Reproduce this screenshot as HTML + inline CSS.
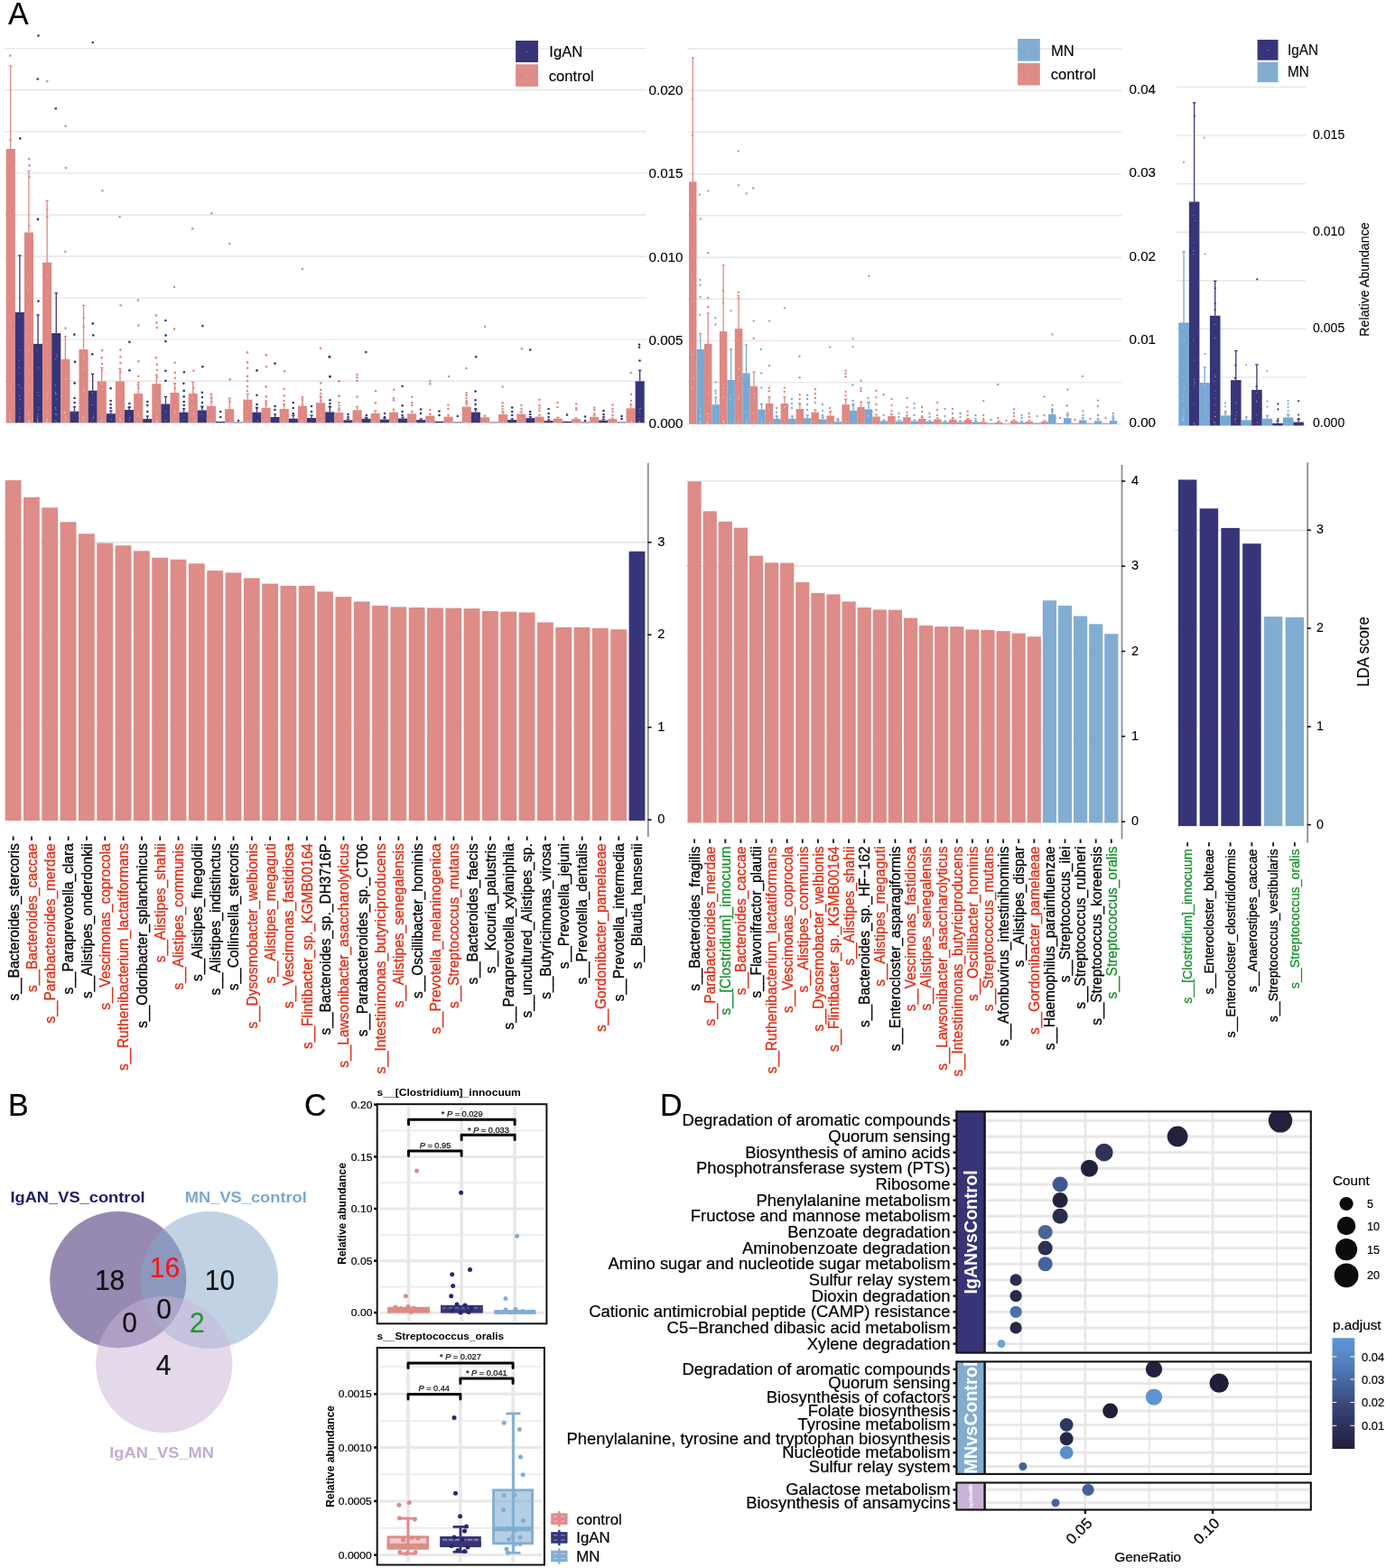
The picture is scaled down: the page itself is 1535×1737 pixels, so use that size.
<!DOCTYPE html>
<html lang="en">
<head>
<meta charset="utf-8">
<title>Figure</title>
<style>
html,body{margin:0;padding:0;background:#fff;}
body{width:1535px;height:1737px;overflow:hidden;}
svg{display:block;font-family:'Liberation Sans', Arial, Helvetica, sans-serif;}
</style>
</head>
<body>
<svg width="1535" height="1737" viewBox="0 0 1535 1737">
<rect x="0" y="0" width="1535" height="1737" fill="#ffffff"/>
<g id="top-charts">
<text transform="translate(9.00,27.00) scale(0.99,1)" font-size="34.34" fill="#000" text-anchor="start" font-weight="normal"  stroke="#000" stroke-width="0.12">A</text>
<line x1="5.00" y1="468.30" x2="716.00" y2="468.30" stroke="#E6E6E6" stroke-width="1.4" />
<line x1="5.00" y1="422.23" x2="716.00" y2="422.23" stroke="#E6E6E6" stroke-width="1.4" />
<line x1="5.00" y1="376.16" x2="716.00" y2="376.16" stroke="#E6E6E6" stroke-width="1.4" />
<line x1="5.00" y1="330.09" x2="716.00" y2="330.09" stroke="#E6E6E6" stroke-width="1.4" />
<line x1="5.00" y1="284.02" x2="716.00" y2="284.02" stroke="#E6E6E6" stroke-width="1.4" />
<line x1="5.00" y1="237.95" x2="716.00" y2="237.95" stroke="#E6E6E6" stroke-width="1.4" />
<line x1="5.00" y1="191.88" x2="716.00" y2="191.88" stroke="#E6E6E6" stroke-width="1.4" />
<line x1="5.00" y1="145.81" x2="716.00" y2="145.81" stroke="#E6E6E6" stroke-width="1.4" />
<line x1="5.00" y1="99.74" x2="716.00" y2="99.74" stroke="#E6E6E6" stroke-width="1.4" />
<line x1="5.00" y1="53.67" x2="716.00" y2="53.67" stroke="#E6E6E6" stroke-width="1.4" />
<rect x="6.70" y="165.00" width="10.10" height="303.30" fill="#DF8883" />
<line x1="11.75" y1="165.00" x2="11.75" y2="72.80" stroke="#DF8883" stroke-width="1.3" />
<line x1="10.05" y1="72.80" x2="13.45" y2="72.80" stroke="#DF8883" stroke-width="1.3" />
<circle cx="11.12" cy="427.71" r="0.55" fill="#ffffff" opacity="0.55"/>
<circle cx="10.98" cy="328.19" r="0.55" fill="#ffffff" opacity="0.55"/>
<circle cx="11.51" cy="369.28" r="0.55" fill="#ffffff" opacity="0.55"/>
<circle cx="11.76" cy="465.51" r="0.55" fill="#ffffff" opacity="0.55"/>
<circle cx="11.63" cy="466.48" r="0.55" fill="#ffffff" opacity="0.55"/>
<circle cx="11.01" cy="464.80" r="0.55" fill="#ffffff" opacity="0.55"/>
<circle cx="12.34" cy="402.85" r="0.55" fill="#ffffff" opacity="0.55"/>
<circle cx="11.25" cy="460.29" r="0.55" fill="#ffffff" opacity="0.55"/>
<circle cx="12.56" cy="337.10" r="0.55" fill="#ffffff" opacity="0.55"/>
<circle cx="11.56" cy="355.29" r="0.55" fill="#ffffff" opacity="0.55"/>
<circle cx="10.93" cy="178.76" r="0.55" fill="#ffffff" opacity="0.55"/>
<circle cx="11.37" cy="238.37" r="0.55" fill="#ffffff" opacity="0.55"/>
<circle cx="11.06" cy="458.07" r="0.55" fill="#ffffff" opacity="0.55"/>
<circle cx="12.32" cy="431.02" r="0.55" fill="#ffffff" opacity="0.55"/>
<rect x="16.80" y="345.90" width="10.10" height="122.40" fill="#373578" />
<line x1="21.85" y1="345.90" x2="21.85" y2="283.00" stroke="#373578" stroke-width="1.3" />
<line x1="20.15" y1="283.00" x2="23.55" y2="283.00" stroke="#373578" stroke-width="1.3" />
<circle cx="22.00" cy="461.76" r="0.55" fill="#ffffff" opacity="0.55"/>
<circle cx="21.62" cy="413.54" r="0.55" fill="#ffffff" opacity="0.55"/>
<circle cx="21.06" cy="426.56" r="0.55" fill="#ffffff" opacity="0.55"/>
<circle cx="21.32" cy="466.55" r="0.55" fill="#ffffff" opacity="0.55"/>
<circle cx="21.72" cy="407.10" r="0.55" fill="#ffffff" opacity="0.55"/>
<circle cx="22.00" cy="452.32" r="0.55" fill="#ffffff" opacity="0.55"/>
<circle cx="21.49" cy="438.33" r="0.55" fill="#ffffff" opacity="0.55"/>
<circle cx="22.21" cy="387.74" r="0.55" fill="#ffffff" opacity="0.55"/>
<circle cx="21.98" cy="457.79" r="0.55" fill="#ffffff" opacity="0.55"/>
<circle cx="22.53" cy="429.52" r="0.55" fill="#ffffff" opacity="0.55"/>
<circle cx="21.47" cy="399.06" r="0.55" fill="#ffffff" opacity="0.55"/>
<circle cx="21.16" cy="351.16" r="0.55" fill="#ffffff" opacity="0.55"/>
<circle cx="22.31" cy="442.24" r="0.55" fill="#ffffff" opacity="0.55"/>
<circle cx="21.83" cy="463.25" r="0.55" fill="#ffffff" opacity="0.55"/>
<rect x="26.90" y="257.50" width="10.10" height="210.80" fill="#DF8883" />
<line x1="31.95" y1="257.50" x2="31.95" y2="189.40" stroke="#DF8883" stroke-width="1.3" />
<line x1="30.25" y1="189.40" x2="33.65" y2="189.40" stroke="#DF8883" stroke-width="1.3" />
<circle cx="32.25" cy="466.69" r="0.55" fill="#ffffff" opacity="0.55"/>
<circle cx="32.08" cy="338.51" r="0.55" fill="#ffffff" opacity="0.55"/>
<circle cx="31.61" cy="302.95" r="0.55" fill="#ffffff" opacity="0.55"/>
<circle cx="32.12" cy="358.75" r="0.55" fill="#ffffff" opacity="0.55"/>
<circle cx="31.87" cy="389.00" r="0.55" fill="#ffffff" opacity="0.55"/>
<circle cx="32.75" cy="314.75" r="0.55" fill="#ffffff" opacity="0.55"/>
<circle cx="32.25" cy="412.81" r="0.55" fill="#ffffff" opacity="0.55"/>
<circle cx="32.31" cy="465.95" r="0.55" fill="#ffffff" opacity="0.55"/>
<circle cx="32.84" cy="371.91" r="0.55" fill="#ffffff" opacity="0.55"/>
<circle cx="31.56" cy="320.60" r="0.55" fill="#ffffff" opacity="0.55"/>
<circle cx="32.25" cy="429.70" r="0.55" fill="#ffffff" opacity="0.55"/>
<circle cx="31.88" cy="467.07" r="0.55" fill="#ffffff" opacity="0.55"/>
<circle cx="31.26" cy="458.88" r="0.55" fill="#ffffff" opacity="0.55"/>
<circle cx="32.43" cy="466.02" r="0.55" fill="#ffffff" opacity="0.55"/>
<rect x="37.00" y="380.90" width="10.10" height="87.40" fill="#373578" />
<line x1="42.05" y1="380.90" x2="42.05" y2="348.90" stroke="#373578" stroke-width="1.3" />
<line x1="40.35" y1="348.90" x2="43.75" y2="348.90" stroke="#373578" stroke-width="1.3" />
<circle cx="41.60" cy="465.15" r="0.55" fill="#ffffff" opacity="0.55"/>
<circle cx="42.72" cy="451.55" r="0.55" fill="#ffffff" opacity="0.55"/>
<circle cx="41.96" cy="466.38" r="0.55" fill="#ffffff" opacity="0.55"/>
<circle cx="42.74" cy="438.24" r="0.55" fill="#ffffff" opacity="0.55"/>
<circle cx="42.71" cy="407.65" r="0.55" fill="#ffffff" opacity="0.55"/>
<circle cx="41.90" cy="458.75" r="0.55" fill="#ffffff" opacity="0.55"/>
<circle cx="42.74" cy="453.81" r="0.55" fill="#ffffff" opacity="0.55"/>
<circle cx="41.42" cy="388.29" r="0.55" fill="#ffffff" opacity="0.55"/>
<circle cx="41.57" cy="463.55" r="0.55" fill="#ffffff" opacity="0.55"/>
<circle cx="42.02" cy="461.08" r="0.55" fill="#ffffff" opacity="0.55"/>
<circle cx="41.62" cy="434.35" r="0.55" fill="#ffffff" opacity="0.55"/>
<circle cx="41.90" cy="467.30" r="0.55" fill="#ffffff" opacity="0.55"/>
<rect x="47.10" y="290.80" width="10.10" height="177.50" fill="#DF8883" />
<line x1="52.15" y1="290.80" x2="52.15" y2="222.40" stroke="#DF8883" stroke-width="1.3" />
<line x1="50.45" y1="222.40" x2="53.85" y2="222.40" stroke="#DF8883" stroke-width="1.3" />
<circle cx="52.27" cy="438.09" r="0.55" fill="#ffffff" opacity="0.55"/>
<circle cx="52.49" cy="306.34" r="0.55" fill="#ffffff" opacity="0.55"/>
<circle cx="52.36" cy="414.06" r="0.55" fill="#ffffff" opacity="0.55"/>
<circle cx="51.35" cy="380.52" r="0.55" fill="#ffffff" opacity="0.55"/>
<circle cx="52.65" cy="322.25" r="0.55" fill="#ffffff" opacity="0.55"/>
<circle cx="52.69" cy="329.43" r="0.55" fill="#ffffff" opacity="0.55"/>
<circle cx="51.97" cy="434.72" r="0.55" fill="#ffffff" opacity="0.55"/>
<circle cx="52.39" cy="464.34" r="0.55" fill="#ffffff" opacity="0.55"/>
<circle cx="51.37" cy="466.12" r="0.55" fill="#ffffff" opacity="0.55"/>
<circle cx="51.54" cy="456.84" r="0.55" fill="#ffffff" opacity="0.55"/>
<circle cx="51.34" cy="442.12" r="0.55" fill="#ffffff" opacity="0.55"/>
<circle cx="51.52" cy="467.30" r="0.55" fill="#ffffff" opacity="0.55"/>
<circle cx="51.90" cy="464.44" r="0.55" fill="#ffffff" opacity="0.55"/>
<circle cx="52.82" cy="467.06" r="0.55" fill="#ffffff" opacity="0.55"/>
<rect x="57.20" y="369.10" width="10.10" height="99.20" fill="#373578" />
<line x1="62.25" y1="369.10" x2="62.25" y2="324.60" stroke="#373578" stroke-width="1.3" />
<line x1="60.55" y1="324.60" x2="63.95" y2="324.60" stroke="#373578" stroke-width="1.3" />
<circle cx="61.62" cy="426.89" r="0.55" fill="#ffffff" opacity="0.55"/>
<circle cx="61.98" cy="459.15" r="0.55" fill="#ffffff" opacity="0.55"/>
<circle cx="61.57" cy="451.52" r="0.55" fill="#ffffff" opacity="0.55"/>
<circle cx="63.14" cy="394.92" r="0.55" fill="#ffffff" opacity="0.55"/>
<circle cx="62.22" cy="442.71" r="0.55" fill="#ffffff" opacity="0.55"/>
<circle cx="61.53" cy="466.13" r="0.55" fill="#ffffff" opacity="0.55"/>
<circle cx="61.83" cy="453.16" r="0.55" fill="#ffffff" opacity="0.55"/>
<circle cx="61.64" cy="397.97" r="0.55" fill="#ffffff" opacity="0.55"/>
<circle cx="63.06" cy="467.19" r="0.55" fill="#ffffff" opacity="0.55"/>
<circle cx="61.61" cy="436.48" r="0.55" fill="#ffffff" opacity="0.55"/>
<circle cx="61.40" cy="434.90" r="0.55" fill="#ffffff" opacity="0.55"/>
<circle cx="63.11" cy="436.50" r="0.55" fill="#ffffff" opacity="0.55"/>
<circle cx="62.60" cy="392.69" r="0.55" fill="#ffffff" opacity="0.55"/>
<circle cx="62.01" cy="458.63" r="0.55" fill="#ffffff" opacity="0.55"/>
<rect x="67.30" y="397.90" width="10.10" height="70.40" fill="#DF8883" />
<line x1="72.35" y1="397.90" x2="72.35" y2="372.60" stroke="#DF8883" stroke-width="1.3" />
<line x1="70.65" y1="372.60" x2="74.05" y2="372.60" stroke="#DF8883" stroke-width="1.3" />
<circle cx="72.84" cy="464.57" r="0.55" fill="#ffffff" opacity="0.55"/>
<circle cx="72.85" cy="445.29" r="0.55" fill="#ffffff" opacity="0.55"/>
<circle cx="71.85" cy="458.02" r="0.55" fill="#ffffff" opacity="0.55"/>
<circle cx="73.22" cy="420.33" r="0.55" fill="#ffffff" opacity="0.55"/>
<circle cx="72.90" cy="415.96" r="0.55" fill="#ffffff" opacity="0.55"/>
<circle cx="72.78" cy="419.62" r="0.55" fill="#ffffff" opacity="0.55"/>
<circle cx="72.38" cy="462.57" r="0.55" fill="#ffffff" opacity="0.55"/>
<circle cx="71.50" cy="456.67" r="0.55" fill="#ffffff" opacity="0.55"/>
<circle cx="71.95" cy="467.19" r="0.55" fill="#ffffff" opacity="0.55"/>
<circle cx="72.70" cy="461.28" r="0.55" fill="#ffffff" opacity="0.55"/>
<rect x="77.40" y="455.70" width="10.10" height="12.60" fill="#373578" />
<line x1="82.45" y1="455.70" x2="82.45" y2="450.70" stroke="#373578" stroke-width="1.3" />
<line x1="80.75" y1="450.70" x2="84.15" y2="450.70" stroke="#373578" stroke-width="1.3" />
<circle cx="82.36" cy="457.52" r="0.55" fill="#ffffff" opacity="0.55"/>
<rect x="87.50" y="387.10" width="10.10" height="81.20" fill="#DF8883" />
<line x1="92.55" y1="387.10" x2="92.55" y2="338.30" stroke="#DF8883" stroke-width="1.3" />
<line x1="90.85" y1="338.30" x2="94.25" y2="338.30" stroke="#DF8883" stroke-width="1.3" />
<circle cx="93.43" cy="396.85" r="0.55" fill="#ffffff" opacity="0.55"/>
<circle cx="92.31" cy="394.40" r="0.55" fill="#ffffff" opacity="0.55"/>
<circle cx="92.06" cy="462.09" r="0.55" fill="#ffffff" opacity="0.55"/>
<circle cx="92.02" cy="463.06" r="0.55" fill="#ffffff" opacity="0.55"/>
<circle cx="93.27" cy="433.40" r="0.55" fill="#ffffff" opacity="0.55"/>
<circle cx="92.51" cy="409.38" r="0.55" fill="#ffffff" opacity="0.55"/>
<circle cx="93.09" cy="430.53" r="0.55" fill="#ffffff" opacity="0.55"/>
<circle cx="92.84" cy="466.37" r="0.55" fill="#ffffff" opacity="0.55"/>
<circle cx="93.06" cy="400.50" r="0.55" fill="#ffffff" opacity="0.55"/>
<circle cx="92.51" cy="420.10" r="0.55" fill="#ffffff" opacity="0.55"/>
<circle cx="93.07" cy="463.74" r="0.55" fill="#ffffff" opacity="0.55"/>
<rect x="97.60" y="432.70" width="10.10" height="35.60" fill="#373578" />
<line x1="102.65" y1="432.70" x2="102.65" y2="414.40" stroke="#373578" stroke-width="1.3" />
<line x1="100.95" y1="414.40" x2="104.35" y2="414.40" stroke="#373578" stroke-width="1.3" />
<circle cx="103.19" cy="462.67" r="0.55" fill="#ffffff" opacity="0.55"/>
<circle cx="102.46" cy="435.39" r="0.55" fill="#ffffff" opacity="0.55"/>
<circle cx="103.45" cy="460.80" r="0.55" fill="#ffffff" opacity="0.55"/>
<circle cx="102.06" cy="448.48" r="0.55" fill="#ffffff" opacity="0.55"/>
<circle cx="102.02" cy="466.48" r="0.55" fill="#ffffff" opacity="0.55"/>
<rect x="107.70" y="422.40" width="10.10" height="45.90" fill="#DF8883" />
<line x1="112.75" y1="422.40" x2="112.75" y2="407.40" stroke="#DF8883" stroke-width="1.3" />
<line x1="111.05" y1="407.40" x2="114.45" y2="407.40" stroke="#DF8883" stroke-width="1.3" />
<circle cx="113.30" cy="430.63" r="0.55" fill="#ffffff" opacity="0.55"/>
<circle cx="113.34" cy="465.92" r="0.55" fill="#ffffff" opacity="0.55"/>
<circle cx="113.03" cy="424.94" r="0.55" fill="#ffffff" opacity="0.55"/>
<circle cx="112.84" cy="460.65" r="0.55" fill="#ffffff" opacity="0.55"/>
<circle cx="111.88" cy="466.17" r="0.55" fill="#ffffff" opacity="0.55"/>
<circle cx="113.02" cy="425.67" r="0.55" fill="#ffffff" opacity="0.55"/>
<rect x="117.80" y="458.20" width="10.10" height="10.10" fill="#373578" />
<line x1="122.85" y1="458.20" x2="122.85" y2="455.00" stroke="#373578" stroke-width="1.3" />
<line x1="121.15" y1="455.00" x2="124.55" y2="455.00" stroke="#373578" stroke-width="1.3" />
<circle cx="123.63" cy="464.75" r="0.55" fill="#ffffff" opacity="0.55"/>
<rect x="127.90" y="422.40" width="10.10" height="45.90" fill="#DF8883" />
<line x1="132.95" y1="422.40" x2="132.95" y2="408.40" stroke="#DF8883" stroke-width="1.3" />
<line x1="131.25" y1="408.40" x2="134.65" y2="408.40" stroke="#DF8883" stroke-width="1.3" />
<circle cx="133.62" cy="457.54" r="0.55" fill="#ffffff" opacity="0.55"/>
<circle cx="132.43" cy="436.17" r="0.55" fill="#ffffff" opacity="0.55"/>
<circle cx="132.58" cy="463.63" r="0.55" fill="#ffffff" opacity="0.55"/>
<circle cx="133.11" cy="463.92" r="0.55" fill="#ffffff" opacity="0.55"/>
<circle cx="132.80" cy="463.43" r="0.55" fill="#ffffff" opacity="0.55"/>
<circle cx="133.69" cy="466.17" r="0.55" fill="#ffffff" opacity="0.55"/>
<rect x="138.00" y="454.00" width="10.10" height="14.30" fill="#373578" />
<line x1="143.05" y1="454.00" x2="143.05" y2="451.50" stroke="#373578" stroke-width="1.3" />
<line x1="141.35" y1="451.50" x2="144.75" y2="451.50" stroke="#373578" stroke-width="1.3" />
<circle cx="142.97" cy="465.40" r="0.55" fill="#ffffff" opacity="0.55"/>
<circle cx="143.78" cy="462.64" r="0.55" fill="#ffffff" opacity="0.55"/>
<rect x="148.10" y="436.00" width="10.10" height="32.30" fill="#DF8883" />
<line x1="153.15" y1="436.00" x2="153.15" y2="426.40" stroke="#DF8883" stroke-width="1.3" />
<line x1="151.45" y1="426.40" x2="154.85" y2="426.40" stroke="#DF8883" stroke-width="1.3" />
<circle cx="153.90" cy="460.93" r="0.55" fill="#ffffff" opacity="0.55"/>
<circle cx="153.21" cy="458.55" r="0.55" fill="#ffffff" opacity="0.55"/>
<circle cx="152.28" cy="457.85" r="0.55" fill="#ffffff" opacity="0.55"/>
<circle cx="152.58" cy="460.38" r="0.55" fill="#ffffff" opacity="0.55"/>
<rect x="158.20" y="464.00" width="10.10" height="4.30" fill="#373578" />
<line x1="163.25" y1="464.00" x2="163.25" y2="461.00" stroke="#373578" stroke-width="1.3" />
<line x1="161.55" y1="461.00" x2="164.95" y2="461.00" stroke="#373578" stroke-width="1.3" />
<rect x="168.30" y="425.20" width="10.10" height="43.10" fill="#DF8883" />
<line x1="173.35" y1="425.20" x2="173.35" y2="415.20" stroke="#DF8883" stroke-width="1.3" />
<line x1="171.65" y1="415.20" x2="175.05" y2="415.20" stroke="#DF8883" stroke-width="1.3" />
<circle cx="173.89" cy="467.30" r="0.55" fill="#ffffff" opacity="0.55"/>
<circle cx="173.30" cy="465.56" r="0.55" fill="#ffffff" opacity="0.55"/>
<circle cx="173.45" cy="444.25" r="0.55" fill="#ffffff" opacity="0.55"/>
<circle cx="173.38" cy="461.83" r="0.55" fill="#ffffff" opacity="0.55"/>
<circle cx="173.86" cy="453.04" r="0.55" fill="#ffffff" opacity="0.55"/>
<circle cx="173.46" cy="466.58" r="0.55" fill="#ffffff" opacity="0.55"/>
<rect x="178.40" y="447.50" width="10.10" height="20.80" fill="#373578" />
<line x1="183.45" y1="447.50" x2="183.45" y2="439.50" stroke="#373578" stroke-width="1.3" />
<line x1="181.75" y1="439.50" x2="185.15" y2="439.50" stroke="#373578" stroke-width="1.3" />
<circle cx="183.05" cy="465.77" r="0.55" fill="#ffffff" opacity="0.55"/>
<circle cx="183.46" cy="455.49" r="0.55" fill="#ffffff" opacity="0.55"/>
<rect x="188.50" y="435.00" width="10.10" height="33.30" fill="#DF8883" />
<line x1="193.55" y1="435.00" x2="193.55" y2="424.70" stroke="#DF8883" stroke-width="1.3" />
<line x1="191.85" y1="424.70" x2="195.25" y2="424.70" stroke="#DF8883" stroke-width="1.3" />
<circle cx="194.02" cy="456.22" r="0.55" fill="#ffffff" opacity="0.55"/>
<circle cx="193.45" cy="440.76" r="0.55" fill="#ffffff" opacity="0.55"/>
<circle cx="193.56" cy="454.35" r="0.55" fill="#ffffff" opacity="0.55"/>
<circle cx="193.90" cy="457.91" r="0.55" fill="#ffffff" opacity="0.55"/>
<rect x="198.60" y="456.70" width="10.10" height="11.60" fill="#373578" />
<line x1="203.65" y1="456.70" x2="203.65" y2="452.70" stroke="#373578" stroke-width="1.3" />
<line x1="201.95" y1="452.70" x2="205.35" y2="452.70" stroke="#373578" stroke-width="1.3" />
<circle cx="203.71" cy="465.00" r="0.55" fill="#ffffff" opacity="0.55"/>
<rect x="208.70" y="436.00" width="10.10" height="32.30" fill="#DF8883" />
<line x1="213.75" y1="436.00" x2="213.75" y2="423.40" stroke="#DF8883" stroke-width="1.3" />
<line x1="212.05" y1="423.40" x2="215.45" y2="423.40" stroke="#DF8883" stroke-width="1.3" />
<circle cx="214.54" cy="459.27" r="0.55" fill="#ffffff" opacity="0.55"/>
<circle cx="214.43" cy="451.39" r="0.55" fill="#ffffff" opacity="0.55"/>
<circle cx="213.32" cy="440.08" r="0.55" fill="#ffffff" opacity="0.55"/>
<circle cx="214.55" cy="456.65" r="0.55" fill="#ffffff" opacity="0.55"/>
<rect x="218.80" y="454.50" width="10.10" height="13.80" fill="#373578" />
<line x1="223.85" y1="454.50" x2="223.85" y2="450.20" stroke="#373578" stroke-width="1.3" />
<line x1="222.15" y1="450.20" x2="225.55" y2="450.20" stroke="#373578" stroke-width="1.3" />
<circle cx="223.20" cy="458.68" r="0.55" fill="#ffffff" opacity="0.55"/>
<rect x="228.90" y="449.70" width="10.10" height="18.60" fill="#DF8883" />
<line x1="233.95" y1="449.70" x2="233.95" y2="436.20" stroke="#DF8883" stroke-width="1.3" />
<line x1="232.25" y1="436.20" x2="235.65" y2="436.20" stroke="#DF8883" stroke-width="1.3" />
<circle cx="233.85" cy="466.93" r="0.55" fill="#ffffff" opacity="0.55"/>
<circle cx="233.48" cy="467.15" r="0.55" fill="#ffffff" opacity="0.55"/>
<rect x="239.00" y="467.00" width="10.10" height="1.30" fill="#373578" />
<rect x="249.10" y="453.20" width="10.10" height="15.10" fill="#DF8883" />
<line x1="254.15" y1="453.20" x2="254.15" y2="441.20" stroke="#DF8883" stroke-width="1.3" />
<line x1="252.45" y1="441.20" x2="255.85" y2="441.20" stroke="#DF8883" stroke-width="1.3" />
<circle cx="254.46" cy="467.18" r="0.55" fill="#ffffff" opacity="0.55"/>
<circle cx="254.86" cy="458.85" r="0.55" fill="#ffffff" opacity="0.55"/>
<rect x="259.20" y="467.70" width="10.10" height="0.60" fill="#373578" />
<rect x="269.30" y="442.70" width="10.10" height="25.60" fill="#DF8883" />
<line x1="274.35" y1="442.70" x2="274.35" y2="436.40" stroke="#DF8883" stroke-width="1.3" />
<line x1="272.65" y1="436.40" x2="276.05" y2="436.40" stroke="#DF8883" stroke-width="1.3" />
<circle cx="274.74" cy="466.48" r="0.55" fill="#ffffff" opacity="0.55"/>
<circle cx="273.71" cy="456.12" r="0.55" fill="#ffffff" opacity="0.55"/>
<circle cx="275.19" cy="448.44" r="0.55" fill="#ffffff" opacity="0.55"/>
<rect x="279.40" y="456.70" width="10.10" height="11.60" fill="#373578" />
<line x1="284.45" y1="456.70" x2="284.45" y2="451.50" stroke="#373578" stroke-width="1.3" />
<line x1="282.75" y1="451.50" x2="286.15" y2="451.50" stroke="#373578" stroke-width="1.3" />
<circle cx="285.26" cy="466.67" r="0.55" fill="#ffffff" opacity="0.55"/>
<rect x="289.50" y="451.70" width="10.10" height="16.60" fill="#DF8883" />
<line x1="294.55" y1="451.70" x2="294.55" y2="446.00" stroke="#DF8883" stroke-width="1.3" />
<line x1="292.85" y1="446.00" x2="296.25" y2="446.00" stroke="#DF8883" stroke-width="1.3" />
<circle cx="294.53" cy="464.52" r="0.55" fill="#ffffff" opacity="0.55"/>
<circle cx="295.15" cy="452.97" r="0.55" fill="#ffffff" opacity="0.55"/>
<rect x="299.60" y="462.00" width="10.10" height="6.30" fill="#373578" />
<line x1="304.65" y1="462.00" x2="304.65" y2="459.00" stroke="#373578" stroke-width="1.3" />
<line x1="302.95" y1="459.00" x2="306.35" y2="459.00" stroke="#373578" stroke-width="1.3" />
<rect x="309.70" y="453.00" width="10.10" height="15.30" fill="#DF8883" />
<line x1="314.75" y1="453.00" x2="314.75" y2="447.70" stroke="#DF8883" stroke-width="1.3" />
<line x1="313.05" y1="447.70" x2="316.45" y2="447.70" stroke="#DF8883" stroke-width="1.3" />
<circle cx="314.63" cy="466.80" r="0.55" fill="#ffffff" opacity="0.55"/>
<circle cx="314.46" cy="463.26" r="0.55" fill="#ffffff" opacity="0.55"/>
<rect x="319.80" y="463.70" width="10.10" height="4.60" fill="#373578" />
<line x1="324.85" y1="463.70" x2="324.85" y2="460.00" stroke="#373578" stroke-width="1.3" />
<line x1="323.15" y1="460.00" x2="326.55" y2="460.00" stroke="#373578" stroke-width="1.3" />
<rect x="329.90" y="449.70" width="10.10" height="18.60" fill="#DF8883" />
<line x1="334.95" y1="449.70" x2="334.95" y2="439.70" stroke="#DF8883" stroke-width="1.3" />
<line x1="333.25" y1="439.70" x2="336.65" y2="439.70" stroke="#DF8883" stroke-width="1.3" />
<circle cx="334.62" cy="466.42" r="0.55" fill="#ffffff" opacity="0.55"/>
<circle cx="334.09" cy="458.06" r="0.55" fill="#ffffff" opacity="0.55"/>
<rect x="340.00" y="463.00" width="10.10" height="5.30" fill="#373578" />
<line x1="345.05" y1="463.00" x2="345.05" y2="460.00" stroke="#373578" stroke-width="1.3" />
<line x1="343.35" y1="460.00" x2="346.75" y2="460.00" stroke="#373578" stroke-width="1.3" />
<rect x="350.10" y="446.20" width="10.10" height="22.10" fill="#DF8883" />
<line x1="355.15" y1="446.20" x2="355.15" y2="439.00" stroke="#DF8883" stroke-width="1.3" />
<line x1="353.45" y1="439.00" x2="356.85" y2="439.00" stroke="#DF8883" stroke-width="1.3" />
<circle cx="355.04" cy="460.36" r="0.55" fill="#ffffff" opacity="0.55"/>
<circle cx="354.85" cy="467.29" r="0.55" fill="#ffffff" opacity="0.55"/>
<circle cx="355.17" cy="458.70" r="0.55" fill="#ffffff" opacity="0.55"/>
<rect x="360.20" y="456.40" width="10.10" height="11.90" fill="#373578" />
<line x1="365.25" y1="456.40" x2="365.25" y2="450.20" stroke="#373578" stroke-width="1.3" />
<line x1="363.55" y1="450.20" x2="366.95" y2="450.20" stroke="#373578" stroke-width="1.3" />
<circle cx="366.12" cy="467.23" r="0.55" fill="#ffffff" opacity="0.55"/>
<rect x="370.30" y="457.10" width="10.10" height="11.20" fill="#DF8883" />
<line x1="375.35" y1="457.10" x2="375.35" y2="453.96" stroke="#DF8883" stroke-width="1.3" />
<line x1="373.65" y1="453.96" x2="377.05" y2="453.96" stroke="#DF8883" stroke-width="1.3" />
<circle cx="376.20" cy="461.30" r="0.55" fill="#ffffff" opacity="0.55"/>
<rect x="380.40" y="465.40" width="10.10" height="2.90" fill="#373578" />
<line x1="385.45" y1="465.40" x2="385.45" y2="464.20" stroke="#373578" stroke-width="1.3" />
<line x1="383.75" y1="464.20" x2="387.15" y2="464.20" stroke="#373578" stroke-width="1.3" />
<rect x="390.50" y="454.30" width="10.10" height="14.00" fill="#DF8883" />
<line x1="395.55" y1="454.30" x2="395.55" y2="450.38" stroke="#DF8883" stroke-width="1.3" />
<line x1="393.85" y1="450.38" x2="397.25" y2="450.38" stroke="#DF8883" stroke-width="1.3" />
<circle cx="395.13" cy="467.09" r="0.55" fill="#ffffff" opacity="0.55"/>
<circle cx="396.05" cy="467.26" r="0.55" fill="#ffffff" opacity="0.55"/>
<rect x="400.60" y="463.80" width="10.10" height="4.50" fill="#373578" />
<line x1="405.65" y1="463.80" x2="405.65" y2="462.54" stroke="#373578" stroke-width="1.3" />
<line x1="403.95" y1="462.54" x2="407.35" y2="462.54" stroke="#373578" stroke-width="1.3" />
<rect x="410.70" y="457.80" width="10.10" height="10.50" fill="#DF8883" />
<line x1="415.75" y1="457.80" x2="415.75" y2="454.86" stroke="#DF8883" stroke-width="1.3" />
<line x1="414.05" y1="454.86" x2="417.45" y2="454.86" stroke="#DF8883" stroke-width="1.3" />
<circle cx="415.08" cy="466.49" r="0.55" fill="#ffffff" opacity="0.55"/>
<rect x="420.80" y="464.60" width="10.10" height="3.70" fill="#373578" />
<line x1="425.85" y1="464.60" x2="425.85" y2="463.40" stroke="#373578" stroke-width="1.3" />
<line x1="424.15" y1="463.40" x2="427.55" y2="463.40" stroke="#373578" stroke-width="1.3" />
<rect x="430.90" y="456.60" width="10.10" height="11.70" fill="#DF8883" />
<line x1="435.95" y1="456.60" x2="435.95" y2="453.32" stroke="#DF8883" stroke-width="1.3" />
<line x1="434.25" y1="453.32" x2="437.65" y2="453.32" stroke="#DF8883" stroke-width="1.3" />
<circle cx="436.69" cy="465.25" r="0.55" fill="#ffffff" opacity="0.55"/>
<rect x="441.00" y="463.60" width="10.10" height="4.70" fill="#373578" />
<line x1="446.05" y1="463.60" x2="446.05" y2="462.28" stroke="#373578" stroke-width="1.3" />
<line x1="444.35" y1="462.28" x2="447.75" y2="462.28" stroke="#373578" stroke-width="1.3" />
<rect x="451.10" y="458.30" width="10.10" height="10.00" fill="#DF8883" />
<line x1="456.15" y1="458.30" x2="456.15" y2="455.50" stroke="#DF8883" stroke-width="1.3" />
<line x1="454.45" y1="455.50" x2="457.85" y2="455.50" stroke="#DF8883" stroke-width="1.3" />
<circle cx="455.72" cy="461.72" r="0.55" fill="#ffffff" opacity="0.55"/>
<rect x="461.20" y="465.10" width="10.10" height="3.20" fill="#373578" />
<line x1="466.25" y1="465.10" x2="466.25" y2="463.90" stroke="#373578" stroke-width="1.3" />
<line x1="464.55" y1="463.90" x2="467.95" y2="463.90" stroke="#373578" stroke-width="1.3" />
<rect x="471.30" y="460.60" width="10.10" height="7.70" fill="#DF8883" />
<line x1="476.35" y1="460.60" x2="476.35" y2="458.44" stroke="#DF8883" stroke-width="1.3" />
<line x1="474.65" y1="458.44" x2="478.05" y2="458.44" stroke="#DF8883" stroke-width="1.3" />
<circle cx="477.10" cy="467.11" r="0.55" fill="#ffffff" opacity="0.55"/>
<rect x="481.40" y="466.80" width="10.10" height="1.50" fill="#373578" />
<rect x="491.50" y="461.60" width="10.10" height="6.70" fill="#DF8883" />
<line x1="496.55" y1="461.60" x2="496.55" y2="459.72" stroke="#DF8883" stroke-width="1.3" />
<line x1="494.85" y1="459.72" x2="498.25" y2="459.72" stroke="#DF8883" stroke-width="1.3" />
<rect x="501.60" y="467.60" width="10.10" height="0.70" fill="#373578" />
<rect x="511.70" y="450.60" width="10.10" height="17.70" fill="#DF8883" />
<line x1="516.75" y1="450.60" x2="516.75" y2="445.64" stroke="#DF8883" stroke-width="1.3" />
<line x1="515.05" y1="445.64" x2="518.45" y2="445.64" stroke="#DF8883" stroke-width="1.3" />
<circle cx="517.11" cy="461.58" r="0.55" fill="#ffffff" opacity="0.55"/>
<circle cx="515.95" cy="467.10" r="0.55" fill="#ffffff" opacity="0.55"/>
<rect x="521.80" y="456.60" width="10.10" height="11.70" fill="#373578" />
<line x1="526.85" y1="456.60" x2="526.85" y2="453.32" stroke="#373578" stroke-width="1.3" />
<line x1="525.15" y1="453.32" x2="528.55" y2="453.32" stroke="#373578" stroke-width="1.3" />
<circle cx="526.72" cy="462.35" r="0.55" fill="#ffffff" opacity="0.55"/>
<rect x="531.90" y="462.30" width="10.10" height="6.00" fill="#DF8883" />
<line x1="536.95" y1="462.30" x2="536.95" y2="460.62" stroke="#DF8883" stroke-width="1.3" />
<line x1="535.25" y1="460.62" x2="538.65" y2="460.62" stroke="#DF8883" stroke-width="1.3" />
<rect x="542.00" y="467.70" width="10.10" height="0.60" fill="#373578" />
<rect x="552.10" y="459.10" width="10.10" height="9.20" fill="#DF8883" />
<line x1="557.15" y1="459.10" x2="557.15" y2="456.52" stroke="#DF8883" stroke-width="1.3" />
<line x1="555.45" y1="456.52" x2="558.85" y2="456.52" stroke="#DF8883" stroke-width="1.3" />
<circle cx="557.94" cy="467.24" r="0.55" fill="#ffffff" opacity="0.55"/>
<rect x="562.20" y="465.10" width="10.10" height="3.20" fill="#373578" />
<line x1="567.25" y1="465.10" x2="567.25" y2="463.90" stroke="#373578" stroke-width="1.3" />
<line x1="565.55" y1="463.90" x2="568.95" y2="463.90" stroke="#373578" stroke-width="1.3" />
<rect x="572.30" y="458.60" width="10.10" height="9.70" fill="#DF8883" />
<line x1="577.35" y1="458.60" x2="577.35" y2="455.88" stroke="#DF8883" stroke-width="1.3" />
<line x1="575.65" y1="455.88" x2="579.05" y2="455.88" stroke="#DF8883" stroke-width="1.3" />
<circle cx="577.89" cy="463.91" r="0.55" fill="#ffffff" opacity="0.55"/>
<rect x="582.40" y="463.10" width="10.10" height="5.20" fill="#373578" />
<line x1="587.45" y1="463.10" x2="587.45" y2="461.64" stroke="#373578" stroke-width="1.3" />
<line x1="585.75" y1="461.64" x2="589.15" y2="461.64" stroke="#373578" stroke-width="1.3" />
<rect x="592.50" y="461.60" width="10.10" height="6.70" fill="#DF8883" />
<line x1="597.55" y1="461.60" x2="597.55" y2="459.72" stroke="#DF8883" stroke-width="1.3" />
<line x1="595.85" y1="459.72" x2="599.25" y2="459.72" stroke="#DF8883" stroke-width="1.3" />
<rect x="602.60" y="466.10" width="10.10" height="2.20" fill="#373578" />
<line x1="607.65" y1="466.10" x2="607.65" y2="464.90" stroke="#373578" stroke-width="1.3" />
<line x1="605.95" y1="464.90" x2="609.35" y2="464.90" stroke="#373578" stroke-width="1.3" />
<rect x="612.70" y="463.60" width="10.10" height="4.70" fill="#DF8883" />
<line x1="617.75" y1="463.60" x2="617.75" y2="462.28" stroke="#DF8883" stroke-width="1.3" />
<line x1="616.05" y1="462.28" x2="619.45" y2="462.28" stroke="#DF8883" stroke-width="1.3" />
<rect x="622.80" y="466.80" width="10.10" height="1.50" fill="#373578" />
<rect x="632.90" y="464.10" width="10.10" height="4.20" fill="#DF8883" />
<line x1="637.95" y1="464.10" x2="637.95" y2="462.90" stroke="#DF8883" stroke-width="1.3" />
<line x1="636.25" y1="462.90" x2="639.65" y2="462.90" stroke="#DF8883" stroke-width="1.3" />
<rect x="643.00" y="467.60" width="10.10" height="0.70" fill="#373578" />
<rect x="653.10" y="461.80" width="10.10" height="6.50" fill="#DF8883" />
<line x1="658.15" y1="461.80" x2="658.15" y2="459.98" stroke="#DF8883" stroke-width="1.3" />
<line x1="656.45" y1="459.98" x2="659.85" y2="459.98" stroke="#DF8883" stroke-width="1.3" />
<rect x="663.20" y="465.60" width="10.10" height="2.70" fill="#373578" />
<line x1="668.25" y1="465.60" x2="668.25" y2="464.40" stroke="#373578" stroke-width="1.3" />
<line x1="666.55" y1="464.40" x2="669.95" y2="464.40" stroke="#373578" stroke-width="1.3" />
<rect x="673.30" y="464.10" width="10.10" height="4.20" fill="#DF8883" />
<line x1="678.35" y1="464.10" x2="678.35" y2="462.90" stroke="#DF8883" stroke-width="1.3" />
<line x1="676.65" y1="462.90" x2="680.05" y2="462.90" stroke="#DF8883" stroke-width="1.3" />
<rect x="683.40" y="467.60" width="10.10" height="0.70" fill="#373578" />
<rect x="693.50" y="452.30" width="10.10" height="16.00" fill="#DF8883" />
<line x1="698.55" y1="452.30" x2="698.55" y2="447.82" stroke="#DF8883" stroke-width="1.3" />
<line x1="696.85" y1="447.82" x2="700.25" y2="447.82" stroke="#DF8883" stroke-width="1.3" />
<circle cx="699.19" cy="467.14" r="0.55" fill="#ffffff" opacity="0.55"/>
<circle cx="699.20" cy="467.19" r="0.55" fill="#ffffff" opacity="0.55"/>
<rect x="703.60" y="422.30" width="10.10" height="46.00" fill="#373578" />
<line x1="708.65" y1="422.30" x2="708.65" y2="410.30" stroke="#373578" stroke-width="1.3" />
<line x1="706.95" y1="410.30" x2="710.35" y2="410.30" stroke="#373578" stroke-width="1.3" />
<circle cx="708.36" cy="456.69" r="0.55" fill="#ffffff" opacity="0.55"/>
<circle cx="709.42" cy="452.15" r="0.55" fill="#ffffff" opacity="0.55"/>
<circle cx="707.98" cy="463.19" r="0.55" fill="#ffffff" opacity="0.55"/>
<circle cx="708.18" cy="453.41" r="0.55" fill="#ffffff" opacity="0.55"/>
<circle cx="708.04" cy="466.48" r="0.55" fill="#ffffff" opacity="0.55"/>
<circle cx="708.11" cy="467.10" r="0.55" fill="#ffffff" opacity="0.55"/>
<circle cx="42.50" cy="39.50" r="1.3" fill="#373578" />
<circle cx="102.80" cy="47.00" r="1.3" fill="#373578" />
<circle cx="41.80" cy="87.60" r="1.3" fill="#373578" />
<circle cx="61.80" cy="120.30" r="1.3" fill="#373578" />
<circle cx="22.30" cy="153.40" r="1.3" fill="#373578" />
<circle cx="42.00" cy="242.90" r="1.3" fill="#373578" />
<circle cx="42.50" cy="333.60" r="1.3" fill="#373578" />
<circle cx="183.40" cy="355.10" r="1.3" fill="#373578" />
<circle cx="102.80" cy="358.40" r="1.3" fill="#373578" />
<circle cx="224.40" cy="361.10" r="1.3" fill="#373578" />
<circle cx="82.30" cy="370.60" r="1.3" fill="#373578" />
<circle cx="103.30" cy="371.40" r="1.3" fill="#373578" />
<circle cx="183.60" cy="371.40" r="1.3" fill="#373578" />
<circle cx="183.40" cy="378.10" r="1.3" fill="#373578" />
<circle cx="143.40" cy="378.90" r="1.3" fill="#373578" />
<circle cx="102.30" cy="392.40" r="1.3" fill="#373578" />
<circle cx="365.00" cy="395.40" r="1.3" fill="#373578" />
<circle cx="83.10" cy="400.90" r="1.3" fill="#373578" />
<circle cx="304.50" cy="402.70" r="1.3" fill="#373578" />
<circle cx="224.40" cy="406.20" r="1.3" fill="#373578" />
<circle cx="143.40" cy="410.20" r="1.3" fill="#373578" />
<circle cx="183.40" cy="410.70" r="1.3" fill="#373578" />
<circle cx="284.50" cy="410.40" r="1.3" fill="#373578" />
<circle cx="203.90" cy="412.20" r="1.3" fill="#373578" />
<circle cx="365.50" cy="417.20" r="1.3" fill="#373578" />
<circle cx="183.40" cy="421.90" r="1.3" fill="#373578" />
<circle cx="82.60" cy="424.40" r="1.3" fill="#373578" />
<circle cx="203.40" cy="424.70" r="1.3" fill="#373578" />
<circle cx="122.60" cy="430.20" r="1.3" fill="#373578" />
<circle cx="203.70" cy="432.90" r="1.3" fill="#373578" />
<circle cx="223.90" cy="434.70" r="1.3" fill="#373578" />
<circle cx="284.50" cy="437.70" r="1.3" fill="#373578" />
<circle cx="203.70" cy="439.40" r="1.3" fill="#373578" />
<circle cx="708.00" cy="381.80" r="1.3" fill="#373578" />
<circle cx="708.00" cy="384.80" r="1.3" fill="#373578" />
<circle cx="587.20" cy="387.50" r="1.3" fill="#373578" />
<circle cx="405.30" cy="390.00" r="1.3" fill="#373578" />
<circle cx="364.80" cy="395.30" r="1.3" fill="#373578" />
<circle cx="527.10" cy="395.30" r="1.3" fill="#373578" />
<circle cx="708.50" cy="399.50" r="1.3" fill="#373578" />
<circle cx="365.50" cy="417.00" r="1.3" fill="#373578" />
<circle cx="445.60" cy="427.80" r="1.3" fill="#373578" />
<circle cx="526.60" cy="433.50" r="1.3" fill="#373578" />
<circle cx="365.50" cy="443.30" r="1.3" fill="#373578" />
<circle cx="526.60" cy="443.30" r="1.3" fill="#373578" />
<circle cx="445.60" cy="449.30" r="1.3" fill="#373578" />
<circle cx="466.00" cy="453.50" r="1.3" fill="#373578" />
<circle cx="486.50" cy="455.50" r="1.3" fill="#373578" />
<circle cx="567.20" cy="451.50" r="1.3" fill="#373578" />
<circle cx="607.60" cy="453.00" r="1.3" fill="#373578" />
<circle cx="628.00" cy="459.50" r="1.3" fill="#373578" />
<circle cx="648.00" cy="461.50" r="1.3" fill="#373578" />
<circle cx="668.50" cy="455.00" r="1.3" fill="#373578" />
<circle cx="688.50" cy="461.00" r="1.3" fill="#373578" />
<circle cx="122.60" cy="444.00" r="1.3" fill="#373578" />
<circle cx="122.60" cy="448.00" r="1.3" fill="#373578" />
<circle cx="122.60" cy="452.00" r="1.3" fill="#373578" />
<circle cx="163.30" cy="445.00" r="1.3" fill="#373578" />
<circle cx="163.30" cy="449.00" r="1.3" fill="#373578" />
<circle cx="163.30" cy="456.00" r="1.3" fill="#373578" />
<circle cx="244.20" cy="456.00" r="1.3" fill="#373578" />
<circle cx="244.20" cy="462.00" r="1.3" fill="#373578" />
<circle cx="264.00" cy="466.00" r="1.3" fill="#373578" />
<circle cx="284.50" cy="448.00" r="1.3" fill="#373578" />
<circle cx="284.50" cy="452.00" r="1.3" fill="#373578" />
<circle cx="304.50" cy="450.00" r="1.3" fill="#373578" />
<circle cx="304.50" cy="454.00" r="1.3" fill="#373578" />
<circle cx="324.70" cy="446.00" r="1.3" fill="#373578" />
<circle cx="324.70" cy="452.00" r="1.3" fill="#373578" />
<circle cx="324.70" cy="458.00" r="1.3" fill="#373578" />
<circle cx="345.00" cy="450.00" r="1.3" fill="#373578" />
<circle cx="345.00" cy="456.00" r="1.3" fill="#373578" />
<circle cx="365.50" cy="447.00" r="1.3" fill="#373578" />
<circle cx="365.50" cy="451.00" r="1.3" fill="#373578" />
<circle cx="385.60" cy="459.00" r="1.3" fill="#373578" />
<circle cx="385.60" cy="462.00" r="1.3" fill="#373578" />
<circle cx="405.80" cy="460.00" r="1.3" fill="#373578" />
<circle cx="405.80" cy="463.00" r="1.3" fill="#373578" />
<circle cx="426.00" cy="458.00" r="1.3" fill="#373578" />
<circle cx="426.00" cy="462.00" r="1.3" fill="#373578" />
<circle cx="445.60" cy="456.00" r="1.3" fill="#373578" />
<circle cx="445.60" cy="460.00" r="1.3" fill="#373578" />
<circle cx="466.00" cy="458.00" r="1.3" fill="#373578" />
<circle cx="486.50" cy="460.00" r="1.3" fill="#373578" />
<circle cx="506.80" cy="461.00" r="1.3" fill="#373578" />
<circle cx="526.60" cy="448.00" r="1.3" fill="#373578" />
<circle cx="526.60" cy="453.00" r="1.3" fill="#373578" />
<circle cx="567.20" cy="456.00" r="1.3" fill="#373578" />
<circle cx="567.20" cy="460.00" r="1.3" fill="#373578" />
<circle cx="587.20" cy="456.00" r="1.3" fill="#373578" />
<circle cx="587.20" cy="459.00" r="1.3" fill="#373578" />
<circle cx="607.60" cy="458.00" r="1.3" fill="#373578" />
<circle cx="607.60" cy="462.00" r="1.3" fill="#373578" />
<circle cx="648.00" cy="466.00" r="1.3" fill="#373578" />
<circle cx="668.50" cy="459.00" r="1.3" fill="#373578" />
<circle cx="668.50" cy="462.00" r="1.3" fill="#373578" />
<circle cx="688.50" cy="464.00" r="1.3" fill="#373578" />
<circle cx="82.60" cy="446.00" r="1.3" fill="#373578" />
<circle cx="82.60" cy="441.00" r="1.3" fill="#373578" />
<circle cx="143.40" cy="447.00" r="1.3" fill="#373578" />
<circle cx="143.40" cy="451.00" r="1.3" fill="#373578" />
<circle cx="203.70" cy="445.00" r="1.3" fill="#373578" />
<circle cx="203.70" cy="449.00" r="1.3" fill="#373578" />
<circle cx="223.90" cy="440.00" r="1.3" fill="#373578" />
<circle cx="223.90" cy="446.00" r="1.3" fill="#373578" />
<circle cx="223.90" cy="451.00" r="1.3" fill="#373578" />
<circle cx="11.30" cy="61.80" r="1.3" fill="#DD8C88" />
<circle cx="52.30" cy="90.00" r="1.3" fill="#DD8C88" />
<circle cx="72.60" cy="139.60" r="1.3" fill="#DD8C88" />
<circle cx="32.30" cy="176.10" r="1.3" fill="#DD8C88" />
<circle cx="32.50" cy="183.40" r="1.3" fill="#DD8C88" />
<circle cx="72.80" cy="186.10" r="1.3" fill="#DD8C88" />
<circle cx="113.30" cy="211.20" r="1.3" fill="#DD8C88" />
<circle cx="234.40" cy="236.20" r="1.3" fill="#DD8C88" />
<circle cx="132.60" cy="240.30" r="1.3" fill="#DD8C88" />
<circle cx="213.20" cy="253.30" r="1.3" fill="#DD8C88" />
<circle cx="254.20" cy="270.00" r="1.3" fill="#DD8C88" />
<circle cx="72.30" cy="278.80" r="1.3" fill="#DD8C88" />
<circle cx="335.00" cy="298.00" r="1.3" fill="#DD8C88" />
<circle cx="193.10" cy="318.00" r="1.3" fill="#DD8C88" />
<circle cx="152.90" cy="332.60" r="1.3" fill="#DD8C88" />
<circle cx="133.60" cy="338.30" r="1.3" fill="#DD8C88" />
<circle cx="173.10" cy="349.40" r="1.3" fill="#DD8C88" />
<circle cx="173.40" cy="357.60" r="1.3" fill="#DD8C88" />
<circle cx="153.40" cy="360.60" r="1.3" fill="#DD8C88" />
<circle cx="173.90" cy="363.10" r="1.3" fill="#DD8C88" />
<circle cx="72.60" cy="363.60" r="1.3" fill="#DD8C88" />
<circle cx="193.10" cy="364.40" r="1.3" fill="#DD8C88" />
<circle cx="355.00" cy="385.90" r="1.3" fill="#DD8C88" />
<circle cx="113.10" cy="388.10" r="1.3" fill="#DD8C88" />
<circle cx="133.40" cy="387.60" r="1.3" fill="#DD8C88" />
<circle cx="274.00" cy="390.40" r="1.3" fill="#DD8C88" />
<circle cx="294.70" cy="393.40" r="1.3" fill="#DD8C88" />
<circle cx="133.40" cy="395.20" r="1.3" fill="#DD8C88" />
<circle cx="112.80" cy="396.40" r="1.3" fill="#DD8C88" />
<circle cx="172.90" cy="396.40" r="1.3" fill="#DD8C88" />
<circle cx="153.40" cy="400.20" r="1.3" fill="#DD8C88" />
<circle cx="274.00" cy="401.40" r="1.3" fill="#DD8C88" />
<circle cx="193.60" cy="401.90" r="1.3" fill="#DD8C88" />
<circle cx="173.90" cy="403.90" r="1.3" fill="#DD8C88" />
<circle cx="295.00" cy="406.20" r="1.3" fill="#DD8C88" />
<circle cx="274.00" cy="407.70" r="1.3" fill="#DD8C88" />
<circle cx="214.40" cy="410.70" r="1.3" fill="#DD8C88" />
<circle cx="315.20" cy="411.20" r="1.3" fill="#DD8C88" />
<circle cx="193.90" cy="412.90" r="1.3" fill="#DD8C88" />
<circle cx="153.40" cy="416.70" r="1.3" fill="#DD8C88" />
<circle cx="274.00" cy="416.90" r="1.3" fill="#DD8C88" />
<circle cx="193.90" cy="418.70" r="1.3" fill="#DD8C88" />
<circle cx="254.70" cy="420.40" r="1.3" fill="#DD8C88" />
<circle cx="375.30" cy="422.20" r="1.3" fill="#DD8C88" />
<circle cx="355.30" cy="424.40" r="1.3" fill="#DD8C88" />
<circle cx="294.70" cy="428.40" r="1.3" fill="#DD8C88" />
<circle cx="314.50" cy="430.70" r="1.3" fill="#DD8C88" />
<circle cx="315.00" cy="438.20" r="1.3" fill="#DD8C88" />
<circle cx="294.70" cy="439.20" r="1.3" fill="#DD8C88" />
<circle cx="375.80" cy="438.70" r="1.3" fill="#DD8C88" />
<circle cx="537.10" cy="361.80" r="1.3" fill="#DD8C88" />
<circle cx="577.90" cy="386.30" r="1.3" fill="#DD8C88" />
<circle cx="516.40" cy="408.00" r="1.3" fill="#DD8C88" />
<circle cx="698.80" cy="413.00" r="1.3" fill="#DD8C88" />
<circle cx="395.50" cy="415.00" r="1.3" fill="#DD8C88" />
<circle cx="395.50" cy="418.30" r="1.3" fill="#DD8C88" />
<circle cx="395.50" cy="421.80" r="1.3" fill="#DD8C88" />
<circle cx="497.10" cy="417.00" r="1.3" fill="#DD8C88" />
<circle cx="375.50" cy="422.30" r="1.3" fill="#DD8C88" />
<circle cx="476.30" cy="422.00" r="1.3" fill="#DD8C88" />
<circle cx="476.30" cy="425.30" r="1.3" fill="#DD8C88" />
<circle cx="556.60" cy="428.50" r="1.3" fill="#DD8C88" />
<circle cx="436.30" cy="431.80" r="1.3" fill="#DD8C88" />
<circle cx="416.00" cy="433.30" r="1.3" fill="#DD8C88" />
<circle cx="516.60" cy="435.30" r="1.3" fill="#DD8C88" />
<circle cx="516.60" cy="437.80" r="1.3" fill="#DD8C88" />
<circle cx="699.00" cy="436.80" r="1.3" fill="#DD8C88" />
<circle cx="375.50" cy="438.80" r="1.3" fill="#DD8C88" />
<circle cx="395.50" cy="439.50" r="1.3" fill="#DD8C88" />
<circle cx="456.30" cy="439.80" r="1.3" fill="#DD8C88" />
<circle cx="436.00" cy="441.30" r="1.3" fill="#DD8C88" />
<circle cx="436.00" cy="443.50" r="1.3" fill="#DD8C88" />
<circle cx="597.40" cy="442.80" r="1.3" fill="#DD8C88" />
<circle cx="617.40" cy="446.00" r="1.3" fill="#DD8C88" />
<circle cx="416.00" cy="446.30" r="1.3" fill="#DD8C88" />
<circle cx="556.60" cy="446.30" r="1.3" fill="#DD8C88" />
<circle cx="638.20" cy="447.50" r="1.3" fill="#DD8C88" />
<circle cx="496.40" cy="448.80" r="1.3" fill="#DD8C88" />
<circle cx="678.50" cy="448.50" r="1.3" fill="#DD8C88" />
<circle cx="577.50" cy="449.00" r="1.3" fill="#DD8C88" />
<circle cx="456.30" cy="446.00" r="1.3" fill="#DD8C88" />
<circle cx="456.30" cy="449.00" r="1.3" fill="#DD8C88" />
<circle cx="597.40" cy="449.00" r="1.3" fill="#DD8C88" />
<circle cx="597.40" cy="452.00" r="1.3" fill="#DD8C88" />
<circle cx="597.40" cy="455.00" r="1.3" fill="#DD8C88" />
<circle cx="617.40" cy="451.00" r="1.3" fill="#DD8C88" />
<circle cx="638.20" cy="452.00" r="1.3" fill="#DD8C88" />
<circle cx="638.20" cy="454.00" r="1.3" fill="#DD8C88" />
<circle cx="658.30" cy="451.50" r="1.3" fill="#DD8C88" />
<circle cx="658.30" cy="454.00" r="1.3" fill="#DD8C88" />
<circle cx="658.30" cy="458.00" r="1.3" fill="#DD8C88" />
<circle cx="678.50" cy="453.00" r="1.3" fill="#DD8C88" />
<circle cx="678.50" cy="456.00" r="1.3" fill="#DD8C88" />
<circle cx="678.50" cy="460.00" r="1.3" fill="#DD8C88" />
<circle cx="556.60" cy="450.00" r="1.3" fill="#DD8C88" />
<circle cx="556.60" cy="453.00" r="1.3" fill="#DD8C88" />
<circle cx="556.60" cy="456.00" r="1.3" fill="#DD8C88" />
<circle cx="577.50" cy="453.00" r="1.3" fill="#DD8C88" />
<circle cx="496.40" cy="453.00" r="1.3" fill="#DD8C88" />
<circle cx="476.30" cy="454.00" r="1.3" fill="#DD8C88" />
<circle cx="516.60" cy="441.00" r="1.3" fill="#DD8C88" />
<circle cx="516.60" cy="444.00" r="1.3" fill="#DD8C88" />
<circle cx="516.60" cy="447.00" r="1.3" fill="#DD8C88" />
<circle cx="375.50" cy="446.00" r="1.3" fill="#DD8C88" />
<circle cx="375.50" cy="449.00" r="1.3" fill="#DD8C88" />
<circle cx="375.50" cy="452.00" r="1.3" fill="#DD8C88" />
<circle cx="355.30" cy="432.00" r="1.3" fill="#DD8C88" />
<circle cx="355.30" cy="436.00" r="1.3" fill="#DD8C88" />
<circle cx="355.30" cy="440.00" r="1.3" fill="#DD8C88" />
<circle cx="355.30" cy="444.00" r="1.3" fill="#DD8C88" />
<circle cx="335.00" cy="443.00" r="1.3" fill="#DD8C88" />
<circle cx="335.00" cy="448.00" r="1.3" fill="#DD8C88" />
<circle cx="314.50" cy="444.00" r="1.3" fill="#DD8C88" />
<circle cx="314.50" cy="448.00" r="1.3" fill="#DD8C88" />
<circle cx="294.70" cy="444.00" r="1.3" fill="#DD8C88" />
<circle cx="294.70" cy="448.00" r="1.3" fill="#DD8C88" />
<circle cx="274.00" cy="422.00" r="1.3" fill="#DD8C88" />
<circle cx="274.00" cy="428.00" r="1.3" fill="#DD8C88" />
<circle cx="274.00" cy="433.00" r="1.3" fill="#DD8C88" />
<circle cx="254.70" cy="445.00" r="1.3" fill="#DD8C88" />
<circle cx="234.40" cy="441.00" r="1.3" fill="#DD8C88" />
<circle cx="234.40" cy="445.00" r="1.3" fill="#DD8C88" />
<circle cx="214.40" cy="430.00" r="1.3" fill="#DD8C88" />
<circle cx="214.40" cy="436.00" r="1.3" fill="#DD8C88" />
<circle cx="193.90" cy="425.00" r="1.3" fill="#DD8C88" />
<circle cx="193.90" cy="430.00" r="1.3" fill="#DD8C88" />
<circle cx="173.90" cy="410.00" r="1.3" fill="#DD8C88" />
<circle cx="173.90" cy="418.00" r="1.3" fill="#DD8C88" />
<circle cx="153.40" cy="424.00" r="1.3" fill="#DD8C88" />
<circle cx="153.40" cy="430.00" r="1.3" fill="#DD8C88" />
<circle cx="133.40" cy="402.00" r="1.3" fill="#DD8C88" />
<circle cx="133.40" cy="412.00" r="1.3" fill="#DD8C88" />
<circle cx="113.10" cy="403.00" r="1.3" fill="#DD8C88" />
<circle cx="113.10" cy="410.00" r="1.3" fill="#DD8C88" />
<circle cx="92.80" cy="352.00" r="1.3" fill="#DD8C88" />
<circle cx="92.80" cy="362.00" r="1.3" fill="#DD8C88" />
<circle cx="52.30" cy="232.00" r="1.3" fill="#DD8C88" />
<circle cx="52.30" cy="240.00" r="1.3" fill="#DD8C88" />
<circle cx="32.30" cy="196.00" r="1.3" fill="#DD8C88" />
<circle cx="32.30" cy="250.00" r="1.3" fill="#DD8C88" />
<circle cx="11.30" cy="155.00" r="1.3" fill="#DD8C88" />
<circle cx="11.30" cy="310.00" r="1.3" fill="#DD8C88" />
<circle cx="699.00" cy="448.00" r="1.3" fill="#DD8C88" />
<circle cx="699.00" cy="444.00" r="1.3" fill="#DD8C88" />
<text transform="translate(718.50,473.85) scale(1.02,1)" font-size="14.90" fill="#000" text-anchor="start" font-weight="normal"  stroke="#000" stroke-width="0.12">0.000</text>
<text transform="translate(718.50,381.71) scale(1.02,1)" font-size="14.90" fill="#000" text-anchor="start" font-weight="normal"  stroke="#000" stroke-width="0.12">0.005</text>
<text transform="translate(718.50,289.57) scale(1.02,1)" font-size="14.90" fill="#000" text-anchor="start" font-weight="normal"  stroke="#000" stroke-width="0.12">0.010</text>
<text transform="translate(718.50,197.43) scale(1.02,1)" font-size="14.90" fill="#000" text-anchor="start" font-weight="normal"  stroke="#000" stroke-width="0.12">0.015</text>
<text transform="translate(718.50,105.29) scale(1.02,1)" font-size="14.90" fill="#000" text-anchor="start" font-weight="normal"  stroke="#000" stroke-width="0.12">0.020</text>
<rect x="571.10" y="45.00" width="24.90" height="24.00" fill="#373578" />
<circle cx="583.50" cy="57.00" r="0.6" fill="#fff" opacity="0.6"/>
<rect x="571.10" y="71.30" width="24.90" height="24.50" fill="#DD8C88" />
<circle cx="583.50" cy="83.50" r="0.6" fill="#fff" opacity="0.6"/>
<text transform="translate(608.30,63.00) scale(0.96,1)" font-size="17.29" fill="#000" text-anchor="start" font-weight="normal"  stroke="#000" stroke-width="0.12">IgAN</text>
<text transform="translate(607.80,89.60) scale(0.96,1)" font-size="17.29" fill="#000" text-anchor="start" font-weight="normal"  stroke="#000" stroke-width="0.12">control</text>
<line x1="761.00" y1="469.80" x2="1242.00" y2="469.80" stroke="#E6E6E6" stroke-width="1.4" />
<line x1="761.00" y1="423.60" x2="1242.00" y2="423.60" stroke="#E6E6E6" stroke-width="1.4" />
<line x1="761.00" y1="377.40" x2="1242.00" y2="377.40" stroke="#E6E6E6" stroke-width="1.4" />
<line x1="761.00" y1="331.20" x2="1242.00" y2="331.20" stroke="#E6E6E6" stroke-width="1.4" />
<line x1="761.00" y1="285.00" x2="1242.00" y2="285.00" stroke="#E6E6E6" stroke-width="1.4" />
<line x1="761.00" y1="238.80" x2="1242.00" y2="238.80" stroke="#E6E6E6" stroke-width="1.4" />
<line x1="761.00" y1="192.60" x2="1242.00" y2="192.60" stroke="#E6E6E6" stroke-width="1.4" />
<line x1="761.00" y1="146.40" x2="1242.00" y2="146.40" stroke="#E6E6E6" stroke-width="1.4" />
<line x1="761.00" y1="100.20" x2="1242.00" y2="100.20" stroke="#E6E6E6" stroke-width="1.4" />
<line x1="761.00" y1="54.00" x2="1242.00" y2="54.00" stroke="#E6E6E6" stroke-width="1.4" />
<rect x="763.00" y="201.20" width="8.47" height="268.60" fill="#DF8883" />
<line x1="767.24" y1="201.20" x2="767.24" y2="64.00" stroke="#DF8883" stroke-width="1.3" />
<line x1="765.53" y1="64.00" x2="768.94" y2="64.00" stroke="#DF8883" stroke-width="1.3" />
<circle cx="766.88" cy="436.04" r="0.55" fill="#ffffff" opacity="0.55"/>
<circle cx="766.86" cy="306.32" r="0.55" fill="#ffffff" opacity="0.55"/>
<circle cx="766.66" cy="392.21" r="0.55" fill="#ffffff" opacity="0.55"/>
<circle cx="766.37" cy="429.13" r="0.55" fill="#ffffff" opacity="0.55"/>
<circle cx="766.36" cy="446.74" r="0.55" fill="#ffffff" opacity="0.55"/>
<circle cx="767.33" cy="316.35" r="0.55" fill="#ffffff" opacity="0.55"/>
<circle cx="767.19" cy="455.45" r="0.55" fill="#ffffff" opacity="0.55"/>
<circle cx="766.53" cy="232.74" r="0.55" fill="#ffffff" opacity="0.55"/>
<circle cx="767.11" cy="282.72" r="0.55" fill="#ffffff" opacity="0.55"/>
<circle cx="767.84" cy="393.61" r="0.55" fill="#ffffff" opacity="0.55"/>
<circle cx="767.25" cy="419.15" r="0.55" fill="#ffffff" opacity="0.55"/>
<circle cx="768.10" cy="332.90" r="0.55" fill="#ffffff" opacity="0.55"/>
<circle cx="767.83" cy="430.01" r="0.55" fill="#ffffff" opacity="0.55"/>
<circle cx="767.48" cy="326.07" r="0.55" fill="#ffffff" opacity="0.55"/>
<rect x="771.47" y="386.90" width="8.47" height="82.90" fill="#77A8D3" />
<line x1="775.71" y1="386.90" x2="775.71" y2="369.60" stroke="#77A8D3" stroke-width="1.3" />
<line x1="774.00" y1="369.60" x2="777.41" y2="369.60" stroke="#77A8D3" stroke-width="1.3" />
<circle cx="775.43" cy="452.92" r="0.55" fill="#ffffff" opacity="0.55"/>
<circle cx="775.04" cy="468.37" r="0.55" fill="#ffffff" opacity="0.55"/>
<circle cx="776.14" cy="468.11" r="0.55" fill="#ffffff" opacity="0.55"/>
<circle cx="775.10" cy="461.86" r="0.55" fill="#ffffff" opacity="0.55"/>
<circle cx="776.32" cy="467.85" r="0.55" fill="#ffffff" opacity="0.55"/>
<circle cx="776.01" cy="405.77" r="0.55" fill="#ffffff" opacity="0.55"/>
<circle cx="775.24" cy="460.52" r="0.55" fill="#ffffff" opacity="0.55"/>
<circle cx="775.63" cy="459.92" r="0.55" fill="#ffffff" opacity="0.55"/>
<circle cx="775.61" cy="465.89" r="0.55" fill="#ffffff" opacity="0.55"/>
<circle cx="776.54" cy="461.48" r="0.55" fill="#ffffff" opacity="0.55"/>
<circle cx="775.79" cy="391.84" r="0.55" fill="#ffffff" opacity="0.55"/>
<rect x="779.94" y="380.90" width="8.47" height="88.90" fill="#DF8883" />
<line x1="784.18" y1="380.90" x2="784.18" y2="346.90" stroke="#DF8883" stroke-width="1.3" />
<line x1="782.48" y1="346.90" x2="785.88" y2="346.90" stroke="#DF8883" stroke-width="1.3" />
<circle cx="785.01" cy="461.92" r="0.55" fill="#ffffff" opacity="0.55"/>
<circle cx="783.92" cy="458.27" r="0.55" fill="#ffffff" opacity="0.55"/>
<circle cx="783.96" cy="468.80" r="0.55" fill="#ffffff" opacity="0.55"/>
<circle cx="784.18" cy="446.08" r="0.55" fill="#ffffff" opacity="0.55"/>
<circle cx="784.18" cy="463.96" r="0.55" fill="#ffffff" opacity="0.55"/>
<circle cx="783.75" cy="468.79" r="0.55" fill="#ffffff" opacity="0.55"/>
<circle cx="783.99" cy="467.67" r="0.55" fill="#ffffff" opacity="0.55"/>
<circle cx="783.32" cy="468.52" r="0.55" fill="#ffffff" opacity="0.55"/>
<circle cx="783.69" cy="458.59" r="0.55" fill="#ffffff" opacity="0.55"/>
<circle cx="784.23" cy="435.64" r="0.55" fill="#ffffff" opacity="0.55"/>
<circle cx="784.46" cy="416.96" r="0.55" fill="#ffffff" opacity="0.55"/>
<circle cx="784.86" cy="421.17" r="0.55" fill="#ffffff" opacity="0.55"/>
<rect x="788.41" y="448.20" width="8.47" height="21.60" fill="#77A8D3" />
<line x1="792.64" y1="448.20" x2="792.64" y2="440.20" stroke="#77A8D3" stroke-width="1.3" />
<line x1="790.94" y1="440.20" x2="794.35" y2="440.20" stroke="#77A8D3" stroke-width="1.3" />
<circle cx="792.33" cy="465.21" r="0.55" fill="#ffffff" opacity="0.55"/>
<circle cx="792.01" cy="449.74" r="0.55" fill="#ffffff" opacity="0.55"/>
<circle cx="792.90" cy="457.84" r="0.55" fill="#ffffff" opacity="0.55"/>
<rect x="796.88" y="367.10" width="8.47" height="102.70" fill="#DF8883" />
<line x1="801.12" y1="367.10" x2="801.12" y2="293.80" stroke="#DF8883" stroke-width="1.3" />
<line x1="799.41" y1="293.80" x2="802.82" y2="293.80" stroke="#DF8883" stroke-width="1.3" />
<circle cx="801.72" cy="468.44" r="0.55" fill="#ffffff" opacity="0.55"/>
<circle cx="801.34" cy="386.83" r="0.55" fill="#ffffff" opacity="0.55"/>
<circle cx="801.68" cy="411.11" r="0.55" fill="#ffffff" opacity="0.55"/>
<circle cx="801.16" cy="465.90" r="0.55" fill="#ffffff" opacity="0.55"/>
<circle cx="801.72" cy="439.42" r="0.55" fill="#ffffff" opacity="0.55"/>
<circle cx="801.70" cy="400.70" r="0.55" fill="#ffffff" opacity="0.55"/>
<circle cx="801.82" cy="430.55" r="0.55" fill="#ffffff" opacity="0.55"/>
<circle cx="801.46" cy="418.12" r="0.55" fill="#ffffff" opacity="0.55"/>
<circle cx="800.27" cy="461.66" r="0.55" fill="#ffffff" opacity="0.55"/>
<circle cx="800.86" cy="466.13" r="0.55" fill="#ffffff" opacity="0.55"/>
<circle cx="801.72" cy="467.06" r="0.55" fill="#ffffff" opacity="0.55"/>
<circle cx="801.34" cy="433.51" r="0.55" fill="#ffffff" opacity="0.55"/>
<circle cx="801.44" cy="425.43" r="0.55" fill="#ffffff" opacity="0.55"/>
<circle cx="800.22" cy="440.99" r="0.55" fill="#ffffff" opacity="0.55"/>
<rect x="805.35" y="420.90" width="8.47" height="48.90" fill="#77A8D3" />
<line x1="809.59" y1="420.90" x2="809.59" y2="386.90" stroke="#77A8D3" stroke-width="1.3" />
<line x1="807.88" y1="386.90" x2="811.29" y2="386.90" stroke="#77A8D3" stroke-width="1.3" />
<circle cx="810.03" cy="437.58" r="0.55" fill="#ffffff" opacity="0.55"/>
<circle cx="809.65" cy="455.19" r="0.55" fill="#ffffff" opacity="0.55"/>
<circle cx="808.80" cy="446.64" r="0.55" fill="#ffffff" opacity="0.55"/>
<circle cx="809.14" cy="441.74" r="0.55" fill="#ffffff" opacity="0.55"/>
<circle cx="809.16" cy="468.36" r="0.55" fill="#ffffff" opacity="0.55"/>
<circle cx="809.05" cy="442.23" r="0.55" fill="#ffffff" opacity="0.55"/>
<rect x="813.82" y="364.10" width="8.47" height="105.70" fill="#DF8883" />
<line x1="818.06" y1="364.10" x2="818.06" y2="330.10" stroke="#DF8883" stroke-width="1.3" />
<line x1="816.36" y1="330.10" x2="819.76" y2="330.10" stroke="#DF8883" stroke-width="1.3" />
<circle cx="818.91" cy="408.51" r="0.55" fill="#ffffff" opacity="0.55"/>
<circle cx="817.84" cy="439.67" r="0.55" fill="#ffffff" opacity="0.55"/>
<circle cx="818.39" cy="441.23" r="0.55" fill="#ffffff" opacity="0.55"/>
<circle cx="818.27" cy="404.47" r="0.55" fill="#ffffff" opacity="0.55"/>
<circle cx="817.29" cy="422.00" r="0.55" fill="#ffffff" opacity="0.55"/>
<circle cx="817.61" cy="465.49" r="0.55" fill="#ffffff" opacity="0.55"/>
<circle cx="817.70" cy="408.02" r="0.55" fill="#ffffff" opacity="0.55"/>
<circle cx="817.18" cy="431.37" r="0.55" fill="#ffffff" opacity="0.55"/>
<circle cx="817.64" cy="468.13" r="0.55" fill="#ffffff" opacity="0.55"/>
<circle cx="818.40" cy="418.10" r="0.55" fill="#ffffff" opacity="0.55"/>
<circle cx="817.68" cy="417.59" r="0.55" fill="#ffffff" opacity="0.55"/>
<circle cx="817.99" cy="437.22" r="0.55" fill="#ffffff" opacity="0.55"/>
<circle cx="817.37" cy="442.53" r="0.55" fill="#ffffff" opacity="0.55"/>
<circle cx="817.51" cy="384.10" r="0.55" fill="#ffffff" opacity="0.55"/>
<rect x="822.29" y="413.40" width="8.47" height="56.40" fill="#77A8D3" />
<line x1="826.52" y1="413.40" x2="826.52" y2="382.10" stroke="#77A8D3" stroke-width="1.3" />
<line x1="824.82" y1="382.10" x2="828.23" y2="382.10" stroke="#77A8D3" stroke-width="1.3" />
<circle cx="827.31" cy="416.52" r="0.55" fill="#ffffff" opacity="0.55"/>
<circle cx="826.45" cy="468.76" r="0.55" fill="#ffffff" opacity="0.55"/>
<circle cx="827.37" cy="430.75" r="0.55" fill="#ffffff" opacity="0.55"/>
<circle cx="826.11" cy="455.90" r="0.55" fill="#ffffff" opacity="0.55"/>
<circle cx="827.33" cy="465.53" r="0.55" fill="#ffffff" opacity="0.55"/>
<circle cx="826.67" cy="465.50" r="0.55" fill="#ffffff" opacity="0.55"/>
<circle cx="826.57" cy="467.18" r="0.55" fill="#ffffff" opacity="0.55"/>
<circle cx="825.86" cy="418.94" r="0.55" fill="#ffffff" opacity="0.55"/>
<rect x="830.76" y="427.90" width="8.47" height="41.90" fill="#DF8883" />
<line x1="835.00" y1="427.90" x2="835.00" y2="412.20" stroke="#DF8883" stroke-width="1.3" />
<line x1="833.29" y1="412.20" x2="836.70" y2="412.20" stroke="#DF8883" stroke-width="1.3" />
<circle cx="835.01" cy="440.87" r="0.55" fill="#ffffff" opacity="0.55"/>
<circle cx="835.36" cy="436.65" r="0.55" fill="#ffffff" opacity="0.55"/>
<circle cx="835.71" cy="465.94" r="0.55" fill="#ffffff" opacity="0.55"/>
<circle cx="834.14" cy="457.91" r="0.55" fill="#ffffff" opacity="0.55"/>
<circle cx="834.98" cy="468.80" r="0.55" fill="#ffffff" opacity="0.55"/>
<rect x="839.23" y="453.50" width="8.47" height="16.30" fill="#77A8D3" />
<line x1="843.47" y1="453.50" x2="843.47" y2="447.70" stroke="#77A8D3" stroke-width="1.3" />
<line x1="841.76" y1="447.70" x2="845.17" y2="447.70" stroke="#77A8D3" stroke-width="1.3" />
<circle cx="843.11" cy="465.39" r="0.55" fill="#ffffff" opacity="0.55"/>
<circle cx="843.18" cy="468.38" r="0.55" fill="#ffffff" opacity="0.55"/>
<rect x="847.70" y="447.00" width="8.47" height="22.80" fill="#DF8883" />
<line x1="851.94" y1="447.00" x2="851.94" y2="439.70" stroke="#DF8883" stroke-width="1.3" />
<line x1="850.24" y1="439.70" x2="853.64" y2="439.70" stroke="#DF8883" stroke-width="1.3" />
<circle cx="852.55" cy="466.18" r="0.55" fill="#ffffff" opacity="0.55"/>
<circle cx="852.39" cy="468.80" r="0.55" fill="#ffffff" opacity="0.55"/>
<circle cx="851.25" cy="453.63" r="0.55" fill="#ffffff" opacity="0.55"/>
<rect x="856.17" y="464.00" width="8.47" height="5.80" fill="#77A8D3" />
<line x1="860.40" y1="464.00" x2="860.40" y2="461.00" stroke="#77A8D3" stroke-width="1.3" />
<line x1="858.70" y1="461.00" x2="862.11" y2="461.00" stroke="#77A8D3" stroke-width="1.3" />
<rect x="864.64" y="447.00" width="8.47" height="22.80" fill="#DF8883" />
<line x1="868.88" y1="447.00" x2="868.88" y2="439.70" stroke="#DF8883" stroke-width="1.3" />
<line x1="867.17" y1="439.70" x2="870.58" y2="439.70" stroke="#DF8883" stroke-width="1.3" />
<circle cx="869.26" cy="450.67" r="0.55" fill="#ffffff" opacity="0.55"/>
<circle cx="868.50" cy="451.54" r="0.55" fill="#ffffff" opacity="0.55"/>
<circle cx="868.68" cy="465.29" r="0.55" fill="#ffffff" opacity="0.55"/>
<rect x="873.11" y="464.00" width="8.47" height="5.80" fill="#77A8D3" />
<line x1="877.35" y1="464.00" x2="877.35" y2="461.00" stroke="#77A8D3" stroke-width="1.3" />
<line x1="875.64" y1="461.00" x2="879.05" y2="461.00" stroke="#77A8D3" stroke-width="1.3" />
<rect x="881.58" y="453.00" width="8.47" height="16.80" fill="#DF8883" />
<line x1="885.82" y1="453.00" x2="885.82" y2="447.70" stroke="#DF8883" stroke-width="1.3" />
<line x1="884.12" y1="447.70" x2="887.52" y2="447.70" stroke="#DF8883" stroke-width="1.3" />
<circle cx="885.98" cy="454.03" r="0.55" fill="#ffffff" opacity="0.55"/>
<circle cx="885.69" cy="466.44" r="0.55" fill="#ffffff" opacity="0.55"/>
<rect x="890.05" y="463.20" width="8.47" height="6.60" fill="#77A8D3" />
<line x1="894.28" y1="463.20" x2="894.28" y2="460.00" stroke="#77A8D3" stroke-width="1.3" />
<line x1="892.58" y1="460.00" x2="895.99" y2="460.00" stroke="#77A8D3" stroke-width="1.3" />
<rect x="898.52" y="456.70" width="8.47" height="13.10" fill="#DF8883" />
<line x1="902.75" y1="456.70" x2="902.75" y2="454.00" stroke="#DF8883" stroke-width="1.3" />
<line x1="901.05" y1="454.00" x2="904.46" y2="454.00" stroke="#DF8883" stroke-width="1.3" />
<circle cx="901.94" cy="467.71" r="0.55" fill="#ffffff" opacity="0.55"/>
<rect x="906.99" y="464.50" width="8.47" height="5.30" fill="#77A8D3" />
<line x1="911.23" y1="464.50" x2="911.23" y2="462.00" stroke="#77A8D3" stroke-width="1.3" />
<line x1="909.52" y1="462.00" x2="912.93" y2="462.00" stroke="#77A8D3" stroke-width="1.3" />
<rect x="915.46" y="460.50" width="8.47" height="9.30" fill="#DF8883" />
<line x1="919.70" y1="460.50" x2="919.70" y2="455.70" stroke="#DF8883" stroke-width="1.3" />
<line x1="918.00" y1="455.70" x2="921.40" y2="455.70" stroke="#DF8883" stroke-width="1.3" />
<circle cx="920.30" cy="468.68" r="0.55" fill="#ffffff" opacity="0.55"/>
<rect x="923.93" y="467.20" width="8.47" height="2.60" fill="#77A8D3" />
<line x1="928.17" y1="467.20" x2="928.17" y2="465.50" stroke="#77A8D3" stroke-width="1.3" />
<line x1="926.47" y1="465.50" x2="929.87" y2="465.50" stroke="#77A8D3" stroke-width="1.3" />
<rect x="932.40" y="448.20" width="8.47" height="21.60" fill="#DF8883" />
<line x1="936.63" y1="448.20" x2="936.63" y2="442.20" stroke="#DF8883" stroke-width="1.3" />
<line x1="934.93" y1="442.20" x2="938.34" y2="442.20" stroke="#DF8883" stroke-width="1.3" />
<circle cx="937.42" cy="466.75" r="0.55" fill="#ffffff" opacity="0.55"/>
<circle cx="936.21" cy="467.19" r="0.55" fill="#ffffff" opacity="0.55"/>
<circle cx="936.08" cy="462.95" r="0.55" fill="#ffffff" opacity="0.55"/>
<rect x="940.87" y="454.70" width="8.47" height="15.10" fill="#77A8D3" />
<line x1="945.11" y1="454.70" x2="945.11" y2="447.70" stroke="#77A8D3" stroke-width="1.3" />
<line x1="943.40" y1="447.70" x2="946.81" y2="447.70" stroke="#77A8D3" stroke-width="1.3" />
<circle cx="945.93" cy="466.58" r="0.55" fill="#ffffff" opacity="0.55"/>
<circle cx="945.67" cy="458.30" r="0.55" fill="#ffffff" opacity="0.55"/>
<rect x="949.34" y="451.00" width="8.47" height="18.80" fill="#DF8883" />
<line x1="953.58" y1="451.00" x2="953.58" y2="445.20" stroke="#DF8883" stroke-width="1.3" />
<line x1="951.88" y1="445.20" x2="955.28" y2="445.20" stroke="#DF8883" stroke-width="1.3" />
<circle cx="954.32" cy="461.47" r="0.55" fill="#ffffff" opacity="0.55"/>
<circle cx="953.66" cy="453.75" r="0.55" fill="#ffffff" opacity="0.55"/>
<rect x="957.81" y="453.50" width="8.47" height="16.30" fill="#77A8D3" />
<line x1="962.04" y1="453.50" x2="962.04" y2="445.70" stroke="#77A8D3" stroke-width="1.3" />
<line x1="960.34" y1="445.70" x2="963.75" y2="445.70" stroke="#77A8D3" stroke-width="1.3" />
<circle cx="961.23" cy="460.89" r="0.55" fill="#ffffff" opacity="0.55"/>
<circle cx="961.96" cy="460.64" r="0.55" fill="#ffffff" opacity="0.55"/>
<rect x="966.28" y="461.50" width="8.47" height="8.30" fill="#DF8883" />
<line x1="970.51" y1="461.50" x2="970.51" y2="459.18" stroke="#DF8883" stroke-width="1.3" />
<line x1="968.81" y1="459.18" x2="972.22" y2="459.18" stroke="#DF8883" stroke-width="1.3" />
<circle cx="970.78" cy="465.02" r="0.55" fill="#ffffff" opacity="0.55"/>
<rect x="974.75" y="466.50" width="8.47" height="3.30" fill="#77A8D3" />
<line x1="978.99" y1="466.50" x2="978.99" y2="465.30" stroke="#77A8D3" stroke-width="1.3" />
<line x1="977.28" y1="465.30" x2="980.69" y2="465.30" stroke="#77A8D3" stroke-width="1.3" />
<rect x="983.22" y="461.00" width="8.47" height="8.80" fill="#DF8883" />
<line x1="987.46" y1="461.00" x2="987.46" y2="458.54" stroke="#DF8883" stroke-width="1.3" />
<line x1="985.75" y1="458.54" x2="989.16" y2="458.54" stroke="#DF8883" stroke-width="1.3" />
<circle cx="986.64" cy="468.08" r="0.55" fill="#ffffff" opacity="0.55"/>
<rect x="991.69" y="466.50" width="8.47" height="3.30" fill="#77A8D3" />
<line x1="995.93" y1="466.50" x2="995.93" y2="465.30" stroke="#77A8D3" stroke-width="1.3" />
<line x1="994.23" y1="465.30" x2="997.63" y2="465.30" stroke="#77A8D3" stroke-width="1.3" />
<rect x="1000.16" y="462.20" width="8.47" height="7.60" fill="#DF8883" />
<line x1="1004.40" y1="462.20" x2="1004.40" y2="460.07" stroke="#DF8883" stroke-width="1.3" />
<line x1="1002.70" y1="460.07" x2="1006.10" y2="460.07" stroke="#DF8883" stroke-width="1.3" />
<circle cx="1003.72" cy="463.92" r="0.55" fill="#ffffff" opacity="0.55"/>
<rect x="1008.63" y="466.50" width="8.47" height="3.30" fill="#77A8D3" />
<line x1="1012.87" y1="466.50" x2="1012.87" y2="465.30" stroke="#77A8D3" stroke-width="1.3" />
<line x1="1011.16" y1="465.30" x2="1014.57" y2="465.30" stroke="#77A8D3" stroke-width="1.3" />
<rect x="1017.10" y="464.00" width="8.47" height="5.80" fill="#DF8883" />
<line x1="1021.34" y1="464.00" x2="1021.34" y2="462.38" stroke="#DF8883" stroke-width="1.3" />
<line x1="1019.63" y1="462.38" x2="1023.04" y2="462.38" stroke="#DF8883" stroke-width="1.3" />
<rect x="1025.57" y="467.00" width="8.47" height="2.80" fill="#77A8D3" />
<line x1="1029.80" y1="467.00" x2="1029.80" y2="465.80" stroke="#77A8D3" stroke-width="1.3" />
<line x1="1028.10" y1="465.80" x2="1031.50" y2="465.80" stroke="#77A8D3" stroke-width="1.3" />
<rect x="1034.04" y="464.50" width="8.47" height="5.30" fill="#DF8883" />
<line x1="1038.27" y1="464.50" x2="1038.27" y2="463.02" stroke="#DF8883" stroke-width="1.3" />
<line x1="1036.57" y1="463.02" x2="1039.97" y2="463.02" stroke="#DF8883" stroke-width="1.3" />
<rect x="1042.51" y="467.50" width="8.47" height="2.30" fill="#77A8D3" />
<line x1="1046.74" y1="467.50" x2="1046.74" y2="466.30" stroke="#77A8D3" stroke-width="1.3" />
<line x1="1045.04" y1="466.30" x2="1048.44" y2="466.30" stroke="#77A8D3" stroke-width="1.3" />
<rect x="1050.98" y="464.70" width="8.47" height="5.10" fill="#DF8883" />
<line x1="1055.21" y1="464.70" x2="1055.21" y2="463.27" stroke="#DF8883" stroke-width="1.3" />
<line x1="1053.51" y1="463.27" x2="1056.91" y2="463.27" stroke="#DF8883" stroke-width="1.3" />
<rect x="1059.45" y="467.50" width="8.47" height="2.30" fill="#77A8D3" />
<line x1="1063.68" y1="467.50" x2="1063.68" y2="466.30" stroke="#77A8D3" stroke-width="1.3" />
<line x1="1061.98" y1="466.30" x2="1065.38" y2="466.30" stroke="#77A8D3" stroke-width="1.3" />
<rect x="1067.92" y="465.00" width="8.47" height="4.80" fill="#DF8883" />
<line x1="1072.15" y1="465.00" x2="1072.15" y2="463.66" stroke="#DF8883" stroke-width="1.3" />
<line x1="1070.45" y1="463.66" x2="1073.86" y2="463.66" stroke="#DF8883" stroke-width="1.3" />
<rect x="1076.39" y="467.50" width="8.47" height="2.30" fill="#77A8D3" />
<line x1="1080.62" y1="467.50" x2="1080.62" y2="466.30" stroke="#77A8D3" stroke-width="1.3" />
<line x1="1078.92" y1="466.30" x2="1082.33" y2="466.30" stroke="#77A8D3" stroke-width="1.3" />
<rect x="1084.86" y="467.40" width="8.47" height="2.40" fill="#DF8883" />
<line x1="1089.10" y1="467.40" x2="1089.10" y2="466.20" stroke="#DF8883" stroke-width="1.3" />
<line x1="1087.39" y1="466.20" x2="1090.80" y2="466.20" stroke="#DF8883" stroke-width="1.3" />
<rect x="1093.33" y="468.50" width="8.47" height="1.30" fill="#77A8D3" />
<rect x="1101.80" y="467.70" width="8.47" height="2.10" fill="#DF8883" />
<line x1="1106.03" y1="467.70" x2="1106.03" y2="466.50" stroke="#DF8883" stroke-width="1.3" />
<line x1="1104.33" y1="466.50" x2="1107.73" y2="466.50" stroke="#DF8883" stroke-width="1.3" />
<rect x="1110.27" y="469.00" width="8.47" height="0.80" fill="#77A8D3" />
<rect x="1118.74" y="466.30" width="8.47" height="3.50" fill="#DF8883" />
<line x1="1122.97" y1="466.30" x2="1122.97" y2="465.10" stroke="#DF8883" stroke-width="1.3" />
<line x1="1121.27" y1="465.10" x2="1124.67" y2="465.10" stroke="#DF8883" stroke-width="1.3" />
<rect x="1127.21" y="468.00" width="8.47" height="1.80" fill="#77A8D3" />
<line x1="1131.44" y1="468.00" x2="1131.44" y2="466.80" stroke="#77A8D3" stroke-width="1.3" />
<line x1="1129.74" y1="466.80" x2="1133.14" y2="466.80" stroke="#77A8D3" stroke-width="1.3" />
<rect x="1135.68" y="467.00" width="8.47" height="2.80" fill="#DF8883" />
<line x1="1139.91" y1="467.00" x2="1139.91" y2="465.80" stroke="#DF8883" stroke-width="1.3" />
<line x1="1138.21" y1="465.80" x2="1141.62" y2="465.80" stroke="#DF8883" stroke-width="1.3" />
<rect x="1144.15" y="468.50" width="8.47" height="1.30" fill="#77A8D3" />
<rect x="1152.62" y="467.10" width="8.47" height="2.70" fill="#DF8883" />
<line x1="1156.85" y1="467.10" x2="1156.85" y2="465.90" stroke="#DF8883" stroke-width="1.3" />
<line x1="1155.15" y1="465.90" x2="1158.55" y2="465.90" stroke="#DF8883" stroke-width="1.3" />
<rect x="1161.09" y="459.10" width="8.47" height="10.70" fill="#77A8D3" />
<line x1="1165.33" y1="459.10" x2="1165.33" y2="454.00" stroke="#77A8D3" stroke-width="1.3" />
<line x1="1163.62" y1="454.00" x2="1167.03" y2="454.00" stroke="#77A8D3" stroke-width="1.3" />
<circle cx="1165.04" cy="466.55" r="0.55" fill="#ffffff" opacity="0.55"/>
<rect x="1169.56" y="468.70" width="8.47" height="1.10" fill="#DF8883" />
<rect x="1178.03" y="463.20" width="8.47" height="6.60" fill="#77A8D3" />
<line x1="1182.26" y1="463.20" x2="1182.26" y2="460.00" stroke="#77A8D3" stroke-width="1.3" />
<line x1="1180.56" y1="460.00" x2="1183.96" y2="460.00" stroke="#77A8D3" stroke-width="1.3" />
<rect x="1186.50" y="468.70" width="8.47" height="1.10" fill="#DF8883" />
<rect x="1194.97" y="465.50" width="8.47" height="4.30" fill="#77A8D3" />
<line x1="1199.20" y1="465.50" x2="1199.20" y2="463.00" stroke="#77A8D3" stroke-width="1.3" />
<line x1="1197.50" y1="463.00" x2="1200.90" y2="463.00" stroke="#77A8D3" stroke-width="1.3" />
<rect x="1203.44" y="468.70" width="8.47" height="1.10" fill="#DF8883" />
<rect x="1211.91" y="466.30" width="8.47" height="3.50" fill="#77A8D3" />
<line x1="1216.14" y1="466.30" x2="1216.14" y2="464.00" stroke="#77A8D3" stroke-width="1.3" />
<line x1="1214.44" y1="464.00" x2="1217.85" y2="464.00" stroke="#77A8D3" stroke-width="1.3" />
<rect x="1220.38" y="468.70" width="8.47" height="1.10" fill="#DF8883" />
<rect x="1228.85" y="465.90" width="8.47" height="3.90" fill="#77A8D3" />
<line x1="1233.08" y1="465.90" x2="1233.08" y2="463.00" stroke="#77A8D3" stroke-width="1.3" />
<line x1="1231.38" y1="463.00" x2="1234.78" y2="463.00" stroke="#77A8D3" stroke-width="1.3" />
<circle cx="817.80" cy="167.40" r="1.2" fill="#DD8C88" />
<circle cx="818.00" cy="205.10" r="1.2" fill="#DD8C88" />
<circle cx="834.30" cy="208.40" r="1.2" fill="#DD8C88" />
<circle cx="784.30" cy="211.40" r="1.2" fill="#DD8C88" />
<circle cx="784.30" cy="280.00" r="1.2" fill="#DD8C88" />
<circle cx="817.80" cy="323.80" r="1.2" fill="#DD8C88" />
<circle cx="817.80" cy="327.60" r="1.2" fill="#DD8C88" />
<circle cx="869.00" cy="341.10" r="1.2" fill="#DD8C88" />
<circle cx="834.80" cy="355.60" r="1.2" fill="#DD8C88" />
<circle cx="852.00" cy="355.60" r="1.2" fill="#DD8C88" />
<circle cx="834.80" cy="374.90" r="1.2" fill="#DD8C88" />
<circle cx="919.10" cy="384.60" r="1.2" fill="#DD8C88" />
<circle cx="885.40" cy="394.70" r="1.2" fill="#DD8C88" />
<circle cx="852.00" cy="404.90" r="1.2" fill="#DD8C88" />
<circle cx="936.60" cy="410.70" r="1.2" fill="#DD8C88" />
<circle cx="936.60" cy="413.90" r="1.2" fill="#DD8C88" />
<circle cx="936.60" cy="417.20" r="1.2" fill="#DD8C88" />
<circle cx="885.60" cy="418.20" r="1.2" fill="#DD8C88" />
<circle cx="953.40" cy="421.70" r="1.2" fill="#DD8C88" />
<circle cx="1105.30" cy="425.90" r="1.2" fill="#DD8C88" />
<circle cx="851.80" cy="429.70" r="1.2" fill="#DD8C88" />
<circle cx="851.80" cy="433.20" r="1.2" fill="#DD8C88" />
<circle cx="868.80" cy="429.70" r="1.2" fill="#DD8C88" />
<circle cx="868.80" cy="433.90" r="1.2" fill="#DD8C88" />
<circle cx="902.90" cy="431.20" r="1.2" fill="#DD8C88" />
<circle cx="953.40" cy="430.20" r="1.2" fill="#DD8C88" />
<circle cx="953.40" cy="433.20" r="1.2" fill="#DD8C88" />
<circle cx="970.40" cy="432.70" r="1.2" fill="#DD8C88" />
<circle cx="1156.50" cy="439.40" r="1.2" fill="#DD8C88" />
<circle cx="1089.20" cy="444.10" r="1.2" fill="#DD8C88" />
<circle cx="1123.00" cy="453.20" r="1.2" fill="#DD8C88" />
<circle cx="1071.70" cy="455.70" r="1.2" fill="#DD8C88" />
<circle cx="1123.00" cy="457.50" r="1.2" fill="#DD8C88" />
<circle cx="885.60" cy="437.00" r="1.2" fill="#DD8C88" />
<circle cx="885.60" cy="442.00" r="1.2" fill="#DD8C88" />
<circle cx="885.60" cy="447.00" r="1.2" fill="#DD8C88" />
<circle cx="902.90" cy="436.00" r="1.2" fill="#DD8C88" />
<circle cx="902.90" cy="441.00" r="1.2" fill="#DD8C88" />
<circle cx="902.90" cy="446.00" r="1.2" fill="#DD8C88" />
<circle cx="919.10" cy="452.00" r="1.2" fill="#DD8C88" />
<circle cx="919.10" cy="456.00" r="1.2" fill="#DD8C88" />
<circle cx="936.60" cy="434.00" r="1.2" fill="#DD8C88" />
<circle cx="936.60" cy="438.00" r="1.2" fill="#DD8C88" />
<circle cx="936.60" cy="443.00" r="1.2" fill="#DD8C88" />
<circle cx="970.40" cy="440.00" r="1.2" fill="#DD8C88" />
<circle cx="970.40" cy="448.00" r="1.2" fill="#DD8C88" />
<circle cx="970.40" cy="454.00" r="1.2" fill="#DD8C88" />
<circle cx="987.50" cy="442.00" r="1.2" fill="#DD8C88" />
<circle cx="987.50" cy="449.00" r="1.2" fill="#DD8C88" />
<circle cx="987.50" cy="455.00" r="1.2" fill="#DD8C88" />
<circle cx="1004.50" cy="441.00" r="1.2" fill="#DD8C88" />
<circle cx="1004.50" cy="451.00" r="1.2" fill="#DD8C88" />
<circle cx="1004.50" cy="457.00" r="1.2" fill="#DD8C88" />
<circle cx="1021.00" cy="451.00" r="1.2" fill="#DD8C88" />
<circle cx="1021.00" cy="456.00" r="1.2" fill="#DD8C88" />
<circle cx="1021.00" cy="461.00" r="1.2" fill="#DD8C88" />
<circle cx="1038.00" cy="446.00" r="1.2" fill="#DD8C88" />
<circle cx="1038.00" cy="454.00" r="1.2" fill="#DD8C88" />
<circle cx="1038.00" cy="460.00" r="1.2" fill="#DD8C88" />
<circle cx="1055.00" cy="453.00" r="1.2" fill="#DD8C88" />
<circle cx="1055.00" cy="458.00" r="1.2" fill="#DD8C88" />
<circle cx="1055.00" cy="463.00" r="1.2" fill="#DD8C88" />
<circle cx="1071.70" cy="460.00" r="1.2" fill="#DD8C88" />
<circle cx="1071.70" cy="464.00" r="1.2" fill="#DD8C88" />
<circle cx="1089.20" cy="460.00" r="1.2" fill="#DD8C88" />
<circle cx="1089.20" cy="464.00" r="1.2" fill="#DD8C88" />
<circle cx="1105.30" cy="463.00" r="1.2" fill="#DD8C88" />
<circle cx="1123.00" cy="461.00" r="1.2" fill="#DD8C88" />
<circle cx="1139.80" cy="458.00" r="1.2" fill="#DD8C88" />
<circle cx="1139.80" cy="462.00" r="1.2" fill="#DD8C88" />
<circle cx="1156.50" cy="460.00" r="1.2" fill="#DD8C88" />
<circle cx="1174.00" cy="463.00" r="1.2" fill="#DD8C88" />
<circle cx="1190.50" cy="465.00" r="1.2" fill="#DD8C88" />
<circle cx="1207.50" cy="464.00" r="1.2" fill="#DD8C88" />
<circle cx="1224.50" cy="463.00" r="1.2" fill="#DD8C88" />
<circle cx="784.00" cy="330.00" r="1.2" fill="#DD8C88" />
<circle cx="784.00" cy="340.00" r="1.2" fill="#DD8C88" />
<circle cx="801.00" cy="322.00" r="1.2" fill="#DD8C88" />
<circle cx="801.00" cy="335.00" r="1.2" fill="#DD8C88" />
<circle cx="767.00" cy="110.00" r="1.2" fill="#DD8C88" />
<circle cx="767.00" cy="150.00" r="1.2" fill="#DD8C88" />
<circle cx="774.80" cy="215.60" r="1.2" fill="#82ADD1" />
<circle cx="826.80" cy="214.40" r="1.2" fill="#82ADD1" />
<circle cx="775.80" cy="242.50" r="1.2" fill="#82ADD1" />
<circle cx="962.40" cy="305.60" r="1.2" fill="#82ADD1" />
<circle cx="775.50" cy="310.00" r="1.2" fill="#82ADD1" />
<circle cx="775.50" cy="315.60" r="1.2" fill="#82ADD1" />
<circle cx="775.50" cy="329.00" r="1.2" fill="#82ADD1" />
<circle cx="809.50" cy="344.10" r="1.2" fill="#82ADD1" />
<circle cx="775.00" cy="348.60" r="1.2" fill="#82ADD1" />
<circle cx="792.30" cy="352.10" r="1.2" fill="#82ADD1" />
<circle cx="792.30" cy="359.40" r="1.2" fill="#82ADD1" />
<circle cx="944.70" cy="375.10" r="1.2" fill="#82ADD1" />
<circle cx="944.70" cy="384.10" r="1.2" fill="#82ADD1" />
<circle cx="842.80" cy="386.90" r="1.2" fill="#82ADD1" />
<circle cx="843.30" cy="413.40" r="1.2" fill="#82ADD1" />
<circle cx="792.50" cy="423.20" r="1.2" fill="#82ADD1" />
<circle cx="944.40" cy="426.40" r="1.2" fill="#82ADD1" />
<circle cx="843.30" cy="429.40" r="1.2" fill="#82ADD1" />
<circle cx="792.50" cy="432.70" r="1.2" fill="#82ADD1" />
<circle cx="792.50" cy="435.70" r="1.2" fill="#82ADD1" />
<circle cx="978.70" cy="437.20" r="1.2" fill="#82ADD1" />
<circle cx="894.10" cy="437.70" r="1.2" fill="#82ADD1" />
<circle cx="1165.50" cy="370.50" r="1.2" fill="#82ADD1" />
<circle cx="1199.00" cy="416.80" r="1.2" fill="#82ADD1" />
<circle cx="1182.40" cy="431.50" r="1.2" fill="#82ADD1" />
<circle cx="1216.00" cy="443.70" r="1.2" fill="#82ADD1" />
<circle cx="1165.50" cy="448.80" r="1.2" fill="#82ADD1" />
<circle cx="1181.60" cy="449.30" r="1.2" fill="#82ADD1" />
<circle cx="1216.00" cy="449.90" r="1.2" fill="#82ADD1" />
<circle cx="1199.50" cy="455.40" r="1.2" fill="#82ADD1" />
<circle cx="1232.80" cy="458.00" r="1.2" fill="#82ADD1" />
<circle cx="877.00" cy="442.00" r="1.2" fill="#82ADD1" />
<circle cx="877.00" cy="447.00" r="1.2" fill="#82ADD1" />
<circle cx="877.00" cy="452.00" r="1.2" fill="#82ADD1" />
<circle cx="860.00" cy="452.00" r="1.2" fill="#82ADD1" />
<circle cx="860.00" cy="457.00" r="1.2" fill="#82ADD1" />
<circle cx="860.00" cy="461.00" r="1.2" fill="#82ADD1" />
<circle cx="894.10" cy="442.00" r="1.2" fill="#82ADD1" />
<circle cx="894.10" cy="448.00" r="1.2" fill="#82ADD1" />
<circle cx="894.10" cy="454.00" r="1.2" fill="#82ADD1" />
<circle cx="911.00" cy="448.00" r="1.2" fill="#82ADD1" />
<circle cx="911.00" cy="455.00" r="1.2" fill="#82ADD1" />
<circle cx="911.00" cy="460.00" r="1.2" fill="#82ADD1" />
<circle cx="928.00" cy="464.00" r="1.2" fill="#82ADD1" />
<circle cx="944.40" cy="444.00" r="1.2" fill="#82ADD1" />
<circle cx="944.40" cy="449.00" r="1.2" fill="#82ADD1" />
<circle cx="961.50" cy="441.00" r="1.2" fill="#82ADD1" />
<circle cx="961.50" cy="446.00" r="1.2" fill="#82ADD1" />
<circle cx="978.70" cy="460.00" r="1.2" fill="#82ADD1" />
<circle cx="995.50" cy="458.00" r="1.2" fill="#82ADD1" />
<circle cx="995.50" cy="462.00" r="1.2" fill="#82ADD1" />
<circle cx="1012.50" cy="447.00" r="1.2" fill="#82ADD1" />
<circle cx="1012.50" cy="452.00" r="1.2" fill="#82ADD1" />
<circle cx="1012.50" cy="460.00" r="1.2" fill="#82ADD1" />
<circle cx="1029.50" cy="458.00" r="1.2" fill="#82ADD1" />
<circle cx="1029.50" cy="462.00" r="1.2" fill="#82ADD1" />
<circle cx="1046.50" cy="453.00" r="1.2" fill="#82ADD1" />
<circle cx="1046.50" cy="461.00" r="1.2" fill="#82ADD1" />
<circle cx="1063.50" cy="458.00" r="1.2" fill="#82ADD1" />
<circle cx="1063.50" cy="462.00" r="1.2" fill="#82ADD1" />
<circle cx="1080.50" cy="460.00" r="1.2" fill="#82ADD1" />
<circle cx="1080.50" cy="464.00" r="1.2" fill="#82ADD1" />
<circle cx="1097.50" cy="465.00" r="1.2" fill="#82ADD1" />
<circle cx="1114.50" cy="466.00" r="1.2" fill="#82ADD1" />
<circle cx="1131.50" cy="460.00" r="1.2" fill="#82ADD1" />
<circle cx="1131.50" cy="463.00" r="1.2" fill="#82ADD1" />
<circle cx="1148.50" cy="461.00" r="1.2" fill="#82ADD1" />
<circle cx="1165.50" cy="453.00" r="1.2" fill="#82ADD1" />
<circle cx="1165.50" cy="456.00" r="1.2" fill="#82ADD1" />
<circle cx="1182.40" cy="458.00" r="1.2" fill="#82ADD1" />
<circle cx="1199.50" cy="460.00" r="1.2" fill="#82ADD1" />
<circle cx="1216.00" cy="460.00" r="1.2" fill="#82ADD1" />
<circle cx="1232.80" cy="461.00" r="1.2" fill="#82ADD1" />
<circle cx="1232.80" cy="464.00" r="1.2" fill="#82ADD1" />
<text transform="translate(1250.50,473.30) scale(1.0,1)" font-size="15.20" fill="#000" text-anchor="start" font-weight="normal"  stroke="#000" stroke-width="0.12">0.00</text>
<text transform="translate(1250.50,380.90) scale(1.0,1)" font-size="15.20" fill="#000" text-anchor="start" font-weight="normal"  stroke="#000" stroke-width="0.12">0.01</text>
<text transform="translate(1250.50,288.50) scale(1.0,1)" font-size="15.20" fill="#000" text-anchor="start" font-weight="normal"  stroke="#000" stroke-width="0.12">0.02</text>
<text transform="translate(1250.50,196.10) scale(1.0,1)" font-size="15.20" fill="#000" text-anchor="start" font-weight="normal"  stroke="#000" stroke-width="0.12">0.03</text>
<text transform="translate(1250.50,103.70) scale(1.0,1)" font-size="15.20" fill="#000" text-anchor="start" font-weight="normal"  stroke="#000" stroke-width="0.12">0.04</text>
<rect x="1127.10" y="43.00" width="24.70" height="24.70" fill="#82ADD1" />
<circle cx="1139.40" cy="55.30" r="0.6" fill="#fff" opacity="0.6"/>
<rect x="1127.10" y="70.00" width="24.70" height="24.50" fill="#DD8C88" />
<circle cx="1139.40" cy="82.20" r="0.6" fill="#fff" opacity="0.6"/>
<text transform="translate(1164.00,61.50) scale(0.96,1)" font-size="17.29" fill="#000" text-anchor="start" font-weight="normal"  stroke="#000" stroke-width="0.12">MN</text>
<text transform="translate(1163.80,88.30) scale(0.96,1)" font-size="17.29" fill="#000" text-anchor="start" font-weight="normal"  stroke="#000" stroke-width="0.12">control</text>
<line x1="1303.00" y1="471.40" x2="1446.00" y2="471.40" stroke="#E6E6E6" stroke-width="1.4" />
<line x1="1303.00" y1="417.85" x2="1446.00" y2="417.85" stroke="#E6E6E6" stroke-width="1.4" />
<line x1="1303.00" y1="364.30" x2="1446.00" y2="364.30" stroke="#E6E6E6" stroke-width="1.4" />
<line x1="1303.00" y1="310.75" x2="1446.00" y2="310.75" stroke="#E6E6E6" stroke-width="1.4" />
<line x1="1303.00" y1="257.20" x2="1446.00" y2="257.20" stroke="#E6E6E6" stroke-width="1.4" />
<line x1="1303.00" y1="203.65" x2="1446.00" y2="203.65" stroke="#E6E6E6" stroke-width="1.4" />
<line x1="1303.00" y1="150.10" x2="1446.00" y2="150.10" stroke="#E6E6E6" stroke-width="1.4" />
<line x1="1303.00" y1="96.55" x2="1446.00" y2="96.55" stroke="#E6E6E6" stroke-width="1.4" />
<rect x="1305.30" y="357.40" width="11.55" height="114.00" fill="#77A8D3" />
<line x1="1311.08" y1="357.40" x2="1311.08" y2="278.70" stroke="#77A8D3" stroke-width="1.3" />
<line x1="1309.38" y1="278.70" x2="1312.78" y2="278.70" stroke="#77A8D3" stroke-width="1.3" />
<circle cx="1311.51" cy="457.75" r="0.55" fill="#ffffff" opacity="0.55"/>
<circle cx="1310.64" cy="363.13" r="0.55" fill="#ffffff" opacity="0.55"/>
<circle cx="1310.72" cy="417.96" r="0.55" fill="#ffffff" opacity="0.55"/>
<circle cx="1310.88" cy="431.30" r="0.55" fill="#ffffff" opacity="0.55"/>
<circle cx="1310.47" cy="465.92" r="0.55" fill="#ffffff" opacity="0.55"/>
<circle cx="1311.81" cy="463.77" r="0.55" fill="#ffffff" opacity="0.55"/>
<circle cx="1310.57" cy="438.57" r="0.55" fill="#ffffff" opacity="0.55"/>
<circle cx="1311.97" cy="376.58" r="0.55" fill="#ffffff" opacity="0.55"/>
<circle cx="1310.43" cy="443.80" r="0.55" fill="#ffffff" opacity="0.55"/>
<circle cx="1310.34" cy="464.63" r="0.55" fill="#ffffff" opacity="0.55"/>
<circle cx="1310.34" cy="454.17" r="0.55" fill="#ffffff" opacity="0.55"/>
<circle cx="1310.64" cy="461.87" r="0.55" fill="#ffffff" opacity="0.55"/>
<circle cx="1311.77" cy="429.73" r="0.55" fill="#ffffff" opacity="0.55"/>
<circle cx="1310.92" cy="403.72" r="0.55" fill="#ffffff" opacity="0.55"/>
<rect x="1316.85" y="223.50" width="11.55" height="247.90" fill="#373578" />
<line x1="1322.62" y1="223.50" x2="1322.62" y2="113.80" stroke="#373578" stroke-width="1.3" />
<line x1="1320.92" y1="113.80" x2="1324.33" y2="113.80" stroke="#373578" stroke-width="1.3" />
<circle cx="1322.67" cy="420.15" r="0.55" fill="#ffffff" opacity="0.55"/>
<circle cx="1322.33" cy="427.95" r="0.55" fill="#ffffff" opacity="0.55"/>
<circle cx="1322.22" cy="468.75" r="0.55" fill="#ffffff" opacity="0.55"/>
<circle cx="1321.95" cy="238.62" r="0.55" fill="#ffffff" opacity="0.55"/>
<circle cx="1322.86" cy="398.92" r="0.55" fill="#ffffff" opacity="0.55"/>
<circle cx="1322.11" cy="281.84" r="0.55" fill="#ffffff" opacity="0.55"/>
<circle cx="1322.17" cy="446.95" r="0.55" fill="#ffffff" opacity="0.55"/>
<circle cx="1322.53" cy="423.19" r="0.55" fill="#ffffff" opacity="0.55"/>
<circle cx="1323.25" cy="244.51" r="0.55" fill="#ffffff" opacity="0.55"/>
<circle cx="1321.76" cy="277.88" r="0.55" fill="#ffffff" opacity="0.55"/>
<circle cx="1323.00" cy="469.89" r="0.55" fill="#ffffff" opacity="0.55"/>
<circle cx="1322.58" cy="268.73" r="0.55" fill="#ffffff" opacity="0.55"/>
<circle cx="1321.73" cy="376.09" r="0.55" fill="#ffffff" opacity="0.55"/>
<circle cx="1323.39" cy="424.93" r="0.55" fill="#ffffff" opacity="0.55"/>
<rect x="1328.40" y="423.90" width="11.55" height="47.50" fill="#77A8D3" />
<line x1="1334.17" y1="423.90" x2="1334.17" y2="406.90" stroke="#77A8D3" stroke-width="1.3" />
<line x1="1332.47" y1="406.90" x2="1335.88" y2="406.90" stroke="#77A8D3" stroke-width="1.3" />
<circle cx="1334.81" cy="438.18" r="0.55" fill="#ffffff" opacity="0.55"/>
<circle cx="1333.72" cy="427.15" r="0.55" fill="#ffffff" opacity="0.55"/>
<circle cx="1333.55" cy="469.56" r="0.55" fill="#ffffff" opacity="0.55"/>
<circle cx="1334.50" cy="456.26" r="0.55" fill="#ffffff" opacity="0.55"/>
<circle cx="1334.57" cy="429.58" r="0.55" fill="#ffffff" opacity="0.55"/>
<circle cx="1334.65" cy="449.60" r="0.55" fill="#ffffff" opacity="0.55"/>
<rect x="1339.95" y="349.70" width="11.55" height="121.70" fill="#373578" />
<line x1="1345.73" y1="349.70" x2="1345.73" y2="311.40" stroke="#373578" stroke-width="1.3" />
<line x1="1344.03" y1="311.40" x2="1347.43" y2="311.40" stroke="#373578" stroke-width="1.3" />
<circle cx="1345.82" cy="441.12" r="0.55" fill="#ffffff" opacity="0.55"/>
<circle cx="1346.23" cy="470.04" r="0.55" fill="#ffffff" opacity="0.55"/>
<circle cx="1346.48" cy="461.73" r="0.55" fill="#ffffff" opacity="0.55"/>
<circle cx="1345.37" cy="415.96" r="0.55" fill="#ffffff" opacity="0.55"/>
<circle cx="1345.28" cy="467.44" r="0.55" fill="#ffffff" opacity="0.55"/>
<circle cx="1346.08" cy="417.35" r="0.55" fill="#ffffff" opacity="0.55"/>
<circle cx="1344.95" cy="468.07" r="0.55" fill="#ffffff" opacity="0.55"/>
<circle cx="1345.87" cy="432.94" r="0.55" fill="#ffffff" opacity="0.55"/>
<circle cx="1345.23" cy="448.62" r="0.55" fill="#ffffff" opacity="0.55"/>
<circle cx="1344.84" cy="422.52" r="0.55" fill="#ffffff" opacity="0.55"/>
<circle cx="1345.65" cy="456.57" r="0.55" fill="#ffffff" opacity="0.55"/>
<circle cx="1345.99" cy="359.40" r="0.55" fill="#ffffff" opacity="0.55"/>
<circle cx="1345.68" cy="374.57" r="0.55" fill="#ffffff" opacity="0.55"/>
<circle cx="1345.27" cy="461.58" r="0.55" fill="#ffffff" opacity="0.55"/>
<rect x="1351.50" y="460.30" width="11.55" height="11.10" fill="#77A8D3" />
<line x1="1357.28" y1="460.30" x2="1357.28" y2="456.00" stroke="#77A8D3" stroke-width="1.3" />
<line x1="1355.58" y1="456.00" x2="1358.98" y2="456.00" stroke="#77A8D3" stroke-width="1.3" />
<circle cx="1357.64" cy="461.93" r="0.55" fill="#ffffff" opacity="0.55"/>
<rect x="1363.05" y="421.10" width="11.55" height="50.30" fill="#373578" />
<line x1="1368.83" y1="421.10" x2="1368.83" y2="388.50" stroke="#373578" stroke-width="1.3" />
<line x1="1367.12" y1="388.50" x2="1370.53" y2="388.50" stroke="#373578" stroke-width="1.3" />
<circle cx="1367.96" cy="464.62" r="0.55" fill="#ffffff" opacity="0.55"/>
<circle cx="1369.14" cy="456.61" r="0.55" fill="#ffffff" opacity="0.55"/>
<circle cx="1368.39" cy="460.26" r="0.55" fill="#ffffff" opacity="0.55"/>
<circle cx="1369.59" cy="447.08" r="0.55" fill="#ffffff" opacity="0.55"/>
<circle cx="1367.99" cy="467.06" r="0.55" fill="#ffffff" opacity="0.55"/>
<circle cx="1368.68" cy="463.54" r="0.55" fill="#ffffff" opacity="0.55"/>
<circle cx="1368.28" cy="446.11" r="0.55" fill="#ffffff" opacity="0.55"/>
<rect x="1374.60" y="465.40" width="11.55" height="6.00" fill="#77A8D3" />
<line x1="1380.38" y1="465.40" x2="1380.38" y2="461.90" stroke="#77A8D3" stroke-width="1.3" />
<line x1="1378.67" y1="461.90" x2="1382.08" y2="461.90" stroke="#77A8D3" stroke-width="1.3" />
<rect x="1386.15" y="431.90" width="11.55" height="39.50" fill="#373578" />
<line x1="1391.92" y1="431.90" x2="1391.92" y2="404.00" stroke="#373578" stroke-width="1.3" />
<line x1="1390.22" y1="404.00" x2="1393.62" y2="404.00" stroke="#373578" stroke-width="1.3" />
<circle cx="1392.36" cy="445.47" r="0.55" fill="#ffffff" opacity="0.55"/>
<circle cx="1391.39" cy="459.44" r="0.55" fill="#ffffff" opacity="0.55"/>
<circle cx="1391.59" cy="434.91" r="0.55" fill="#ffffff" opacity="0.55"/>
<circle cx="1391.44" cy="444.16" r="0.55" fill="#ffffff" opacity="0.55"/>
<circle cx="1392.39" cy="467.91" r="0.55" fill="#ffffff" opacity="0.55"/>
<rect x="1397.70" y="463.80" width="11.55" height="7.60" fill="#77A8D3" />
<line x1="1403.48" y1="463.80" x2="1403.48" y2="460.60" stroke="#77A8D3" stroke-width="1.3" />
<line x1="1401.78" y1="460.60" x2="1405.18" y2="460.60" stroke="#77A8D3" stroke-width="1.3" />
<circle cx="1404.29" cy="469.78" r="0.55" fill="#ffffff" opacity="0.55"/>
<rect x="1409.25" y="468.90" width="11.55" height="2.50" fill="#373578" />
<line x1="1415.03" y1="468.90" x2="1415.03" y2="466.00" stroke="#373578" stroke-width="1.3" />
<line x1="1413.33" y1="466.00" x2="1416.73" y2="466.00" stroke="#373578" stroke-width="1.3" />
<rect x="1420.80" y="462.50" width="11.55" height="8.90" fill="#77A8D3" />
<line x1="1426.58" y1="462.50" x2="1426.58" y2="459.00" stroke="#77A8D3" stroke-width="1.3" />
<line x1="1424.88" y1="459.00" x2="1428.28" y2="459.00" stroke="#77A8D3" stroke-width="1.3" />
<circle cx="1426.01" cy="468.45" r="0.55" fill="#ffffff" opacity="0.55"/>
<rect x="1432.35" y="467.60" width="11.55" height="3.80" fill="#373578" />
<line x1="1438.12" y1="467.60" x2="1438.12" y2="464.50" stroke="#373578" stroke-width="1.3" />
<line x1="1436.42" y1="464.50" x2="1439.83" y2="464.50" stroke="#373578" stroke-width="1.3" />
<circle cx="1334.80" cy="281.60" r="1.1" fill="#82ADD1" />
<circle cx="1334.70" cy="391.90" r="1.1" fill="#82ADD1" />
<circle cx="1380.20" cy="404.30" r="1.1" fill="#82ADD1" />
<circle cx="1403.50" cy="410.80" r="1.1" fill="#82ADD1" />
<circle cx="1357.00" cy="446.40" r="1.1" fill="#82ADD1" />
<circle cx="1357.00" cy="450.30" r="1.1" fill="#82ADD1" />
<circle cx="1357.00" cy="455.80" r="1.1" fill="#82ADD1" />
<circle cx="1403.50" cy="444.50" r="1.1" fill="#82ADD1" />
<circle cx="1403.50" cy="450.70" r="1.1" fill="#82ADD1" />
<circle cx="1426.60" cy="443.90" r="1.1" fill="#82ADD1" />
<circle cx="1426.60" cy="447.00" r="1.1" fill="#82ADD1" />
<circle cx="1426.60" cy="451.00" r="1.1" fill="#82ADD1" />
<circle cx="1426.60" cy="455.00" r="1.1" fill="#82ADD1" />
<circle cx="1426.60" cy="460.60" r="1.1" fill="#82ADD1" />
<circle cx="1333.90" cy="152.60" r="1.1" fill="#82ADD1" />
<circle cx="1310.90" cy="179.70" r="1.1" fill="#82ADD1" />
<circle cx="1357.00" cy="458.50" r="1.1" fill="#82ADD1" />
<circle cx="1392.30" cy="309.40" r="1.1" fill="#373578" />
<circle cx="1345.70" cy="319.40" r="1.1" fill="#373578" />
<circle cx="1345.70" cy="336.20" r="1.1" fill="#373578" />
<circle cx="1345.70" cy="343.30" r="1.1" fill="#373578" />
<circle cx="1368.30" cy="404.80" r="1.1" fill="#373578" />
<circle cx="1367.90" cy="418.80" r="1.1" fill="#373578" />
<circle cx="1391.50" cy="428.20" r="1.1" fill="#373578" />
<circle cx="1415.40" cy="447.40" r="1.1" fill="#373578" />
<circle cx="1415.40" cy="453.40" r="1.1" fill="#373578" />
<circle cx="1438.10" cy="444.30" r="1.1" fill="#373578" />
<circle cx="1438.10" cy="459.50" r="1.1" fill="#373578" />
<circle cx="1438.10" cy="463.80" r="1.1" fill="#373578" />
<circle cx="1322.90" cy="128.50" r="1.1" fill="#373578" />
<circle cx="1415.40" cy="464.00" r="1.1" fill="#373578" />
<text transform="translate(1454.00,472.80) scale(0.94,1)" font-size="15.00" fill="#000" text-anchor="start" font-weight="normal"  stroke="#000" stroke-width="0.12">0.000</text>
<text transform="translate(1454.00,368.30) scale(0.94,1)" font-size="15.00" fill="#000" text-anchor="start" font-weight="normal"  stroke="#000" stroke-width="0.12">0.005</text>
<text transform="translate(1454.00,260.70) scale(0.94,1)" font-size="15.00" fill="#000" text-anchor="start" font-weight="normal"  stroke="#000" stroke-width="0.12">0.010</text>
<text transform="translate(1454.00,153.90) scale(0.94,1)" font-size="15.00" fill="#000" text-anchor="start" font-weight="normal"  stroke="#000" stroke-width="0.12">0.015</text>
<rect x="1392.60" y="44.00" width="22.90" height="22.70" fill="#373578" />
<circle cx="1404.00" cy="55.30" r="0.6" fill="#fff" opacity="0.6"/>
<rect x="1392.60" y="68.80" width="22.90" height="22.30" fill="#82ADD1" />
<circle cx="1404.00" cy="80.00" r="0.6" fill="#fff" opacity="0.6"/>
<text transform="translate(1426.10,60.80) scale(0.98,1)" font-size="15.61" fill="#000" text-anchor="start" font-weight="normal"  stroke="#000" stroke-width="0.12">IgAN</text>
<text transform="translate(1426.10,85.40) scale(0.98,1)" font-size="15.61" fill="#000" text-anchor="start" font-weight="normal"  stroke="#000" stroke-width="0.12">MN</text>
<text transform="translate(1516.00,309.50) rotate(-90) scale(0.94,1)" font-size="15.11" fill="#000" text-anchor="middle" font-weight="normal"  stroke="#000" stroke-width="0.12">Relative Abundance</text>
</g>
<g id="lda">
<line x1="4.00" y1="600.80" x2="717.80" y2="600.80" stroke="#DCDCDC" stroke-width="1.2" />
<line x1="4.00" y1="703.10" x2="717.80" y2="703.10" stroke="#F1F1F1" stroke-width="1.2" />
<line x1="4.00" y1="805.50" x2="717.80" y2="805.50" stroke="#F1F1F1" stroke-width="1.2" />
<line x1="4.00" y1="907.80" x2="717.80" y2="907.80" stroke="#F1F1F1" stroke-width="1.2" />
<rect x="5.70" y="532.00" width="17.80" height="377.10" fill="#DD8C88" />
<rect x="26.02" y="550.80" width="17.80" height="358.30" fill="#DD8C88" />
<rect x="46.34" y="562.30" width="17.80" height="346.80" fill="#DD8C88" />
<rect x="66.66" y="578.30" width="17.80" height="330.80" fill="#DD8C88" />
<rect x="86.98" y="591.30" width="17.80" height="317.80" fill="#DD8C88" />
<rect x="107.30" y="601.60" width="17.80" height="307.50" fill="#DD8C88" />
<rect x="127.62" y="604.30" width="17.80" height="304.80" fill="#DD8C88" />
<rect x="147.94" y="610.30" width="17.80" height="298.80" fill="#DD8C88" />
<rect x="168.26" y="617.80" width="17.80" height="291.30" fill="#DD8C88" />
<rect x="188.58" y="619.80" width="17.80" height="289.30" fill="#DD8C88" />
<rect x="208.90" y="624.30" width="17.80" height="284.80" fill="#DD8C88" />
<rect x="229.22" y="632.10" width="17.80" height="277.00" fill="#DD8C88" />
<rect x="249.54" y="634.40" width="17.80" height="274.70" fill="#DD8C88" />
<rect x="269.86" y="640.40" width="17.80" height="268.70" fill="#DD8C88" />
<rect x="290.18" y="646.60" width="17.80" height="262.50" fill="#DD8C88" />
<rect x="310.50" y="648.90" width="17.80" height="260.20" fill="#DD8C88" />
<rect x="330.82" y="648.90" width="17.80" height="260.20" fill="#DD8C88" />
<rect x="351.14" y="655.40" width="17.80" height="253.70" fill="#DD8C88" />
<rect x="371.46" y="661.10" width="17.80" height="248.00" fill="#DD8C88" />
<rect x="391.78" y="666.40" width="17.80" height="242.70" fill="#DD8C88" />
<rect x="412.10" y="670.90" width="17.80" height="238.20" fill="#DD8C88" />
<rect x="432.42" y="672.40" width="17.80" height="236.70" fill="#DD8C88" />
<rect x="452.74" y="672.90" width="17.80" height="236.20" fill="#DD8C88" />
<rect x="473.06" y="673.40" width="17.80" height="235.70" fill="#DD8C88" />
<rect x="493.38" y="673.60" width="17.80" height="235.50" fill="#DD8C88" />
<rect x="513.70" y="674.10" width="17.80" height="235.00" fill="#DD8C88" />
<rect x="534.02" y="676.90" width="17.80" height="232.20" fill="#DD8C88" />
<rect x="554.34" y="677.60" width="17.80" height="231.50" fill="#DD8C88" />
<rect x="574.66" y="678.40" width="17.80" height="230.70" fill="#DD8C88" />
<rect x="594.98" y="689.40" width="17.80" height="219.70" fill="#DD8C88" />
<rect x="615.30" y="694.90" width="17.80" height="214.20" fill="#DD8C88" />
<rect x="635.62" y="694.90" width="17.80" height="214.20" fill="#DD8C88" />
<rect x="655.94" y="695.90" width="17.80" height="213.20" fill="#DD8C88" />
<rect x="676.26" y="697.20" width="17.80" height="211.90" fill="#DD8C88" />
<rect x="696.58" y="610.80" width="17.80" height="298.30" fill="#373578" />
<line x1="717.80" y1="513.00" x2="717.80" y2="927.00" stroke="#8C8C92" stroke-width="1.8" />
<line x1="717.40" y1="908.20" x2="721.50" y2="908.20" stroke="#111" stroke-width="1.6" />
<text transform="translate(728.30,912.38) scale(0.94,1)" font-size="15.53" fill="#000" text-anchor="start" font-weight="normal"  stroke="#000" stroke-width="0.12">0</text>
<line x1="717.40" y1="805.70" x2="721.50" y2="805.70" stroke="#111" stroke-width="1.6" />
<text transform="translate(728.30,809.88) scale(0.94,1)" font-size="15.53" fill="#000" text-anchor="start" font-weight="normal"  stroke="#000" stroke-width="0.12">1</text>
<line x1="717.40" y1="703.20" x2="721.50" y2="703.20" stroke="#111" stroke-width="1.6" />
<text transform="translate(728.30,707.38) scale(0.94,1)" font-size="15.53" fill="#000" text-anchor="start" font-weight="normal"  stroke="#000" stroke-width="0.12">2</text>
<line x1="717.40" y1="600.80" x2="721.50" y2="600.80" stroke="#111" stroke-width="1.6" />
<text transform="translate(728.30,604.98) scale(0.94,1)" font-size="15.53" fill="#000" text-anchor="start" font-weight="normal"  stroke="#000" stroke-width="0.12">3</text>
<line x1="759.00" y1="533.00" x2="1242.50" y2="533.00" stroke="#DCDCDC" stroke-width="1.2" />
<line x1="759.00" y1="627.10" x2="1242.50" y2="627.10" stroke="#DCDCDC" stroke-width="1.2" />
<line x1="759.00" y1="721.40" x2="1242.50" y2="721.40" stroke="#F1F1F1" stroke-width="1.2" />
<line x1="759.00" y1="815.50" x2="1242.50" y2="815.50" stroke="#F1F1F1" stroke-width="1.2" />
<line x1="759.00" y1="909.80" x2="1242.50" y2="909.80" stroke="#F1F1F1" stroke-width="1.2" />
<rect x="761.50" y="533.30" width="15.20" height="378.20" fill="#DD8C88" />
<rect x="778.60" y="566.30" width="15.20" height="345.20" fill="#DD8C88" />
<rect x="795.70" y="577.80" width="15.20" height="333.70" fill="#DD8C88" />
<rect x="812.80" y="584.60" width="15.20" height="326.90" fill="#DD8C88" />
<rect x="829.90" y="615.60" width="15.20" height="295.90" fill="#DD8C88" />
<rect x="847.00" y="623.30" width="15.20" height="288.20" fill="#DD8C88" />
<rect x="864.10" y="623.60" width="15.20" height="287.90" fill="#DD8C88" />
<rect x="881.20" y="644.90" width="15.20" height="266.60" fill="#DD8C88" />
<rect x="898.30" y="656.90" width="15.20" height="254.60" fill="#DD8C88" />
<rect x="915.40" y="658.40" width="15.20" height="253.10" fill="#DD8C88" />
<rect x="932.50" y="666.40" width="15.20" height="245.10" fill="#DD8C88" />
<rect x="949.60" y="672.90" width="15.20" height="238.60" fill="#DD8C88" />
<rect x="966.70" y="675.40" width="15.20" height="236.10" fill="#DD8C88" />
<rect x="983.80" y="675.60" width="15.20" height="235.90" fill="#DD8C88" />
<rect x="1000.90" y="684.60" width="15.20" height="226.90" fill="#DD8C88" />
<rect x="1018.00" y="692.90" width="15.20" height="218.60" fill="#DD8C88" />
<rect x="1035.10" y="694.10" width="15.20" height="217.40" fill="#DD8C88" />
<rect x="1052.20" y="694.10" width="15.20" height="217.40" fill="#DD8C88" />
<rect x="1069.30" y="697.40" width="15.20" height="214.10" fill="#DD8C88" />
<rect x="1086.40" y="697.90" width="15.20" height="213.60" fill="#DD8C88" />
<rect x="1103.50" y="699.10" width="15.20" height="212.40" fill="#DD8C88" />
<rect x="1120.60" y="701.60" width="15.20" height="209.90" fill="#DD8C88" />
<rect x="1137.70" y="705.20" width="15.20" height="206.30" fill="#DD8C88" />
<rect x="1154.80" y="665.20" width="15.20" height="246.30" fill="#82ADD1" />
<rect x="1171.90" y="670.90" width="15.20" height="240.60" fill="#82ADD1" />
<rect x="1189.00" y="682.50" width="15.20" height="229.00" fill="#82ADD1" />
<rect x="1206.10" y="691.40" width="15.20" height="220.10" fill="#82ADD1" />
<rect x="1223.20" y="702.20" width="15.20" height="209.30" fill="#82ADD1" />
<line x1="1242.50" y1="515.00" x2="1242.50" y2="929.50" stroke="#8C8C92" stroke-width="1.8" />
<line x1="1242.10" y1="910.30" x2="1246.20" y2="910.30" stroke="#111" stroke-width="1.6" />
<text transform="translate(1253.00,914.48) scale(0.94,1)" font-size="15.53" fill="#000" text-anchor="start" font-weight="normal"  stroke="#000" stroke-width="0.12">0</text>
<line x1="1242.10" y1="815.70" x2="1246.20" y2="815.70" stroke="#111" stroke-width="1.6" />
<text transform="translate(1253.00,819.88) scale(0.94,1)" font-size="15.53" fill="#000" text-anchor="start" font-weight="normal"  stroke="#000" stroke-width="0.12">1</text>
<line x1="1242.10" y1="721.50" x2="1246.20" y2="721.50" stroke="#111" stroke-width="1.6" />
<text transform="translate(1253.00,725.68) scale(0.94,1)" font-size="15.53" fill="#000" text-anchor="start" font-weight="normal"  stroke="#000" stroke-width="0.12">2</text>
<line x1="1242.10" y1="627.20" x2="1246.20" y2="627.20" stroke="#111" stroke-width="1.6" />
<text transform="translate(1253.00,631.38) scale(0.94,1)" font-size="15.53" fill="#000" text-anchor="start" font-weight="normal"  stroke="#000" stroke-width="0.12">3</text>
<line x1="1242.10" y1="533.00" x2="1246.20" y2="533.00" stroke="#111" stroke-width="1.6" />
<text transform="translate(1253.00,537.18) scale(0.94,1)" font-size="15.53" fill="#000" text-anchor="start" font-weight="normal"  stroke="#000" stroke-width="0.12">4</text>
<line x1="1301.00" y1="587.30" x2="1448.20" y2="587.30" stroke="#DCDCDC" stroke-width="1.2" />
<line x1="1301.00" y1="696.00" x2="1448.20" y2="696.00" stroke="#F1F1F1" stroke-width="1.2" />
<line x1="1301.00" y1="805.00" x2="1448.20" y2="805.00" stroke="#F1F1F1" stroke-width="1.2" />
<line x1="1301.00" y1="913.60" x2="1448.20" y2="913.60" stroke="#F1F1F1" stroke-width="1.2" />
<rect x="1304.90" y="531.40" width="20.50" height="383.70" fill="#373578" />
<rect x="1328.64" y="563.30" width="20.50" height="351.80" fill="#373578" />
<rect x="1352.38" y="584.90" width="20.50" height="330.20" fill="#373578" />
<rect x="1376.12" y="602.20" width="20.50" height="312.90" fill="#373578" />
<rect x="1399.86" y="683.00" width="20.50" height="232.10" fill="#82ADD1" />
<rect x="1423.60" y="683.80" width="20.50" height="231.30" fill="#82ADD1" />
<line x1="1448.20" y1="512.20" x2="1448.20" y2="933.70" stroke="#8C8C92" stroke-width="1.8" />
<line x1="1447.80" y1="913.60" x2="1451.90" y2="913.60" stroke="#111" stroke-width="1.6" />
<text transform="translate(1458.00,917.64) scale(0.94,1)" font-size="15.11" fill="#000" text-anchor="start" font-weight="normal"  stroke="#000" stroke-width="0.12">0</text>
<line x1="1447.80" y1="805.00" x2="1451.90" y2="805.00" stroke="#111" stroke-width="1.6" />
<text transform="translate(1458.00,809.04) scale(0.94,1)" font-size="15.11" fill="#000" text-anchor="start" font-weight="normal"  stroke="#000" stroke-width="0.12">1</text>
<line x1="1447.80" y1="696.00" x2="1451.90" y2="696.00" stroke="#111" stroke-width="1.6" />
<text transform="translate(1458.00,700.04) scale(0.94,1)" font-size="15.11" fill="#000" text-anchor="start" font-weight="normal"  stroke="#000" stroke-width="0.12">2</text>
<line x1="1447.80" y1="587.30" x2="1451.90" y2="587.30" stroke="#111" stroke-width="1.6" />
<text transform="translate(1458.00,591.34) scale(0.94,1)" font-size="15.11" fill="#000" text-anchor="start" font-weight="normal"  stroke="#000" stroke-width="0.12">3</text>
<text transform="translate(1516.00,722.00) rotate(-90) scale(0.96,1)" font-size="17.50" fill="#000" text-anchor="middle" font-weight="normal"  stroke="#000" stroke-width="0.12">LDA score</text>
<line x1="14.70" y1="926.50" x2="14.70" y2="931.00" stroke="#111" stroke-width="1.8" />
<text transform="translate(20.52,934.30) rotate(-90) scale(0.94,1)" font-size="16.51" fill="#000" text-anchor="end" font-weight="normal" stroke="#000" stroke-width="0.3">s__Bacteroides_stercoris</text>
<line x1="35.02" y1="926.50" x2="35.02" y2="931.00" stroke="#111" stroke-width="1.8" />
<text transform="translate(40.84,934.30) rotate(-90) scale(0.94,1)" font-size="16.51" fill="#DE2D14" text-anchor="end" font-weight="normal" stroke="#DE2D14" stroke-width="0.3">s__Bacteroides_caccae</text>
<line x1="55.34" y1="926.50" x2="55.34" y2="931.00" stroke="#111" stroke-width="1.8" />
<text transform="translate(61.16,934.30) rotate(-90) scale(0.94,1)" font-size="16.51" fill="#DE2D14" text-anchor="end" font-weight="normal" stroke="#DE2D14" stroke-width="0.3">s__Parabacteroides_merdae</text>
<line x1="75.66" y1="926.50" x2="75.66" y2="931.00" stroke="#111" stroke-width="1.8" />
<text transform="translate(81.48,934.30) rotate(-90) scale(0.94,1)" font-size="16.51" fill="#000" text-anchor="end" font-weight="normal" stroke="#000" stroke-width="0.3">s__Paraprevotella_clara</text>
<line x1="95.98" y1="926.50" x2="95.98" y2="931.00" stroke="#111" stroke-width="1.8" />
<text transform="translate(101.80,934.30) rotate(-90) scale(0.94,1)" font-size="16.51" fill="#000" text-anchor="end" font-weight="normal" stroke="#000" stroke-width="0.3">s__Alistipes_onderdonkii</text>
<line x1="116.30" y1="926.50" x2="116.30" y2="931.00" stroke="#111" stroke-width="1.8" />
<text transform="translate(122.12,934.30) rotate(-90) scale(0.94,1)" font-size="16.51" fill="#DE2D14" text-anchor="end" font-weight="normal" stroke="#DE2D14" stroke-width="0.3">s__Vescimonas_coprocola</text>
<line x1="136.62" y1="926.50" x2="136.62" y2="931.00" stroke="#111" stroke-width="1.8" />
<text transform="translate(142.44,934.30) rotate(-90) scale(0.94,1)" font-size="16.51" fill="#DE2D14" text-anchor="end" font-weight="normal" stroke="#DE2D14" stroke-width="0.3">s__Ruthenibacterium_lactatiformans</text>
<line x1="156.94" y1="926.50" x2="156.94" y2="931.00" stroke="#111" stroke-width="1.8" />
<text transform="translate(162.76,934.30) rotate(-90) scale(0.94,1)" font-size="16.51" fill="#000" text-anchor="end" font-weight="normal" stroke="#000" stroke-width="0.3">s__Odoribacter_splanchnicus</text>
<line x1="177.26" y1="926.50" x2="177.26" y2="931.00" stroke="#111" stroke-width="1.8" />
<text transform="translate(183.08,934.30) rotate(-90) scale(0.94,1)" font-size="16.51" fill="#DE2D14" text-anchor="end" font-weight="normal" stroke="#DE2D14" stroke-width="0.3">s__Alistipes_shahii</text>
<line x1="197.58" y1="926.50" x2="197.58" y2="931.00" stroke="#111" stroke-width="1.8" />
<text transform="translate(203.40,934.30) rotate(-90) scale(0.94,1)" font-size="16.51" fill="#DE2D14" text-anchor="end" font-weight="normal" stroke="#DE2D14" stroke-width="0.3">s__Alistipes_communis</text>
<line x1="217.90" y1="926.50" x2="217.90" y2="931.00" stroke="#111" stroke-width="1.8" />
<text transform="translate(223.72,934.30) rotate(-90) scale(0.94,1)" font-size="16.51" fill="#000" text-anchor="end" font-weight="normal" stroke="#000" stroke-width="0.3">s__Alistipes_finegoldii</text>
<line x1="238.22" y1="926.50" x2="238.22" y2="931.00" stroke="#111" stroke-width="1.8" />
<text transform="translate(244.04,934.30) rotate(-90) scale(0.94,1)" font-size="16.51" fill="#000" text-anchor="end" font-weight="normal" stroke="#000" stroke-width="0.3">s__Alistipes_indistinctus</text>
<line x1="258.54" y1="926.50" x2="258.54" y2="931.00" stroke="#111" stroke-width="1.8" />
<text transform="translate(264.36,934.30) rotate(-90) scale(0.94,1)" font-size="16.51" fill="#000" text-anchor="end" font-weight="normal" stroke="#000" stroke-width="0.3">s__Collinsella_stercoris</text>
<line x1="278.86" y1="926.50" x2="278.86" y2="931.00" stroke="#111" stroke-width="1.8" />
<text transform="translate(284.68,934.30) rotate(-90) scale(0.94,1)" font-size="16.51" fill="#DE2D14" text-anchor="end" font-weight="normal" stroke="#DE2D14" stroke-width="0.3">s__Dysosmobacter_welbionis</text>
<line x1="299.18" y1="926.50" x2="299.18" y2="931.00" stroke="#111" stroke-width="1.8" />
<text transform="translate(305.00,934.30) rotate(-90) scale(0.94,1)" font-size="16.51" fill="#DE2D14" text-anchor="end" font-weight="normal" stroke="#DE2D14" stroke-width="0.3">s__Alistipes_megaguti</text>
<line x1="319.50" y1="926.50" x2="319.50" y2="931.00" stroke="#111" stroke-width="1.8" />
<text transform="translate(325.32,934.30) rotate(-90) scale(0.94,1)" font-size="16.51" fill="#DE2D14" text-anchor="end" font-weight="normal" stroke="#DE2D14" stroke-width="0.3">s__Vescimonas_fastidiosa</text>
<line x1="339.82" y1="926.50" x2="339.82" y2="931.00" stroke="#111" stroke-width="1.8" />
<text transform="translate(345.64,934.30) rotate(-90) scale(0.94,1)" font-size="16.51" fill="#DE2D14" text-anchor="end" font-weight="normal" stroke="#DE2D14" stroke-width="0.3">s__Flintibacter_sp._KGMB00164</text>
<line x1="360.14" y1="926.50" x2="360.14" y2="931.00" stroke="#111" stroke-width="1.8" />
<text transform="translate(365.96,934.30) rotate(-90) scale(0.94,1)" font-size="16.51" fill="#000" text-anchor="end" font-weight="normal" stroke="#000" stroke-width="0.3">s__Bacteroides_sp._DH3716P</text>
<line x1="380.46" y1="926.50" x2="380.46" y2="931.00" stroke="#111" stroke-width="1.8" />
<text transform="translate(386.28,934.30) rotate(-90) scale(0.94,1)" font-size="16.51" fill="#DE2D14" text-anchor="end" font-weight="normal" stroke="#DE2D14" stroke-width="0.3">s__Lawsonibacter_asaccharolyticus</text>
<line x1="400.78" y1="926.50" x2="400.78" y2="931.00" stroke="#111" stroke-width="1.8" />
<text transform="translate(406.60,934.30) rotate(-90) scale(0.94,1)" font-size="16.51" fill="#000" text-anchor="end" font-weight="normal" stroke="#000" stroke-width="0.3">s__Parabacteroides_sp._CT06</text>
<line x1="421.10" y1="926.50" x2="421.10" y2="931.00" stroke="#111" stroke-width="1.8" />
<text transform="translate(426.92,934.30) rotate(-90) scale(0.94,1)" font-size="16.51" fill="#DE2D14" text-anchor="end" font-weight="normal" stroke="#DE2D14" stroke-width="0.3">s__Intestinimonas_butyriciproducens</text>
<line x1="441.42" y1="926.50" x2="441.42" y2="931.00" stroke="#111" stroke-width="1.8" />
<text transform="translate(447.24,934.30) rotate(-90) scale(0.94,1)" font-size="16.51" fill="#DE2D14" text-anchor="end" font-weight="normal" stroke="#DE2D14" stroke-width="0.3">s__Alistipes_senegalensis</text>
<line x1="461.74" y1="926.50" x2="461.74" y2="931.00" stroke="#111" stroke-width="1.8" />
<text transform="translate(467.56,934.30) rotate(-90) scale(0.94,1)" font-size="16.51" fill="#000" text-anchor="end" font-weight="normal" stroke="#000" stroke-width="0.3">s__Oscillibacter_hominis</text>
<line x1="482.06" y1="926.50" x2="482.06" y2="931.00" stroke="#111" stroke-width="1.8" />
<text transform="translate(487.88,934.30) rotate(-90) scale(0.94,1)" font-size="16.51" fill="#DE2D14" text-anchor="end" font-weight="normal" stroke="#DE2D14" stroke-width="0.3">s__Prevotella_melaninogenica</text>
<line x1="502.38" y1="926.50" x2="502.38" y2="931.00" stroke="#111" stroke-width="1.8" />
<text transform="translate(508.20,934.30) rotate(-90) scale(0.94,1)" font-size="16.51" fill="#DE2D14" text-anchor="end" font-weight="normal" stroke="#DE2D14" stroke-width="0.3">s__Streptococcus_mutans</text>
<line x1="522.70" y1="926.50" x2="522.70" y2="931.00" stroke="#111" stroke-width="1.8" />
<text transform="translate(528.52,934.30) rotate(-90) scale(0.94,1)" font-size="16.51" fill="#000" text-anchor="end" font-weight="normal" stroke="#000" stroke-width="0.3">s__Bacteroides_faecis</text>
<line x1="543.02" y1="926.50" x2="543.02" y2="931.00" stroke="#111" stroke-width="1.8" />
<text transform="translate(548.84,934.30) rotate(-90) scale(0.94,1)" font-size="16.51" fill="#000" text-anchor="end" font-weight="normal" stroke="#000" stroke-width="0.3">s__Kocuria_palustris</text>
<line x1="563.34" y1="926.50" x2="563.34" y2="931.00" stroke="#111" stroke-width="1.8" />
<text transform="translate(569.16,934.30) rotate(-90) scale(0.94,1)" font-size="16.51" fill="#000" text-anchor="end" font-weight="normal" stroke="#000" stroke-width="0.3">s__Paraprevotella_xylaniphila</text>
<line x1="583.66" y1="926.50" x2="583.66" y2="931.00" stroke="#111" stroke-width="1.8" />
<text transform="translate(589.48,934.30) rotate(-90) scale(0.94,1)" font-size="16.51" fill="#000" text-anchor="end" font-weight="normal" stroke="#000" stroke-width="0.3">s__uncultured_Alistipes_sp.</text>
<line x1="603.98" y1="926.50" x2="603.98" y2="931.00" stroke="#111" stroke-width="1.8" />
<text transform="translate(609.80,934.30) rotate(-90) scale(0.94,1)" font-size="16.51" fill="#000" text-anchor="end" font-weight="normal" stroke="#000" stroke-width="0.3">s__Butyricimonas_virosa</text>
<line x1="624.30" y1="926.50" x2="624.30" y2="931.00" stroke="#111" stroke-width="1.8" />
<text transform="translate(630.12,934.30) rotate(-90) scale(0.94,1)" font-size="16.51" fill="#000" text-anchor="end" font-weight="normal" stroke="#000" stroke-width="0.3">s__Prevotella_jejuni</text>
<line x1="644.62" y1="926.50" x2="644.62" y2="931.00" stroke="#111" stroke-width="1.8" />
<text transform="translate(650.44,934.30) rotate(-90) scale(0.94,1)" font-size="16.51" fill="#000" text-anchor="end" font-weight="normal" stroke="#000" stroke-width="0.3">s__Prevotella_dentalis</text>
<line x1="664.94" y1="926.50" x2="664.94" y2="931.00" stroke="#111" stroke-width="1.8" />
<text transform="translate(670.76,934.30) rotate(-90) scale(0.94,1)" font-size="16.51" fill="#DE2D14" text-anchor="end" font-weight="normal" stroke="#DE2D14" stroke-width="0.3">s__Gordonibacter_pamelaeae</text>
<line x1="685.26" y1="926.50" x2="685.26" y2="931.00" stroke="#111" stroke-width="1.8" />
<text transform="translate(691.08,934.30) rotate(-90) scale(0.94,1)" font-size="16.51" fill="#000" text-anchor="end" font-weight="normal" stroke="#000" stroke-width="0.3">s__Prevotella_intermedia</text>
<line x1="705.58" y1="926.50" x2="705.58" y2="931.00" stroke="#111" stroke-width="1.8" />
<text transform="translate(711.40,934.30) rotate(-90) scale(0.94,1)" font-size="16.51" fill="#000" text-anchor="end" font-weight="normal" stroke="#000" stroke-width="0.3">s__Blautia_hansenii</text>
<line x1="769.10" y1="929.50" x2="769.10" y2="934.00" stroke="#111" stroke-width="1.8" />
<text transform="translate(774.91,937.60) rotate(-90) scale(0.94,1)" font-size="16.49" fill="#000" text-anchor="end" font-weight="normal" stroke="#000" stroke-width="0.3">s__Bacteroides_fragilis</text>
<line x1="786.20" y1="929.50" x2="786.20" y2="934.00" stroke="#111" stroke-width="1.8" />
<text transform="translate(792.01,937.60) rotate(-90) scale(0.94,1)" font-size="16.49" fill="#DE2D14" text-anchor="end" font-weight="normal" stroke="#DE2D14" stroke-width="0.3">s__Parabacteroides_merdae</text>
<line x1="803.30" y1="929.50" x2="803.30" y2="934.00" stroke="#111" stroke-width="1.8" />
<text transform="translate(809.11,937.60) rotate(-90) scale(0.94,1)" font-size="16.49" fill="#17922B" text-anchor="end" font-weight="normal" stroke="#17922B" stroke-width="0.3">s__[Clostridium]_innocuum</text>
<line x1="820.40" y1="929.50" x2="820.40" y2="934.00" stroke="#111" stroke-width="1.8" />
<text transform="translate(826.21,937.60) rotate(-90) scale(0.94,1)" font-size="16.49" fill="#DE2D14" text-anchor="end" font-weight="normal" stroke="#DE2D14" stroke-width="0.3">s__Bacteroides_caccae</text>
<line x1="837.50" y1="929.50" x2="837.50" y2="934.00" stroke="#111" stroke-width="1.8" />
<text transform="translate(843.31,937.60) rotate(-90) scale(0.94,1)" font-size="16.49" fill="#000" text-anchor="end" font-weight="normal" stroke="#000" stroke-width="0.3">s__Flavonifractor_plautii</text>
<line x1="854.60" y1="929.50" x2="854.60" y2="934.00" stroke="#111" stroke-width="1.8" />
<text transform="translate(860.41,937.60) rotate(-90) scale(0.94,1)" font-size="16.49" fill="#DE2D14" text-anchor="end" font-weight="normal" stroke="#DE2D14" stroke-width="0.3">s__Ruthenibacterium_lactatiformans</text>
<line x1="871.70" y1="929.50" x2="871.70" y2="934.00" stroke="#111" stroke-width="1.8" />
<text transform="translate(877.51,937.60) rotate(-90) scale(0.94,1)" font-size="16.49" fill="#DE2D14" text-anchor="end" font-weight="normal" stroke="#DE2D14" stroke-width="0.3">s__Vescimonas_coprocola</text>
<line x1="888.80" y1="929.50" x2="888.80" y2="934.00" stroke="#111" stroke-width="1.8" />
<text transform="translate(894.61,937.60) rotate(-90) scale(0.94,1)" font-size="16.49" fill="#DE2D14" text-anchor="end" font-weight="normal" stroke="#DE2D14" stroke-width="0.3">s__Alistipes_communis</text>
<line x1="905.90" y1="929.50" x2="905.90" y2="934.00" stroke="#111" stroke-width="1.8" />
<text transform="translate(911.71,937.60) rotate(-90) scale(0.94,1)" font-size="16.49" fill="#DE2D14" text-anchor="end" font-weight="normal" stroke="#DE2D14" stroke-width="0.3">s__Dysosmobacter_welbionis</text>
<line x1="923.00" y1="929.50" x2="923.00" y2="934.00" stroke="#111" stroke-width="1.8" />
<text transform="translate(928.81,937.60) rotate(-90) scale(0.94,1)" font-size="16.49" fill="#DE2D14" text-anchor="end" font-weight="normal" stroke="#DE2D14" stroke-width="0.3">s__Flintibacter_sp._KGMB00164</text>
<line x1="940.10" y1="929.50" x2="940.10" y2="934.00" stroke="#111" stroke-width="1.8" />
<text transform="translate(945.91,937.60) rotate(-90) scale(0.94,1)" font-size="16.49" fill="#DE2D14" text-anchor="end" font-weight="normal" stroke="#DE2D14" stroke-width="0.3">s__Alistipes_shahii</text>
<line x1="957.20" y1="929.50" x2="957.20" y2="934.00" stroke="#111" stroke-width="1.8" />
<text transform="translate(963.01,937.60) rotate(-90) scale(0.94,1)" font-size="16.49" fill="#000" text-anchor="end" font-weight="normal" stroke="#000" stroke-width="0.3">s__Bacteroides_sp._HF−162</text>
<line x1="974.30" y1="929.50" x2="974.30" y2="934.00" stroke="#111" stroke-width="1.8" />
<text transform="translate(980.11,937.60) rotate(-90) scale(0.94,1)" font-size="16.49" fill="#DE2D14" text-anchor="end" font-weight="normal" stroke="#DE2D14" stroke-width="0.3">s__Alistipes_megaguti</text>
<line x1="991.40" y1="929.50" x2="991.40" y2="934.00" stroke="#111" stroke-width="1.8" />
<text transform="translate(997.21,937.60) rotate(-90) scale(0.94,1)" font-size="16.49" fill="#000" text-anchor="end" font-weight="normal" stroke="#000" stroke-width="0.3">s__Enterocloster_asparagiformis</text>
<line x1="1008.50" y1="929.50" x2="1008.50" y2="934.00" stroke="#111" stroke-width="1.8" />
<text transform="translate(1014.31,937.60) rotate(-90) scale(0.94,1)" font-size="16.49" fill="#DE2D14" text-anchor="end" font-weight="normal" stroke="#DE2D14" stroke-width="0.3">s__Vescimonas_fastidiosa</text>
<line x1="1025.60" y1="929.50" x2="1025.60" y2="934.00" stroke="#111" stroke-width="1.8" />
<text transform="translate(1031.41,937.60) rotate(-90) scale(0.94,1)" font-size="16.49" fill="#DE2D14" text-anchor="end" font-weight="normal" stroke="#DE2D14" stroke-width="0.3">s__Alistipes_senegalensis</text>
<line x1="1042.70" y1="929.50" x2="1042.70" y2="934.00" stroke="#111" stroke-width="1.8" />
<text transform="translate(1048.51,937.60) rotate(-90) scale(0.94,1)" font-size="16.49" fill="#DE2D14" text-anchor="end" font-weight="normal" stroke="#DE2D14" stroke-width="0.3">s__Lawsonibacter_asaccharolyticus</text>
<line x1="1059.80" y1="929.50" x2="1059.80" y2="934.00" stroke="#111" stroke-width="1.8" />
<text transform="translate(1065.61,937.60) rotate(-90) scale(0.94,1)" font-size="16.49" fill="#DE2D14" text-anchor="end" font-weight="normal" stroke="#DE2D14" stroke-width="0.3">s__Intestinimonas_butyriciproducens</text>
<line x1="1076.90" y1="929.50" x2="1076.90" y2="934.00" stroke="#111" stroke-width="1.8" />
<text transform="translate(1082.71,937.60) rotate(-90) scale(0.94,1)" font-size="16.49" fill="#DE2D14" text-anchor="end" font-weight="normal" stroke="#DE2D14" stroke-width="0.3">s__Oscillibacter_hominis</text>
<line x1="1094.00" y1="929.50" x2="1094.00" y2="934.00" stroke="#111" stroke-width="1.8" />
<text transform="translate(1099.81,937.60) rotate(-90) scale(0.94,1)" font-size="16.49" fill="#DE2D14" text-anchor="end" font-weight="normal" stroke="#DE2D14" stroke-width="0.3">s__Streptococcus_mutans</text>
<line x1="1111.10" y1="929.50" x2="1111.10" y2="934.00" stroke="#111" stroke-width="1.8" />
<text transform="translate(1116.91,937.60) rotate(-90) scale(0.94,1)" font-size="16.49" fill="#000" text-anchor="end" font-weight="normal" stroke="#000" stroke-width="0.3">s__Afonbuvirus_intestinihominis</text>
<line x1="1128.20" y1="929.50" x2="1128.20" y2="934.00" stroke="#111" stroke-width="1.8" />
<text transform="translate(1134.01,937.60) rotate(-90) scale(0.94,1)" font-size="16.49" fill="#000" text-anchor="end" font-weight="normal" stroke="#000" stroke-width="0.3">s__Alistipes_dispar</text>
<line x1="1145.30" y1="929.50" x2="1145.30" y2="934.00" stroke="#111" stroke-width="1.8" />
<text transform="translate(1151.11,937.60) rotate(-90) scale(0.94,1)" font-size="16.49" fill="#DE2D14" text-anchor="end" font-weight="normal" stroke="#DE2D14" stroke-width="0.3">s__Gordonibacter_pamelaeae</text>
<line x1="1162.40" y1="929.50" x2="1162.40" y2="934.00" stroke="#111" stroke-width="1.8" />
<text transform="translate(1168.21,937.60) rotate(-90) scale(0.94,1)" font-size="16.49" fill="#000" text-anchor="end" font-weight="normal" stroke="#000" stroke-width="0.3">s__Haemophilus_parainfluenzae</text>
<line x1="1179.50" y1="929.50" x2="1179.50" y2="934.00" stroke="#111" stroke-width="1.8" />
<text transform="translate(1185.31,937.60) rotate(-90) scale(0.94,1)" font-size="16.49" fill="#000" text-anchor="end" font-weight="normal" stroke="#000" stroke-width="0.3">s__Streptococcus_ilei</text>
<line x1="1196.60" y1="929.50" x2="1196.60" y2="934.00" stroke="#111" stroke-width="1.8" />
<text transform="translate(1202.41,937.60) rotate(-90) scale(0.94,1)" font-size="16.49" fill="#000" text-anchor="end" font-weight="normal" stroke="#000" stroke-width="0.3">s__Streptococcus_rubneri</text>
<line x1="1213.70" y1="929.50" x2="1213.70" y2="934.00" stroke="#111" stroke-width="1.8" />
<text transform="translate(1219.51,937.60) rotate(-90) scale(0.94,1)" font-size="16.49" fill="#000" text-anchor="end" font-weight="normal" stroke="#000" stroke-width="0.3">s__Streptococcus_koreensis</text>
<line x1="1230.80" y1="929.50" x2="1230.80" y2="934.00" stroke="#111" stroke-width="1.8" />
<text transform="translate(1236.61,937.60) rotate(-90) scale(0.94,1)" font-size="16.49" fill="#17922B" text-anchor="end" font-weight="normal" stroke="#17922B" stroke-width="0.3">s__Streptococcus_oralis</text>
<line x1="1315.15" y1="933.20" x2="1315.15" y2="937.50" stroke="#111" stroke-width="1.8" />
<text transform="translate(1320.48,940.50) rotate(-90) scale(0.94,1)" font-size="15.11" fill="#17922B" text-anchor="end" font-weight="normal" stroke="#17922B" stroke-width="0.3">s__[Clostridium]_innocuum</text>
<line x1="1338.89" y1="933.20" x2="1338.89" y2="937.50" stroke="#111" stroke-width="1.8" />
<text transform="translate(1344.22,940.50) rotate(-90) scale(0.94,1)" font-size="15.11" fill="#000" text-anchor="end" font-weight="normal" stroke="#000" stroke-width="0.3">s__Enterocloster_bolteae</text>
<line x1="1362.63" y1="933.20" x2="1362.63" y2="937.50" stroke="#111" stroke-width="1.8" />
<text transform="translate(1367.96,940.50) rotate(-90) scale(0.94,1)" font-size="15.11" fill="#000" text-anchor="end" font-weight="normal" stroke="#000" stroke-width="0.3">s__Enterocloster_clostridioformis</text>
<line x1="1386.37" y1="933.20" x2="1386.37" y2="937.50" stroke="#111" stroke-width="1.8" />
<text transform="translate(1391.70,940.50) rotate(-90) scale(0.94,1)" font-size="15.11" fill="#000" text-anchor="end" font-weight="normal" stroke="#000" stroke-width="0.3">s__Anaerostipes_caccae</text>
<line x1="1410.11" y1="933.20" x2="1410.11" y2="937.50" stroke="#111" stroke-width="1.8" />
<text transform="translate(1415.44,940.50) rotate(-90) scale(0.94,1)" font-size="15.11" fill="#000" text-anchor="end" font-weight="normal" stroke="#000" stroke-width="0.3">s__Streptococcus_vestibularis</text>
<line x1="1433.85" y1="933.20" x2="1433.85" y2="937.50" stroke="#111" stroke-width="1.8" />
<text transform="translate(1439.18,940.50) rotate(-90) scale(0.94,1)" font-size="15.11" fill="#17922B" text-anchor="end" font-weight="normal" stroke="#17922B" stroke-width="0.3">s__Streptococcus_oralis</text>
</g>
<g id="venn">
<text transform="translate(9.00,1235.60) scale(0.99,1)" font-size="34.34" fill="#000" text-anchor="start" font-weight="normal"  stroke="#000" stroke-width="0.2">B</text>
<circle cx="130.80" cy="1417.70" r="75.6" fill="#2D1565" fill-opacity="0.5"/>
<circle cx="232.00" cy="1418.00" r="76" fill="#83A5C9" fill-opacity="0.5"/>
<circle cx="181.70" cy="1511.60" r="75.6" fill="#C9B3D5" fill-opacity="0.5"/>
<text transform="translate(11.40,1332.40) scale(1.06,1)" font-size="17.26" fill="#1F1A6B" text-anchor="start" font-weight="bold" >IgAN_VS_control</text>
<text transform="translate(204.80,1331.50) scale(1.06,1)" font-size="17.26" fill="#7BA7D0" text-anchor="start" font-weight="bold" >MN_VS_control</text>
<text transform="translate(121.20,1615.10) scale(1.06,1)" font-size="17.26" fill="#C3ACD5" text-anchor="start" font-weight="bold" >IgAN_VS_MN</text>
<text transform="translate(121.60,1429.00) scale(0.98,1)" font-size="30.61" fill="#111" text-anchor="middle" font-weight="normal"  stroke="#111" stroke-width="0.2">18</text>
<text transform="translate(182.50,1415.10) scale(0.98,1)" font-size="30.61" fill="#F2161E" text-anchor="middle" font-weight="normal"  stroke="#F2161E" stroke-width="0.2">16</text>
<text transform="translate(243.40,1429.00) scale(0.98,1)" font-size="30.61" fill="#111" text-anchor="middle" font-weight="normal"  stroke="#111" stroke-width="0.2">10</text>
<text transform="translate(181.60,1460.80) scale(0.98,1)" font-size="30.61" fill="#111" text-anchor="middle" font-weight="normal"  stroke="#111" stroke-width="0.2">0</text>
<text transform="translate(143.50,1475.70) scale(0.98,1)" font-size="30.61" fill="#111" text-anchor="middle" font-weight="normal"  stroke="#111" stroke-width="0.2">0</text>
<text transform="translate(218.40,1475.70) scale(0.98,1)" font-size="30.61" fill="#1F9A2E" text-anchor="middle" font-weight="normal"  stroke="#1F9A2E" stroke-width="0.2">2</text>
<text transform="translate(181.00,1523.30) scale(0.98,1)" font-size="30.61" fill="#111" text-anchor="middle" font-weight="normal"  stroke="#111" stroke-width="0.2">4</text>
</g>
<g id="boxplots">
<text transform="translate(337.00,1236.00) scale(0.99,1)" font-size="34.34" fill="#000" text-anchor="start" font-weight="normal"  stroke="#000" stroke-width="0.2">C</text>
<line x1="420.70" y1="1252.60" x2="602.40" y2="1252.60" stroke="#E9E8E8" stroke-width="1.5" />
<line x1="420.70" y1="1310.20" x2="602.40" y2="1310.20" stroke="#E9E8E8" stroke-width="1.5" />
<line x1="420.70" y1="1367.90" x2="602.40" y2="1367.90" stroke="#E9E8E8" stroke-width="1.5" />
<line x1="420.70" y1="1425.50" x2="602.40" y2="1425.50" stroke="#E9E8E8" stroke-width="1.5" />
<line x1="420.70" y1="1281.40" x2="602.40" y2="1281.40" stroke="#E9E8E8" stroke-width="3.0" />
<line x1="420.70" y1="1339.00" x2="602.40" y2="1339.00" stroke="#E9E8E8" stroke-width="3.0" />
<line x1="420.70" y1="1396.70" x2="602.40" y2="1396.70" stroke="#E9E8E8" stroke-width="3.0" />
<line x1="420.70" y1="1454.30" x2="602.40" y2="1454.30" stroke="#E9E8E8" stroke-width="3.0" />
<line x1="452.50" y1="1226.00" x2="452.50" y2="1463.80" stroke="#E9E8E8" stroke-width="3.7" />
<line x1="511.10" y1="1226.00" x2="511.10" y2="1463.80" stroke="#E9E8E8" stroke-width="3.7" />
<line x1="570.10" y1="1226.00" x2="570.10" y2="1463.80" stroke="#E9E8E8" stroke-width="3.7" />
<text transform="translate(417.60,1214.00) scale(1.02,1)" font-size="11.82" fill="#000" text-anchor="start" font-weight="bold" >s__[Clostridium]_innocuum</text>
<text transform="translate(412.40,1227.85) scale(1.04,1)" font-size="11.63" fill="#000" text-anchor="end" font-weight="normal"  stroke="#000" stroke-width="0.2">0.20</text>
<line x1="414.10" y1="1223.70" x2="417.70" y2="1223.70" stroke="#111" stroke-width="2.6" />
<text transform="translate(412.40,1285.55) scale(1.04,1)" font-size="11.63" fill="#000" text-anchor="end" font-weight="normal"  stroke="#000" stroke-width="0.2">0.15</text>
<line x1="414.10" y1="1281.40" x2="417.70" y2="1281.40" stroke="#111" stroke-width="2.6" />
<text transform="translate(412.40,1343.15) scale(1.04,1)" font-size="11.63" fill="#000" text-anchor="end" font-weight="normal"  stroke="#000" stroke-width="0.2">0.10</text>
<line x1="414.10" y1="1339.00" x2="417.70" y2="1339.00" stroke="#111" stroke-width="2.6" />
<text transform="translate(412.40,1400.85) scale(1.04,1)" font-size="11.63" fill="#000" text-anchor="end" font-weight="normal"  stroke="#000" stroke-width="0.2">0.05</text>
<line x1="414.10" y1="1396.70" x2="417.70" y2="1396.70" stroke="#111" stroke-width="2.6" />
<text transform="translate(412.40,1458.25) scale(1.04,1)" font-size="11.63" fill="#000" text-anchor="end" font-weight="normal"  stroke="#000" stroke-width="0.2">0.00</text>
<line x1="414.10" y1="1454.10" x2="417.70" y2="1454.10" stroke="#111" stroke-width="2.6" />
<text transform="translate(383.30,1344.40) rotate(-90) scale(0.96,1)" font-size="12.50" fill="#000" text-anchor="middle" font-weight="bold" >Relative abundance</text>
<path d="M452.50,1245.80 V1240.20 H570.10 V1245.80" fill="none" stroke="#000" stroke-width="2.9" stroke-linejoin="round" stroke-linecap="round"/>
<text x="511.70" y="1237.00" font-size="9.2" text-anchor="middle" fill="#111" stroke="#111" stroke-width="0.25">* <tspan font-style="italic">P</tspan> = 0.029</text>
<path d="M511.10,1262.80 V1257.20 H570.10 V1262.80" fill="none" stroke="#000" stroke-width="2.9" stroke-linejoin="round" stroke-linecap="round"/>
<text x="540.90" y="1254.70" font-size="9.2" text-anchor="middle" fill="#111" stroke="#111" stroke-width="0.25">* <tspan font-style="italic">P</tspan> = 0.033</text>
<path d="M452.50,1280.50 V1275.00 H511.10 V1280.50" fill="none" stroke="#000" stroke-width="2.9" stroke-linejoin="round" stroke-linecap="round"/>
<text x="482.00" y="1271.70" font-size="9.2" text-anchor="middle" fill="#111" stroke="#111" stroke-width="0.25"><tspan font-style="italic">P</tspan> = 0.95</text>
<rect x="429.10" y="1447.80" width="47.00" height="6.80" fill="#DD8C88" />
<rect x="488.00" y="1445.80" width="46.80" height="8.80" fill="#373578" />
<line x1="490.00" y1="1449.00" x2="533.00" y2="1449.00" stroke="#8a88b5" stroke-width="1" stroke-dasharray="4 3"/>
<rect x="547.20" y="1451.10" width="46.30" height="4.80" fill="#82ADD1" />
<circle cx="461.60" cy="1296.90" r="2.5" fill="#DD8C88" />
<circle cx="449.40" cy="1435.80" r="2.5" fill="#DD8C88" />
<circle cx="438.00" cy="1448.00" r="2.5" fill="#DD8C88" />
<circle cx="444.00" cy="1449.50" r="2.5" fill="#DD8C88" />
<circle cx="452.00" cy="1447.50" r="2.5" fill="#DD8C88" />
<circle cx="458.00" cy="1449.00" r="2.5" fill="#DD8C88" />
<circle cx="455.00" cy="1453.50" r="2.5" fill="#DD8C88" />
<circle cx="463.00" cy="1452.00" r="2.5" fill="#DD8C88" />
<circle cx="441.00" cy="1451.00" r="2.5" fill="#DD8C88" />
<circle cx="510.60" cy="1321.30" r="2.5" fill="#29266F" />
<circle cx="520.50" cy="1406.60" r="2.5" fill="#29266F" />
<circle cx="500.70" cy="1411.70" r="2.5" fill="#29266F" />
<circle cx="501.70" cy="1424.40" r="2.5" fill="#29266F" />
<circle cx="499.70" cy="1435.80" r="2.5" fill="#29266F" />
<circle cx="506.00" cy="1445.00" r="2.5" fill="#29266F" />
<circle cx="515.00" cy="1446.00" r="2.5" fill="#29266F" />
<circle cx="522.00" cy="1449.00" r="2.5" fill="#29266F" />
<circle cx="510.00" cy="1454.00" r="2.5" fill="#29266F" />
<circle cx="519.00" cy="1453.50" r="2.5" fill="#29266F" />
<circle cx="501.00" cy="1452.00" r="2.5" fill="#29266F" />
<circle cx="572.60" cy="1369.30" r="2.5" fill="#82ADD1" />
<circle cx="559.90" cy="1438.60" r="2.5" fill="#82ADD1" />
<circle cx="552.00" cy="1453.50" r="2.5" fill="#82ADD1" />
<circle cx="560.00" cy="1451.00" r="2.5" fill="#82ADD1" />
<circle cx="566.00" cy="1454.00" r="2.5" fill="#82ADD1" />
<circle cx="571.00" cy="1450.50" r="2.5" fill="#82ADD1" />
<circle cx="579.00" cy="1452.50" r="2.5" fill="#82ADD1" />
<circle cx="586.00" cy="1453.50" r="2.5" fill="#82ADD1" />
<circle cx="590.00" cy="1453.00" r="2.5" fill="#82ADD1" />
<rect x="417.70" y="1223.20" width="187.70" height="243.10" fill="none" stroke="#111" stroke-width="2"/>
<line x1="420.70" y1="1514.00" x2="599.90" y2="1514.00" stroke="#E9E8E8" stroke-width="1.5" />
<line x1="420.70" y1="1573.90" x2="599.90" y2="1573.90" stroke="#E9E8E8" stroke-width="1.5" />
<line x1="420.70" y1="1633.20" x2="599.90" y2="1633.20" stroke="#E9E8E8" stroke-width="1.5" />
<line x1="420.70" y1="1692.70" x2="599.90" y2="1692.70" stroke="#E9E8E8" stroke-width="1.5" />
<line x1="420.70" y1="1544.30" x2="599.90" y2="1544.30" stroke="#E9E8E8" stroke-width="3.0" />
<line x1="420.70" y1="1603.50" x2="599.90" y2="1603.50" stroke="#E9E8E8" stroke-width="3.0" />
<line x1="420.70" y1="1662.90" x2="599.90" y2="1662.90" stroke="#E9E8E8" stroke-width="3.0" />
<line x1="420.70" y1="1722.60" x2="599.90" y2="1722.60" stroke="#E9E8E8" stroke-width="3.0" />
<line x1="452.00" y1="1495.80" x2="452.00" y2="1731.00" stroke="#E9E8E8" stroke-width="3.7" />
<line x1="509.90" y1="1495.80" x2="509.90" y2="1731.00" stroke="#E9E8E8" stroke-width="3.7" />
<line x1="568.10" y1="1495.80" x2="568.10" y2="1731.00" stroke="#E9E8E8" stroke-width="3.7" />
<text transform="translate(417.60,1484.00) scale(1.02,1)" font-size="11.65" fill="#000" text-anchor="start" font-weight="bold" >s__Streptococcus_oralis</text>
<text transform="translate(411.80,1548.45) scale(1.04,1)" font-size="11.63" fill="#000" text-anchor="end" font-weight="normal"  stroke="#000" stroke-width="0.2">0.0015</text>
<line x1="414.10" y1="1544.30" x2="417.70" y2="1544.30" stroke="#111" stroke-width="2.6" />
<text transform="translate(411.80,1607.65) scale(1.04,1)" font-size="11.63" fill="#000" text-anchor="end" font-weight="normal"  stroke="#000" stroke-width="0.2">0.0010</text>
<line x1="414.10" y1="1603.50" x2="417.70" y2="1603.50" stroke="#111" stroke-width="2.6" />
<text transform="translate(411.80,1667.05) scale(1.04,1)" font-size="11.63" fill="#000" text-anchor="end" font-weight="normal"  stroke="#000" stroke-width="0.2">0.0005</text>
<line x1="414.10" y1="1662.90" x2="417.70" y2="1662.90" stroke="#111" stroke-width="2.6" />
<text transform="translate(411.80,1726.75) scale(1.04,1)" font-size="11.63" fill="#000" text-anchor="end" font-weight="normal"  stroke="#000" stroke-width="0.2">0.0000</text>
<line x1="414.10" y1="1722.60" x2="417.70" y2="1722.60" stroke="#111" stroke-width="2.6" />
<text transform="translate(369.90,1613.30) rotate(-90) scale(0.96,1)" font-size="12.50" fill="#000" text-anchor="middle" font-weight="bold" >Relative abundance</text>
<path d="M452.00,1515.60 V1510.00 H568.10 V1515.60" fill="none" stroke="#000" stroke-width="2.9" stroke-linejoin="round" stroke-linecap="round"/>
<text x="509.90" y="1506.40" font-size="9.2" text-anchor="middle" fill="#111" stroke="#111" stroke-width="0.25">* <tspan font-style="italic">P</tspan> = 0.027</text>
<path d="M509.90,1532.60 V1527.00 H568.10 V1532.60" fill="none" stroke="#000" stroke-width="2.9" stroke-linejoin="round" stroke-linecap="round"/>
<text x="538.80" y="1524.00" font-size="9.2" text-anchor="middle" fill="#111" stroke="#111" stroke-width="0.25">* <tspan font-style="italic">P</tspan> = 0.041</text>
<path d="M452.00,1550.00 V1544.50 H509.90 V1550.00" fill="none" stroke="#000" stroke-width="2.9" stroke-linejoin="round" stroke-linecap="round"/>
<text x="480.70" y="1541.20" font-size="9.2" text-anchor="middle" fill="#111" stroke="#111" stroke-width="0.25"><tspan font-style="italic">P</tspan> = 0.44</text>
<line x1="451.90" y1="1682.10" x2="451.90" y2="1721.10" stroke="#DD8C88" stroke-width="2.8" />
<line x1="441.60" y1="1682.10" x2="461.40" y2="1682.10" stroke="#DD8C88" stroke-width="2.8" />
<line x1="441.60" y1="1721.10" x2="461.40" y2="1721.10" stroke="#DD8C88" stroke-width="2.8" />
<rect x="430.00" y="1702.70" width="43.60" height="12.60" fill="#DD8C88" fill-opacity="0.45" stroke="#DD8C88" stroke-width="2.8"/>
<line x1="428.60" y1="1712.00" x2="475.00" y2="1712.00" stroke="#DD8C88" stroke-width="4.6" />
<line x1="510.00" y1="1691.40" x2="510.00" y2="1719.20" stroke="#373578" stroke-width="2.8" />
<line x1="501.60" y1="1691.40" x2="517.70" y2="1691.40" stroke="#373578" stroke-width="2.8" />
<line x1="501.60" y1="1719.20" x2="517.70" y2="1719.20" stroke="#373578" stroke-width="2.8" />
<rect x="488.60" y="1703.30" width="42.80" height="9.30" fill="#373578" fill-opacity="0.9" stroke="#373578" stroke-width="2.8"/>
<line x1="487.20" y1="1710.00" x2="532.80" y2="1710.00" stroke="#373578" stroke-width="4.6" />
<line x1="490.00" y1="1705.60" x2="530.00" y2="1705.60" stroke="#9a98c0" stroke-width="1.3" stroke-dasharray="5 2"/>
<line x1="568.50" y1="1565.90" x2="568.50" y2="1720.20" stroke="#82ADD1" stroke-width="2.8" />
<line x1="560.50" y1="1565.90" x2="576.50" y2="1565.90" stroke="#82ADD1" stroke-width="2.8" />
<line x1="560.50" y1="1720.20" x2="576.50" y2="1720.20" stroke="#82ADD1" stroke-width="2.8" />
<rect x="546.60" y="1650.70" width="43.00" height="59.10" fill="#82ADD1" fill-opacity="0.6" stroke="#82ADD1" stroke-width="2.8"/>
<line x1="545.20" y1="1693.80" x2="591.00" y2="1693.80" stroke="#82ADD1" stroke-width="5" />
<circle cx="442.00" cy="1667.20" r="2.5" fill="#DD8C88" />
<circle cx="453.20" cy="1664.40" r="2.5" fill="#DD8C88" />
<circle cx="442.50" cy="1681.70" r="2.5" fill="#DD8C88" />
<circle cx="459.30" cy="1683.00" r="2.5" fill="#DD8C88" />
<circle cx="446.50" cy="1706.00" r="2.5" fill="#DD8C88" />
<circle cx="456.00" cy="1703.50" r="2.5" fill="#DD8C88" />
<circle cx="463.00" cy="1704.00" r="2.5" fill="#DD8C88" />
<circle cx="443.00" cy="1719.50" r="2.5" fill="#DD8C88" />
<circle cx="450.00" cy="1721.00" r="2.5" fill="#DD8C88" />
<circle cx="460.00" cy="1719.50" r="2.5" fill="#DD8C88" />
<circle cx="466.00" cy="1712.00" r="2.5" fill="#DD8C88" />
<circle cx="503.00" cy="1570.40" r="2.5" fill="#29266F" />
<circle cx="504.50" cy="1654.30" r="2.5" fill="#29266F" />
<circle cx="509.60" cy="1679.70" r="2.5" fill="#29266F" />
<circle cx="516.50" cy="1691.00" r="2.5" fill="#29266F" />
<circle cx="514.50" cy="1696.00" r="2.5" fill="#29266F" />
<circle cx="503.00" cy="1703.00" r="2.5" fill="#29266F" />
<circle cx="512.00" cy="1705.50" r="2.5" fill="#29266F" />
<circle cx="500.00" cy="1712.50" r="2.5" fill="#29266F" />
<circle cx="507.00" cy="1717.50" r="2.5" fill="#29266F" />
<circle cx="514.50" cy="1718.50" r="2.5" fill="#29266F" />
<circle cx="518.00" cy="1714.00" r="2.5" fill="#29266F" />
<circle cx="558.20" cy="1576.30" r="2.5" fill="#82ADD1" />
<circle cx="575.40" cy="1583.60" r="2.5" fill="#82ADD1" />
<circle cx="576.40" cy="1613.90" r="2.5" fill="#82ADD1" />
<circle cx="579.20" cy="1633.70" r="2.5" fill="#82ADD1" />
<circle cx="558.00" cy="1656.50" r="2.5" fill="#82ADD1" />
<circle cx="570.00" cy="1656.00" r="2.5" fill="#82ADD1" />
<circle cx="557.50" cy="1672.50" r="2.5" fill="#82ADD1" />
<circle cx="579.50" cy="1684.50" r="2.5" fill="#82ADD1" />
<circle cx="562.00" cy="1693.00" r="2.5" fill="#82ADD1" />
<circle cx="571.00" cy="1695.00" r="2.5" fill="#82ADD1" />
<circle cx="563.50" cy="1705.50" r="2.5" fill="#82ADD1" />
<circle cx="568.00" cy="1702.00" r="2.5" fill="#82ADD1" />
<circle cx="576.00" cy="1703.00" r="2.5" fill="#82ADD1" />
<circle cx="570.50" cy="1710.50" r="2.5" fill="#82ADD1" />
<circle cx="576.00" cy="1710.50" r="2.5" fill="#82ADD1" />
<circle cx="561.00" cy="1716.00" r="2.5" fill="#82ADD1" />
<circle cx="562.50" cy="1720.00" r="2.5" fill="#82ADD1" />
<rect x="417.70" y="1493.00" width="185.20" height="240.50" fill="none" stroke="#111" stroke-width="2"/>
<line x1="619.30" y1="1674.00" x2="619.30" y2="1691.20" stroke="#DD8C88" stroke-width="2.4" />
<rect x="610.20" y="1676.30" width="18.30" height="12.60" fill="#DD8C88" />
<rect x="613.00" y="1679.45" width="4.40" height="1.10" fill="#ffffff" opacity="0.45"/>
<rect x="613.00" y="1684.65" width="4.40" height="1.10" fill="#ffffff" opacity="0.45"/>
<rect x="621.20" y="1679.45" width="4.40" height="1.10" fill="#ffffff" opacity="0.45"/>
<rect x="621.20" y="1684.65" width="4.40" height="1.10" fill="#ffffff" opacity="0.45"/>
<text transform="translate(638.30,1688.60) scale(1.03,1)" font-size="16.31" fill="#000" text-anchor="start" font-weight="normal"  stroke="#000" stroke-width="0.2">control</text>
<line x1="619.30" y1="1694.80" x2="619.30" y2="1712.00" stroke="#373578" stroke-width="2.4" />
<rect x="610.20" y="1697.10" width="18.30" height="12.60" fill="#373578" />
<rect x="613.00" y="1700.25" width="4.40" height="1.10" fill="#ffffff" opacity="0.45"/>
<rect x="613.00" y="1705.45" width="4.40" height="1.10" fill="#ffffff" opacity="0.45"/>
<rect x="621.20" y="1700.25" width="4.40" height="1.10" fill="#ffffff" opacity="0.45"/>
<rect x="621.20" y="1705.45" width="4.40" height="1.10" fill="#ffffff" opacity="0.45"/>
<text transform="translate(638.30,1709.40) scale(1.03,1)" font-size="16.31" fill="#000" text-anchor="start" font-weight="normal"  stroke="#000" stroke-width="0.2">IgAN</text>
<line x1="619.30" y1="1715.30" x2="619.30" y2="1732.50" stroke="#82ADD1" stroke-width="2.4" />
<rect x="610.20" y="1717.60" width="18.30" height="12.60" fill="#82ADD1" />
<rect x="613.00" y="1720.75" width="4.40" height="1.10" fill="#ffffff" opacity="0.45"/>
<rect x="613.00" y="1725.95" width="4.40" height="1.10" fill="#ffffff" opacity="0.45"/>
<rect x="621.20" y="1720.75" width="4.40" height="1.10" fill="#ffffff" opacity="0.45"/>
<rect x="621.20" y="1725.95" width="4.40" height="1.10" fill="#ffffff" opacity="0.45"/>
<text transform="translate(638.30,1729.70) scale(1.03,1)" font-size="16.31" fill="#000" text-anchor="start" font-weight="normal"  stroke="#000" stroke-width="0.2">MN</text>
</g>
<g id="dotplot">
<text transform="translate(731.00,1236.00) scale(0.99,1)" font-size="34.34" fill="#000" text-anchor="start" font-weight="normal"  stroke="#000" stroke-width="0.2">D</text>
<defs><linearGradient id="padj" x1="0" y1="0" x2="0" y2="1">
<stop offset="0" stop-color="#6095D6"/><stop offset="0.17" stop-color="#5786C4"/><stop offset="0.38" stop-color="#476AA3"/><stop offset="0.58" stop-color="#384B7D"/><stop offset="0.79" stop-color="#2C315B"/><stop offset="1" stop-color="#211F3C"/>
</linearGradient>
<clipPath id="clipS2"><rect x="1059.3" y="1508.4" width="31.3" height="124.5"/></clipPath>
</defs>
<rect x="1090.60" y="1231.30" width="361.20" height="267.30" fill="#ffffff" />
<line x1="1130.90" y1="1232.30" x2="1130.90" y2="1497.60" stroke="#E8E6E6" stroke-width="1.7" />
<line x1="1272.80" y1="1232.30" x2="1272.80" y2="1497.60" stroke="#E8E6E6" stroke-width="1.7" />
<line x1="1414.10" y1="1232.30" x2="1414.10" y2="1497.60" stroke="#E8E6E6" stroke-width="1.7" />
<line x1="1201.90" y1="1232.30" x2="1201.90" y2="1497.60" stroke="#E8E6E6" stroke-width="2.6" />
<line x1="1343.10" y1="1232.30" x2="1343.10" y2="1497.60" stroke="#E8E6E6" stroke-width="2.6" />
<line x1="1092.60" y1="1241.30" x2="1449.50" y2="1241.30" stroke="#E8E6E6" stroke-width="2.9" />
<line x1="1055.50" y1="1241.30" x2="1059.30" y2="1241.30" stroke="#111" stroke-width="2.4" />
<text transform="translate(1052.50,1247.30) scale(1.045,1)" font-size="17.64" fill="#000" text-anchor="end" font-weight="normal"  stroke="#000" stroke-width="0.2">Degradation of aromatic compounds</text>
<line x1="1092.60" y1="1258.96" x2="1449.50" y2="1258.96" stroke="#E8E6E6" stroke-width="2.9" />
<line x1="1055.50" y1="1258.96" x2="1059.30" y2="1258.96" stroke="#111" stroke-width="2.4" />
<text transform="translate(1052.50,1264.96) scale(1.045,1)" font-size="17.64" fill="#000" text-anchor="end" font-weight="normal"  stroke="#000" stroke-width="0.2">Quorum sensing</text>
<line x1="1092.60" y1="1276.63" x2="1449.50" y2="1276.63" stroke="#E8E6E6" stroke-width="2.9" />
<line x1="1055.50" y1="1276.63" x2="1059.30" y2="1276.63" stroke="#111" stroke-width="2.4" />
<text transform="translate(1052.50,1282.63) scale(1.045,1)" font-size="17.64" fill="#000" text-anchor="end" font-weight="normal"  stroke="#000" stroke-width="0.2">Biosynthesis of amino acids</text>
<line x1="1092.60" y1="1294.29" x2="1449.50" y2="1294.29" stroke="#E8E6E6" stroke-width="2.9" />
<line x1="1055.50" y1="1294.29" x2="1059.30" y2="1294.29" stroke="#111" stroke-width="2.4" />
<text transform="translate(1052.50,1300.29) scale(1.045,1)" font-size="17.64" fill="#000" text-anchor="end" font-weight="normal"  stroke="#000" stroke-width="0.2">Phosphotransferase system (PTS)</text>
<line x1="1092.60" y1="1311.96" x2="1449.50" y2="1311.96" stroke="#E8E6E6" stroke-width="2.9" />
<line x1="1055.50" y1="1311.96" x2="1059.30" y2="1311.96" stroke="#111" stroke-width="2.4" />
<text transform="translate(1052.50,1317.96) scale(1.045,1)" font-size="17.64" fill="#000" text-anchor="end" font-weight="normal"  stroke="#000" stroke-width="0.2">Ribosome</text>
<line x1="1092.60" y1="1329.62" x2="1449.50" y2="1329.62" stroke="#E8E6E6" stroke-width="2.9" />
<line x1="1055.50" y1="1329.62" x2="1059.30" y2="1329.62" stroke="#111" stroke-width="2.4" />
<text transform="translate(1052.50,1335.62) scale(1.045,1)" font-size="17.64" fill="#000" text-anchor="end" font-weight="normal"  stroke="#000" stroke-width="0.2">Phenylalanine metabolism</text>
<line x1="1092.60" y1="1347.29" x2="1449.50" y2="1347.29" stroke="#E8E6E6" stroke-width="2.9" />
<line x1="1055.50" y1="1347.29" x2="1059.30" y2="1347.29" stroke="#111" stroke-width="2.4" />
<text transform="translate(1052.50,1353.29) scale(1.045,1)" font-size="17.64" fill="#000" text-anchor="end" font-weight="normal"  stroke="#000" stroke-width="0.2">Fructose and mannose metabolism</text>
<line x1="1092.60" y1="1364.95" x2="1449.50" y2="1364.95" stroke="#E8E6E6" stroke-width="2.9" />
<line x1="1055.50" y1="1364.95" x2="1059.30" y2="1364.95" stroke="#111" stroke-width="2.4" />
<text transform="translate(1052.50,1370.95) scale(1.045,1)" font-size="17.64" fill="#000" text-anchor="end" font-weight="normal"  stroke="#000" stroke-width="0.2">Benzoate degradation</text>
<line x1="1092.60" y1="1382.62" x2="1449.50" y2="1382.62" stroke="#E8E6E6" stroke-width="2.9" />
<line x1="1055.50" y1="1382.62" x2="1059.30" y2="1382.62" stroke="#111" stroke-width="2.4" />
<text transform="translate(1052.50,1388.62) scale(1.045,1)" font-size="17.64" fill="#000" text-anchor="end" font-weight="normal"  stroke="#000" stroke-width="0.2">Aminobenzoate degradation</text>
<line x1="1092.60" y1="1400.28" x2="1449.50" y2="1400.28" stroke="#E8E6E6" stroke-width="2.9" />
<line x1="1055.50" y1="1400.28" x2="1059.30" y2="1400.28" stroke="#111" stroke-width="2.4" />
<text transform="translate(1052.50,1406.28) scale(1.045,1)" font-size="17.64" fill="#000" text-anchor="end" font-weight="normal"  stroke="#000" stroke-width="0.2">Amino sugar and nucleotide sugar metabolism</text>
<line x1="1092.60" y1="1417.95" x2="1449.50" y2="1417.95" stroke="#E8E6E6" stroke-width="2.9" />
<line x1="1055.50" y1="1417.95" x2="1059.30" y2="1417.95" stroke="#111" stroke-width="2.4" />
<text transform="translate(1052.50,1423.95) scale(1.045,1)" font-size="17.64" fill="#000" text-anchor="end" font-weight="normal"  stroke="#000" stroke-width="0.2">Sulfur relay system</text>
<line x1="1092.60" y1="1435.62" x2="1449.50" y2="1435.62" stroke="#E8E6E6" stroke-width="2.9" />
<line x1="1055.50" y1="1435.62" x2="1059.30" y2="1435.62" stroke="#111" stroke-width="2.4" />
<text transform="translate(1052.50,1441.62) scale(1.045,1)" font-size="17.64" fill="#000" text-anchor="end" font-weight="normal"  stroke="#000" stroke-width="0.2">Dioxin degradation</text>
<line x1="1092.60" y1="1453.28" x2="1449.50" y2="1453.28" stroke="#E8E6E6" stroke-width="2.9" />
<line x1="1055.50" y1="1453.28" x2="1059.30" y2="1453.28" stroke="#111" stroke-width="2.4" />
<text transform="translate(1052.50,1459.28) scale(1.045,1)" font-size="17.64" fill="#000" text-anchor="end" font-weight="normal"  stroke="#000" stroke-width="0.2">Cationic antimicrobial peptide (CAMP) resistance</text>
<line x1="1092.60" y1="1470.94" x2="1449.50" y2="1470.94" stroke="#E8E6E6" stroke-width="2.9" />
<line x1="1055.50" y1="1470.94" x2="1059.30" y2="1470.94" stroke="#111" stroke-width="2.4" />
<text transform="translate(1052.50,1476.94) scale(1.045,1)" font-size="17.64" fill="#000" text-anchor="end" font-weight="normal"  stroke="#000" stroke-width="0.2">C5−Branched dibasic acid metabolism</text>
<line x1="1092.60" y1="1488.61" x2="1449.50" y2="1488.61" stroke="#E8E6E6" stroke-width="2.9" />
<line x1="1055.50" y1="1488.61" x2="1059.30" y2="1488.61" stroke="#111" stroke-width="2.4" />
<text transform="translate(1052.50,1494.61) scale(1.045,1)" font-size="17.64" fill="#000" text-anchor="end" font-weight="normal"  stroke="#000" stroke-width="0.2">Xylene degradation</text>
<clipPath id="cf1231"><rect x="1090.6" y="1231.3" width="361.20000000000005" height="267.29999999999995"/></clipPath><g clip-path="url(#cf1231)">
<circle cx="1418.00" cy="1241.30" r="13.2" fill="#22223C" />
<circle cx="1304.10" cy="1258.96" r="11.4" fill="#22223C" />
<circle cx="1222.80" cy="1276.63" r="9.8" fill="#2F3357" />
<circle cx="1206.40" cy="1294.29" r="9.5" fill="#22223C" />
<circle cx="1174.10" cy="1311.96" r="8.5" fill="#3F5A8C" />
<circle cx="1174.10" cy="1329.62" r="8.5" fill="#22223C" />
<circle cx="1174.10" cy="1347.29" r="8.5" fill="#2A2D4F" />
<circle cx="1157.70" cy="1364.95" r="8" fill="#4A6495" />
<circle cx="1157.70" cy="1382.62" r="8" fill="#2C3052" />
<circle cx="1157.70" cy="1400.28" r="8" fill="#48629A" />
<circle cx="1125.10" cy="1417.95" r="6.6" fill="#2A2E50" />
<circle cx="1125.10" cy="1435.62" r="6.6" fill="#272A4A" />
<circle cx="1125.10" cy="1453.28" r="6.6" fill="#4C72AE" />
<circle cx="1125.10" cy="1470.94" r="6.6" fill="#262848" />
<circle cx="1109.00" cy="1488.61" r="4.5" fill="#6AA3DE" />
</g>
<rect x="1059.30" y="1231.30" width="31.30" height="267.30" fill="#373578" />
<g ><text transform="translate(1081.91,1364.95) rotate(-90)" font-size="19.6" fill="#fff" text-anchor="middle" font-weight="bold">IgANvsControl</text></g>
<line x1="1090.60" y1="1231.30" x2="1090.60" y2="1498.60" stroke="#111" stroke-width="2.4" />
<rect x="1059.30" y="1231.30" width="392.50" height="267.30" fill="none" stroke="#111" stroke-width="2.1"/>
<rect x="1090.60" y="1508.40" width="361.20" height="124.50" fill="#ffffff" />
<line x1="1130.90" y1="1509.40" x2="1130.90" y2="1631.90" stroke="#E8E6E6" stroke-width="1.7" />
<line x1="1272.80" y1="1509.40" x2="1272.80" y2="1631.90" stroke="#E8E6E6" stroke-width="1.7" />
<line x1="1414.10" y1="1509.40" x2="1414.10" y2="1631.90" stroke="#E8E6E6" stroke-width="1.7" />
<line x1="1201.90" y1="1509.40" x2="1201.90" y2="1631.90" stroke="#E8E6E6" stroke-width="2.6" />
<line x1="1343.10" y1="1509.40" x2="1343.10" y2="1631.90" stroke="#E8E6E6" stroke-width="2.6" />
<line x1="1092.60" y1="1516.80" x2="1449.50" y2="1516.80" stroke="#E8E6E6" stroke-width="2.9" />
<line x1="1055.50" y1="1516.80" x2="1059.30" y2="1516.80" stroke="#111" stroke-width="2.4" />
<text transform="translate(1052.50,1522.80) scale(1.045,1)" font-size="17.64" fill="#000" text-anchor="end" font-weight="normal"  stroke="#000" stroke-width="0.2">Degradation of aromatic compounds</text>
<line x1="1092.60" y1="1532.19" x2="1449.50" y2="1532.19" stroke="#E8E6E6" stroke-width="2.9" />
<line x1="1055.50" y1="1532.19" x2="1059.30" y2="1532.19" stroke="#111" stroke-width="2.4" />
<text transform="translate(1052.50,1538.19) scale(1.045,1)" font-size="17.64" fill="#000" text-anchor="end" font-weight="normal"  stroke="#000" stroke-width="0.2">Quorum sensing</text>
<line x1="1092.60" y1="1547.58" x2="1449.50" y2="1547.58" stroke="#E8E6E6" stroke-width="2.9" />
<line x1="1055.50" y1="1547.58" x2="1059.30" y2="1547.58" stroke="#111" stroke-width="2.4" />
<text transform="translate(1052.50,1553.58) scale(1.045,1)" font-size="17.64" fill="#000" text-anchor="end" font-weight="normal"  stroke="#000" stroke-width="0.2">Biosynthesis of cofactors</text>
<line x1="1092.60" y1="1562.97" x2="1449.50" y2="1562.97" stroke="#E8E6E6" stroke-width="2.9" />
<line x1="1055.50" y1="1562.97" x2="1059.30" y2="1562.97" stroke="#111" stroke-width="2.4" />
<text transform="translate(1052.50,1568.97) scale(1.045,1)" font-size="17.64" fill="#000" text-anchor="end" font-weight="normal"  stroke="#000" stroke-width="0.2">Folate biosynthesis</text>
<line x1="1092.60" y1="1578.36" x2="1449.50" y2="1578.36" stroke="#E8E6E6" stroke-width="2.9" />
<line x1="1055.50" y1="1578.36" x2="1059.30" y2="1578.36" stroke="#111" stroke-width="2.4" />
<text transform="translate(1052.50,1584.36) scale(1.045,1)" font-size="17.64" fill="#000" text-anchor="end" font-weight="normal"  stroke="#000" stroke-width="0.2">Tyrosine metabolism</text>
<line x1="1092.60" y1="1593.75" x2="1449.50" y2="1593.75" stroke="#E8E6E6" stroke-width="2.9" />
<line x1="1055.50" y1="1593.75" x2="1059.30" y2="1593.75" stroke="#111" stroke-width="2.4" />
<text transform="translate(1052.50,1599.75) scale(1.045,1)" font-size="17.64" fill="#000" text-anchor="end" font-weight="normal"  stroke="#000" stroke-width="0.2">Phenylalanine, tyrosine and tryptophan biosynthesis</text>
<line x1="1092.60" y1="1609.14" x2="1449.50" y2="1609.14" stroke="#E8E6E6" stroke-width="2.9" />
<line x1="1055.50" y1="1609.14" x2="1059.30" y2="1609.14" stroke="#111" stroke-width="2.4" />
<text transform="translate(1052.50,1615.14) scale(1.045,1)" font-size="17.64" fill="#000" text-anchor="end" font-weight="normal"  stroke="#000" stroke-width="0.2">Nucleotide metabolism</text>
<line x1="1092.60" y1="1624.53" x2="1449.50" y2="1624.53" stroke="#E8E6E6" stroke-width="2.9" />
<line x1="1055.50" y1="1624.53" x2="1059.30" y2="1624.53" stroke="#111" stroke-width="2.4" />
<text transform="translate(1052.50,1630.53) scale(1.045,1)" font-size="17.64" fill="#000" text-anchor="end" font-weight="normal"  stroke="#000" stroke-width="0.2">Sulfur relay system</text>
<clipPath id="cf1508"><rect x="1090.6" y="1508.4" width="361.20000000000005" height="124.5"/></clipPath><g clip-path="url(#cf1508)">
<circle cx="1278.00" cy="1516.80" r="9.2" fill="#22223C" />
<circle cx="1350.20" cy="1532.19" r="10.6" fill="#1E1E38" />
<circle cx="1278.00" cy="1547.58" r="9.2" fill="#5E95D0" />
<circle cx="1229.60" cy="1562.97" r="8.4" fill="#1E1E38" />
<circle cx="1181.20" cy="1578.36" r="7.4" fill="#2F3763" />
<circle cx="1181.20" cy="1593.75" r="7.4" fill="#242746" />
<circle cx="1181.20" cy="1609.14" r="7.4" fill="#5B8FCC" />
<circle cx="1132.90" cy="1624.53" r="4.5" fill="#46649A" />
</g>
<rect x="1059.30" y="1508.40" width="31.30" height="124.50" fill="#82ADD1" />
<g clip-path="url(#clipS2)"><text transform="translate(1082.05,1570.65) rotate(-90)" font-size="20" fill="#fff" text-anchor="middle" font-weight="bold">MNvsControl</text></g>
<line x1="1090.60" y1="1508.40" x2="1090.60" y2="1632.90" stroke="#111" stroke-width="2.4" />
<rect x="1059.30" y="1508.40" width="392.50" height="124.50" fill="none" stroke="#111" stroke-width="2.1"/>
<rect x="1090.60" y="1642.50" width="361.20" height="30.00" fill="#ffffff" />
<line x1="1130.90" y1="1643.50" x2="1130.90" y2="1671.50" stroke="#E8E6E6" stroke-width="1.7" />
<line x1="1272.80" y1="1643.50" x2="1272.80" y2="1671.50" stroke="#E8E6E6" stroke-width="1.7" />
<line x1="1414.10" y1="1643.50" x2="1414.10" y2="1671.50" stroke="#E8E6E6" stroke-width="1.7" />
<line x1="1201.90" y1="1643.50" x2="1201.90" y2="1671.50" stroke="#E8E6E6" stroke-width="2.6" />
<line x1="1343.10" y1="1643.50" x2="1343.10" y2="1671.50" stroke="#E8E6E6" stroke-width="2.6" />
<line x1="1092.60" y1="1650.30" x2="1449.50" y2="1650.30" stroke="#E8E6E6" stroke-width="2.9" />
<line x1="1055.50" y1="1650.30" x2="1059.30" y2="1650.30" stroke="#111" stroke-width="2.4" />
<text transform="translate(1052.50,1656.30) scale(1.045,1)" font-size="17.64" fill="#000" text-anchor="end" font-weight="normal"  stroke="#000" stroke-width="0.2">Galactose metabolism</text>
<line x1="1092.60" y1="1664.80" x2="1449.50" y2="1664.80" stroke="#E8E6E6" stroke-width="2.9" />
<line x1="1055.50" y1="1664.80" x2="1059.30" y2="1664.80" stroke="#111" stroke-width="2.4" />
<text transform="translate(1052.50,1670.80) scale(1.045,1)" font-size="17.64" fill="#000" text-anchor="end" font-weight="normal"  stroke="#000" stroke-width="0.2">Biosynthesis of ansamycins</text>
<clipPath id="cf1642"><rect x="1090.6" y="1642.5" width="361.20000000000005" height="30.0"/></clipPath><g clip-path="url(#cf1642)">
<circle cx="1205.10" cy="1650.30" r="6.6" fill="#44629A" />
<circle cx="1169.00" cy="1664.80" r="4.5" fill="#46649A" />
</g>
<rect x="1059.30" y="1642.50" width="31.30" height="30.00" fill="#C9B3D8" />
<g ><text transform="translate(1076.80,1657.50) rotate(-90)" font-size="5.2" fill="#fff" text-anchor="middle" font-weight="bold">IgANvsMN</text></g>
<line x1="1090.60" y1="1642.50" x2="1090.60" y2="1672.50" stroke="#111" stroke-width="2.4" />
<rect x="1059.30" y="1642.50" width="392.50" height="30.00" fill="none" stroke="#111" stroke-width="2.1"/>
<text transform="translate(1210.60,1688.40) rotate(-45) scale(1.04,1)" font-size="16.35" fill="#000" text-anchor="end" font-weight="normal"  stroke="#000" stroke-width="0.2">0.05</text>
<line x1="1201.90" y1="1672.50" x2="1201.90" y2="1677.00" stroke="#111" stroke-width="2.4" />
<text transform="translate(1351.80,1688.40) rotate(-45) scale(1.04,1)" font-size="16.35" fill="#000" text-anchor="end" font-weight="normal"  stroke="#000" stroke-width="0.2">0.10</text>
<line x1="1343.10" y1="1672.50" x2="1343.10" y2="1677.00" stroke="#111" stroke-width="2.4" />
<text transform="translate(1271.20,1730.20) scale(1.04,1)" font-size="14.90" fill="#000" text-anchor="middle" font-weight="normal"  stroke="#000" stroke-width="0.2">GeneRatio</text>
<text transform="translate(1476.00,1312.50) scale(1.04,1)" font-size="14.71" fill="#000" text-anchor="start" font-weight="normal"  stroke="#000" stroke-width="0.2">Count</text>
<circle cx="1491.10" cy="1333.50" r="7.6" fill="#0B0B0B" />
<text transform="translate(1514.00,1338.00) scale(1.04,1)" font-size="12.12" fill="#000" text-anchor="start" font-weight="normal"  stroke="#000" stroke-width="0.2">5</text>
<circle cx="1491.10" cy="1358.00" r="10.2" fill="#0B0B0B" />
<text transform="translate(1514.00,1362.50) scale(1.04,1)" font-size="12.12" fill="#000" text-anchor="start" font-weight="normal"  stroke="#000" stroke-width="0.2">10</text>
<circle cx="1491.10" cy="1384.10" r="12.1" fill="#0B0B0B" />
<text transform="translate(1514.00,1388.60) scale(1.04,1)" font-size="12.12" fill="#000" text-anchor="start" font-weight="normal"  stroke="#000" stroke-width="0.2">15</text>
<circle cx="1491.10" cy="1412.80" r="13.4" fill="#0B0B0B" />
<text transform="translate(1514.00,1417.30) scale(1.04,1)" font-size="12.12" fill="#000" text-anchor="start" font-weight="normal"  stroke="#000" stroke-width="0.2">20</text>
<text transform="translate(1476.00,1472.80) scale(1.04,1)" font-size="14.71" fill="#000" text-anchor="start" font-weight="normal"  stroke="#000" stroke-width="0.2">p.adjust</text>
<rect x="1475.50" y="1482.20" width="24.80" height="122.80" fill="url(#padj)" />
<line x1="1475.30" y1="1502.90" x2="1480.30" y2="1502.90" stroke="#fff" stroke-width="1" />
<line x1="1495.50" y1="1502.90" x2="1500.50" y2="1502.90" stroke="#fff" stroke-width="1" />
<text transform="translate(1508.00,1507.70) scale(1.04,1)" font-size="12.40" fill="#000" text-anchor="start" font-weight="normal"  stroke="#000" stroke-width="0.2">0.04</text>
<line x1="1475.30" y1="1528.00" x2="1480.30" y2="1528.00" stroke="#fff" stroke-width="1" />
<line x1="1495.50" y1="1528.00" x2="1500.50" y2="1528.00" stroke="#fff" stroke-width="1" />
<text transform="translate(1508.00,1532.80) scale(1.04,1)" font-size="12.40" fill="#000" text-anchor="start" font-weight="normal"  stroke="#000" stroke-width="0.2">0.03</text>
<line x1="1475.30" y1="1553.50" x2="1480.30" y2="1553.50" stroke="#fff" stroke-width="1" />
<line x1="1495.50" y1="1553.50" x2="1500.50" y2="1553.50" stroke="#fff" stroke-width="1" />
<text transform="translate(1508.00,1558.30) scale(1.04,1)" font-size="12.40" fill="#000" text-anchor="start" font-weight="normal"  stroke="#000" stroke-width="0.2">0.02</text>
<line x1="1475.30" y1="1579.30" x2="1480.30" y2="1579.30" stroke="#fff" stroke-width="1" />
<line x1="1495.50" y1="1579.30" x2="1500.50" y2="1579.30" stroke="#fff" stroke-width="1" />
<text transform="translate(1508.00,1584.10) scale(1.04,1)" font-size="12.40" fill="#000" text-anchor="start" font-weight="normal"  stroke="#000" stroke-width="0.2">0.01</text>
</g>
</svg>
</body>
</html>
